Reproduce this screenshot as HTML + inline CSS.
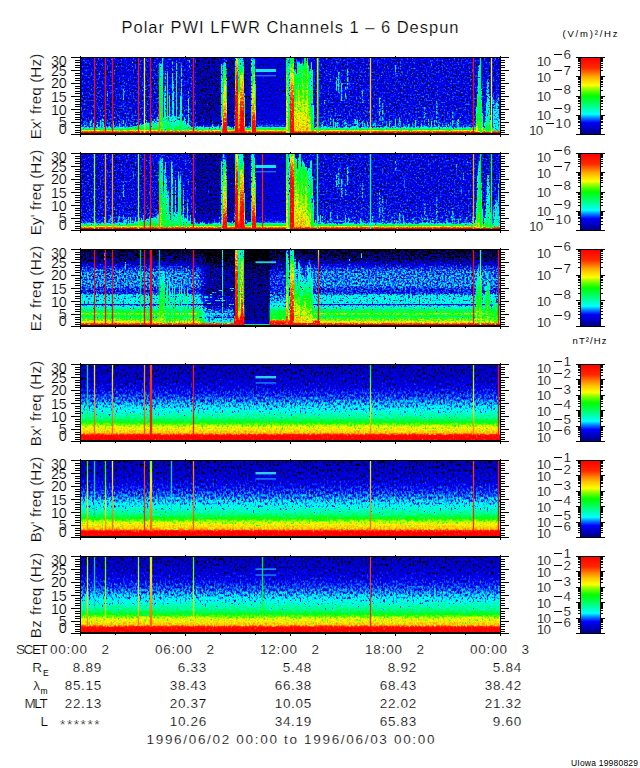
<!DOCTYPE html>
<html><head><meta charset="utf-8"><title>Polar PWI LFWR</title><style>html,body{margin:0;padding:0;background:#fff}text{stroke:#fff;stroke-width:.2px}text.s{stroke:none}</style></head><body>
<svg width="640" height="768" viewBox="0 0 640 768" style="display:block" font-family="'Liberation Sans', sans-serif" fill="#000">
<defs>
<filter id="f0" filterUnits="userSpaceOnUse" x="81" y="58" width="419" height="76" color-interpolation-filters="sRGB"><feTurbulence type="fractalNoise" baseFrequency="0.57 0.53" numOctaves="2" seed="3" result="n"/><feColorMatrix in="n" type="matrix" values="1 0 0 0 0  1 0 0 0 0  1 0 0 0 0  0 0 0 0 1" result="ng0"/><feComponentTransfer in="ng0" result="ng"><feFuncR type="table" tableValues="0.000 0.000 0.000 0.000 0.000 0.000 0.000 0.000 0.000 0.000 0.000 0.000 0.002 0.045 0.095 0.139 0.177 0.210 0.242 0.270 0.294 0.319 0.345 0.365 0.383 0.401 0.417 0.433 0.449 0.464 0.479 0.493 0.508 0.521 0.533 0.544 0.554 0.564 0.574 0.583 0.592 0.600 0.609 0.619 0.627 0.636 0.645 0.653 0.662 0.670 0.678 0.687 0.695 0.702 0.710 0.718 0.725 0.725 0.725 0.725 0.725 0.725 0.725 0.725"/><feFuncG type="table" tableValues="0.000 0.000 0.000 0.000 0.000 0.000 0.000 0.000 0.000 0.000 0.000 0.000 0.002 0.045 0.095 0.139 0.177 0.210 0.242 0.270 0.294 0.319 0.345 0.365 0.383 0.401 0.417 0.433 0.449 0.464 0.479 0.493 0.508 0.521 0.533 0.544 0.554 0.564 0.574 0.583 0.592 0.600 0.609 0.619 0.627 0.636 0.645 0.653 0.662 0.670 0.678 0.687 0.695 0.702 0.710 0.718 0.725 0.725 0.725 0.725 0.725 0.725 0.725 0.725"/><feFuncB type="table" tableValues="0.000 0.000 0.000 0.000 0.000 0.000 0.000 0.000 0.000 0.000 0.000 0.000 0.002 0.045 0.095 0.139 0.177 0.210 0.242 0.270 0.294 0.319 0.345 0.365 0.383 0.401 0.417 0.433 0.449 0.464 0.479 0.493 0.508 0.521 0.533 0.544 0.554 0.564 0.574 0.583 0.592 0.600 0.609 0.619 0.627 0.636 0.645 0.653 0.662 0.670 0.678 0.687 0.695 0.702 0.710 0.718 0.725 0.725 0.725 0.725 0.725 0.725 0.725 0.725"/></feComponentTransfer><feComposite in="SourceGraphic" in2="ng" operator="arithmetic" k1="0" k2="1" k3="0.46" k4="-0.230" result="s"/><feComponentTransfer in="s"><feFuncR type="table" tableValues="0.000 0.000 0.000 0.000 0.000 0.000 0.000 0.000 0.000 0.000 0.000 0.000 0.000 0.000 0.000 0.000 0.000 0.000 0.000 0.000 0.000 0.000 0.000 0.000 0.000 0.000 0.000 0.000 0.000 0.000 0.000 0.000 0.000 0.000 0.063 0.169 0.278 0.384 0.490 0.596 0.737 0.894 1.000 1.000 1.000 1.000 1.000 1.000 1.000 1.000 1.000 1.000 1.000 1.000 1.000 1.000 1.000 1.000 1.000 1.000 1.000 1.000 1.000 1.000"/><feFuncG type="table" tableValues="0.000 0.000 0.000 0.000 0.000 0.000 0.000 0.000 0.000 0.000 0.000 0.000 0.000 0.047 0.192 0.337 0.478 0.639 0.804 0.973 1.000 1.000 1.000 1.000 1.000 1.000 1.000 1.000 1.000 1.000 1.000 1.000 1.000 1.000 1.000 1.000 1.000 1.000 1.000 1.000 1.000 1.000 0.984 0.941 0.894 0.847 0.804 0.745 0.678 0.612 0.545 0.475 0.400 0.325 0.251 0.180 0.141 0.122 0.102 0.082 0.063 0.039 0.020 0.000"/><feFuncB type="table" tableValues="0.000 0.000 0.000 0.000 0.000 0.000 0.635 0.690 0.745 0.800 0.855 0.910 0.965 1.000 1.000 1.000 1.000 1.000 1.000 1.000 0.941 0.871 0.796 0.725 0.651 0.576 0.502 0.427 0.357 0.290 0.224 0.157 0.090 0.027 0.000 0.000 0.000 0.000 0.000 0.000 0.000 0.000 0.000 0.000 0.000 0.000 0.000 0.000 0.000 0.000 0.000 0.000 0.000 0.000 0.000 0.000 0.000 0.000 0.000 0.000 0.000 0.000 0.000 0.000"/></feComponentTransfer></filter>
<filter id="f1" filterUnits="userSpaceOnUse" x="81" y="154" width="419" height="76" color-interpolation-filters="sRGB"><feTurbulence type="fractalNoise" baseFrequency="0.57 0.53" numOctaves="2" seed="8" result="n"/><feColorMatrix in="n" type="matrix" values="1 0 0 0 0  1 0 0 0 0  1 0 0 0 0  0 0 0 0 1" result="ng0"/><feComponentTransfer in="ng0" result="ng"><feFuncR type="table" tableValues="0.000 0.000 0.000 0.000 0.000 0.000 0.000 0.000 0.000 0.000 0.000 0.000 0.002 0.045 0.095 0.139 0.177 0.210 0.242 0.270 0.294 0.319 0.345 0.365 0.383 0.401 0.417 0.433 0.449 0.464 0.479 0.493 0.508 0.521 0.533 0.544 0.554 0.564 0.574 0.583 0.592 0.600 0.609 0.619 0.627 0.636 0.645 0.653 0.662 0.670 0.678 0.687 0.695 0.702 0.710 0.718 0.725 0.725 0.725 0.725 0.725 0.725 0.725 0.725"/><feFuncG type="table" tableValues="0.000 0.000 0.000 0.000 0.000 0.000 0.000 0.000 0.000 0.000 0.000 0.000 0.002 0.045 0.095 0.139 0.177 0.210 0.242 0.270 0.294 0.319 0.345 0.365 0.383 0.401 0.417 0.433 0.449 0.464 0.479 0.493 0.508 0.521 0.533 0.544 0.554 0.564 0.574 0.583 0.592 0.600 0.609 0.619 0.627 0.636 0.645 0.653 0.662 0.670 0.678 0.687 0.695 0.702 0.710 0.718 0.725 0.725 0.725 0.725 0.725 0.725 0.725 0.725"/><feFuncB type="table" tableValues="0.000 0.000 0.000 0.000 0.000 0.000 0.000 0.000 0.000 0.000 0.000 0.000 0.002 0.045 0.095 0.139 0.177 0.210 0.242 0.270 0.294 0.319 0.345 0.365 0.383 0.401 0.417 0.433 0.449 0.464 0.479 0.493 0.508 0.521 0.533 0.544 0.554 0.564 0.574 0.583 0.592 0.600 0.609 0.619 0.627 0.636 0.645 0.653 0.662 0.670 0.678 0.687 0.695 0.702 0.710 0.718 0.725 0.725 0.725 0.725 0.725 0.725 0.725 0.725"/></feComponentTransfer><feComposite in="SourceGraphic" in2="ng" operator="arithmetic" k1="0" k2="1" k3="0.46" k4="-0.230" result="s"/><feComponentTransfer in="s"><feFuncR type="table" tableValues="0.000 0.000 0.000 0.000 0.000 0.000 0.000 0.000 0.000 0.000 0.000 0.000 0.000 0.000 0.000 0.000 0.000 0.000 0.000 0.000 0.000 0.000 0.000 0.000 0.000 0.000 0.000 0.000 0.000 0.000 0.000 0.000 0.000 0.000 0.063 0.169 0.278 0.384 0.490 0.596 0.737 0.894 1.000 1.000 1.000 1.000 1.000 1.000 1.000 1.000 1.000 1.000 1.000 1.000 1.000 1.000 1.000 1.000 1.000 1.000 1.000 1.000 1.000 1.000"/><feFuncG type="table" tableValues="0.000 0.000 0.000 0.000 0.000 0.000 0.000 0.000 0.000 0.000 0.000 0.000 0.000 0.047 0.192 0.337 0.478 0.639 0.804 0.973 1.000 1.000 1.000 1.000 1.000 1.000 1.000 1.000 1.000 1.000 1.000 1.000 1.000 1.000 1.000 1.000 1.000 1.000 1.000 1.000 1.000 1.000 0.984 0.941 0.894 0.847 0.804 0.745 0.678 0.612 0.545 0.475 0.400 0.325 0.251 0.180 0.141 0.122 0.102 0.082 0.063 0.039 0.020 0.000"/><feFuncB type="table" tableValues="0.000 0.000 0.000 0.000 0.000 0.000 0.635 0.690 0.745 0.800 0.855 0.910 0.965 1.000 1.000 1.000 1.000 1.000 1.000 1.000 0.941 0.871 0.796 0.725 0.651 0.576 0.502 0.427 0.357 0.290 0.224 0.157 0.090 0.027 0.000 0.000 0.000 0.000 0.000 0.000 0.000 0.000 0.000 0.000 0.000 0.000 0.000 0.000 0.000 0.000 0.000 0.000 0.000 0.000 0.000 0.000 0.000 0.000 0.000 0.000 0.000 0.000 0.000 0.000"/></feComponentTransfer></filter>
<filter id="f2" filterUnits="userSpaceOnUse" x="81" y="250" width="419" height="76" color-interpolation-filters="sRGB"><feTurbulence type="fractalNoise" baseFrequency="0.57 0.53" numOctaves="2" seed="13" result="n"/><feColorMatrix in="n" type="matrix" values="1 0 0 0 0  1 0 0 0 0  1 0 0 0 0  0 0 0 0 1" result="ng0"/><feComponentTransfer in="ng0" result="ng"><feFuncR type="table" tableValues="0.000 0.000 0.000 0.000 0.000 0.000 0.000 0.000 0.000 0.000 0.000 0.000 0.002 0.045 0.095 0.139 0.177 0.210 0.242 0.270 0.294 0.319 0.345 0.365 0.383 0.401 0.417 0.433 0.449 0.464 0.479 0.493 0.508 0.521 0.533 0.544 0.554 0.564 0.574 0.583 0.592 0.600 0.609 0.619 0.627 0.636 0.645 0.653 0.662 0.670 0.678 0.687 0.695 0.702 0.710 0.718 0.725 0.725 0.725 0.725 0.725 0.725 0.725 0.725"/><feFuncG type="table" tableValues="0.000 0.000 0.000 0.000 0.000 0.000 0.000 0.000 0.000 0.000 0.000 0.000 0.002 0.045 0.095 0.139 0.177 0.210 0.242 0.270 0.294 0.319 0.345 0.365 0.383 0.401 0.417 0.433 0.449 0.464 0.479 0.493 0.508 0.521 0.533 0.544 0.554 0.564 0.574 0.583 0.592 0.600 0.609 0.619 0.627 0.636 0.645 0.653 0.662 0.670 0.678 0.687 0.695 0.702 0.710 0.718 0.725 0.725 0.725 0.725 0.725 0.725 0.725 0.725"/><feFuncB type="table" tableValues="0.000 0.000 0.000 0.000 0.000 0.000 0.000 0.000 0.000 0.000 0.000 0.000 0.002 0.045 0.095 0.139 0.177 0.210 0.242 0.270 0.294 0.319 0.345 0.365 0.383 0.401 0.417 0.433 0.449 0.464 0.479 0.493 0.508 0.521 0.533 0.544 0.554 0.564 0.574 0.583 0.592 0.600 0.609 0.619 0.627 0.636 0.645 0.653 0.662 0.670 0.678 0.687 0.695 0.702 0.710 0.718 0.725 0.725 0.725 0.725 0.725 0.725 0.725 0.725"/></feComponentTransfer><feComposite in="SourceGraphic" in2="ng" operator="arithmetic" k1="0" k2="1" k3="0.48" k4="-0.240" result="s"/><feComponentTransfer in="s"><feFuncR type="table" tableValues="0.000 0.000 0.000 0.000 0.000 0.000 0.000 0.000 0.000 0.000 0.000 0.000 0.000 0.000 0.000 0.000 0.000 0.000 0.000 0.000 0.000 0.000 0.000 0.000 0.000 0.000 0.000 0.000 0.000 0.000 0.000 0.000 0.000 0.000 0.063 0.169 0.278 0.384 0.490 0.596 0.737 0.894 1.000 1.000 1.000 1.000 1.000 1.000 1.000 1.000 1.000 1.000 1.000 1.000 1.000 1.000 1.000 1.000 1.000 1.000 1.000 1.000 1.000 1.000"/><feFuncG type="table" tableValues="0.000 0.000 0.000 0.000 0.000 0.000 0.000 0.000 0.000 0.000 0.000 0.000 0.000 0.047 0.192 0.337 0.478 0.639 0.804 0.973 1.000 1.000 1.000 1.000 1.000 1.000 1.000 1.000 1.000 1.000 1.000 1.000 1.000 1.000 1.000 1.000 1.000 1.000 1.000 1.000 1.000 1.000 0.984 0.941 0.894 0.847 0.804 0.745 0.678 0.612 0.545 0.475 0.400 0.325 0.251 0.180 0.141 0.122 0.102 0.082 0.063 0.039 0.020 0.000"/><feFuncB type="table" tableValues="0.000 0.000 0.000 0.000 0.000 0.000 0.635 0.690 0.745 0.800 0.855 0.910 0.965 1.000 1.000 1.000 1.000 1.000 1.000 1.000 0.941 0.871 0.796 0.725 0.651 0.576 0.502 0.427 0.357 0.290 0.224 0.157 0.090 0.027 0.000 0.000 0.000 0.000 0.000 0.000 0.000 0.000 0.000 0.000 0.000 0.000 0.000 0.000 0.000 0.000 0.000 0.000 0.000 0.000 0.000 0.000 0.000 0.000 0.000 0.000 0.000 0.000 0.000 0.000"/></feComponentTransfer></filter>
<filter id="f3" filterUnits="userSpaceOnUse" x="81" y="365" width="419" height="76" color-interpolation-filters="sRGB"><feTurbulence type="fractalNoise" baseFrequency="0.55 0.36" numOctaves="2" seed="18" result="n"/><feColorMatrix in="n" type="matrix" values="1 0 0 0 0  1 0 0 0 0  1 0 0 0 0  0 0 0 0 1" result="ng0"/><feComponentTransfer in="ng0" result="ng"><feFuncR type="table" tableValues="0.000 0.000 0.000 0.000 0.000 0.000 0.000 0.000 0.000 0.000 0.000 0.000 0.002 0.045 0.095 0.139 0.177 0.210 0.242 0.270 0.294 0.319 0.345 0.365 0.383 0.401 0.417 0.433 0.449 0.464 0.479 0.493 0.508 0.521 0.533 0.544 0.554 0.564 0.574 0.583 0.592 0.600 0.609 0.619 0.627 0.636 0.645 0.653 0.662 0.670 0.678 0.687 0.695 0.702 0.710 0.718 0.725 0.725 0.725 0.725 0.725 0.725 0.725 0.725"/><feFuncG type="table" tableValues="0.000 0.000 0.000 0.000 0.000 0.000 0.000 0.000 0.000 0.000 0.000 0.000 0.002 0.045 0.095 0.139 0.177 0.210 0.242 0.270 0.294 0.319 0.345 0.365 0.383 0.401 0.417 0.433 0.449 0.464 0.479 0.493 0.508 0.521 0.533 0.544 0.554 0.564 0.574 0.583 0.592 0.600 0.609 0.619 0.627 0.636 0.645 0.653 0.662 0.670 0.678 0.687 0.695 0.702 0.710 0.718 0.725 0.725 0.725 0.725 0.725 0.725 0.725 0.725"/><feFuncB type="table" tableValues="0.000 0.000 0.000 0.000 0.000 0.000 0.000 0.000 0.000 0.000 0.000 0.000 0.002 0.045 0.095 0.139 0.177 0.210 0.242 0.270 0.294 0.319 0.345 0.365 0.383 0.401 0.417 0.433 0.449 0.464 0.479 0.493 0.508 0.521 0.533 0.544 0.554 0.564 0.574 0.583 0.592 0.600 0.609 0.619 0.627 0.636 0.645 0.653 0.662 0.670 0.678 0.687 0.695 0.702 0.710 0.718 0.725 0.725 0.725 0.725 0.725 0.725 0.725 0.725"/></feComponentTransfer><feComposite in="SourceGraphic" in2="ng" operator="arithmetic" k1="0" k2="1" k3="0.34" k4="-0.170" result="s"/><feComponentTransfer in="s"><feFuncR type="table" tableValues="0.000 0.000 0.000 0.000 0.000 0.000 0.000 0.000 0.000 0.000 0.000 0.000 0.000 0.000 0.000 0.000 0.000 0.000 0.000 0.000 0.000 0.000 0.000 0.000 0.000 0.000 0.000 0.000 0.000 0.000 0.000 0.000 0.000 0.000 0.063 0.169 0.278 0.384 0.490 0.596 0.737 0.894 1.000 1.000 1.000 1.000 1.000 1.000 1.000 1.000 1.000 1.000 1.000 1.000 1.000 1.000 1.000 1.000 1.000 1.000 1.000 1.000 1.000 1.000"/><feFuncG type="table" tableValues="0.000 0.000 0.000 0.000 0.000 0.000 0.000 0.000 0.000 0.000 0.000 0.000 0.000 0.047 0.192 0.337 0.478 0.639 0.804 0.973 1.000 1.000 1.000 1.000 1.000 1.000 1.000 1.000 1.000 1.000 1.000 1.000 1.000 1.000 1.000 1.000 1.000 1.000 1.000 1.000 1.000 1.000 0.984 0.941 0.894 0.847 0.804 0.745 0.678 0.612 0.545 0.475 0.400 0.325 0.251 0.180 0.141 0.122 0.102 0.082 0.063 0.039 0.020 0.000"/><feFuncB type="table" tableValues="0.000 0.000 0.000 0.000 0.000 0.000 0.635 0.690 0.745 0.800 0.855 0.910 0.965 1.000 1.000 1.000 1.000 1.000 1.000 1.000 0.941 0.871 0.796 0.725 0.651 0.576 0.502 0.427 0.357 0.290 0.224 0.157 0.090 0.027 0.000 0.000 0.000 0.000 0.000 0.000 0.000 0.000 0.000 0.000 0.000 0.000 0.000 0.000 0.000 0.000 0.000 0.000 0.000 0.000 0.000 0.000 0.000 0.000 0.000 0.000 0.000 0.000 0.000 0.000"/></feComponentTransfer></filter>
<filter id="f4" filterUnits="userSpaceOnUse" x="81" y="461" width="419" height="76" color-interpolation-filters="sRGB"><feTurbulence type="fractalNoise" baseFrequency="0.55 0.36" numOctaves="2" seed="23" result="n"/><feColorMatrix in="n" type="matrix" values="1 0 0 0 0  1 0 0 0 0  1 0 0 0 0  0 0 0 0 1" result="ng0"/><feComponentTransfer in="ng0" result="ng"><feFuncR type="table" tableValues="0.000 0.000 0.000 0.000 0.000 0.000 0.000 0.000 0.000 0.000 0.000 0.000 0.002 0.045 0.095 0.139 0.177 0.210 0.242 0.270 0.294 0.319 0.345 0.365 0.383 0.401 0.417 0.433 0.449 0.464 0.479 0.493 0.508 0.521 0.533 0.544 0.554 0.564 0.574 0.583 0.592 0.600 0.609 0.619 0.627 0.636 0.645 0.653 0.662 0.670 0.678 0.687 0.695 0.702 0.710 0.718 0.725 0.725 0.725 0.725 0.725 0.725 0.725 0.725"/><feFuncG type="table" tableValues="0.000 0.000 0.000 0.000 0.000 0.000 0.000 0.000 0.000 0.000 0.000 0.000 0.002 0.045 0.095 0.139 0.177 0.210 0.242 0.270 0.294 0.319 0.345 0.365 0.383 0.401 0.417 0.433 0.449 0.464 0.479 0.493 0.508 0.521 0.533 0.544 0.554 0.564 0.574 0.583 0.592 0.600 0.609 0.619 0.627 0.636 0.645 0.653 0.662 0.670 0.678 0.687 0.695 0.702 0.710 0.718 0.725 0.725 0.725 0.725 0.725 0.725 0.725 0.725"/><feFuncB type="table" tableValues="0.000 0.000 0.000 0.000 0.000 0.000 0.000 0.000 0.000 0.000 0.000 0.000 0.002 0.045 0.095 0.139 0.177 0.210 0.242 0.270 0.294 0.319 0.345 0.365 0.383 0.401 0.417 0.433 0.449 0.464 0.479 0.493 0.508 0.521 0.533 0.544 0.554 0.564 0.574 0.583 0.592 0.600 0.609 0.619 0.627 0.636 0.645 0.653 0.662 0.670 0.678 0.687 0.695 0.702 0.710 0.718 0.725 0.725 0.725 0.725 0.725 0.725 0.725 0.725"/></feComponentTransfer><feComposite in="SourceGraphic" in2="ng" operator="arithmetic" k1="0" k2="1" k3="0.34" k4="-0.170" result="s"/><feComponentTransfer in="s"><feFuncR type="table" tableValues="0.000 0.000 0.000 0.000 0.000 0.000 0.000 0.000 0.000 0.000 0.000 0.000 0.000 0.000 0.000 0.000 0.000 0.000 0.000 0.000 0.000 0.000 0.000 0.000 0.000 0.000 0.000 0.000 0.000 0.000 0.000 0.000 0.000 0.000 0.063 0.169 0.278 0.384 0.490 0.596 0.737 0.894 1.000 1.000 1.000 1.000 1.000 1.000 1.000 1.000 1.000 1.000 1.000 1.000 1.000 1.000 1.000 1.000 1.000 1.000 1.000 1.000 1.000 1.000"/><feFuncG type="table" tableValues="0.000 0.000 0.000 0.000 0.000 0.000 0.000 0.000 0.000 0.000 0.000 0.000 0.000 0.047 0.192 0.337 0.478 0.639 0.804 0.973 1.000 1.000 1.000 1.000 1.000 1.000 1.000 1.000 1.000 1.000 1.000 1.000 1.000 1.000 1.000 1.000 1.000 1.000 1.000 1.000 1.000 1.000 0.984 0.941 0.894 0.847 0.804 0.745 0.678 0.612 0.545 0.475 0.400 0.325 0.251 0.180 0.141 0.122 0.102 0.082 0.063 0.039 0.020 0.000"/><feFuncB type="table" tableValues="0.000 0.000 0.000 0.000 0.000 0.000 0.635 0.690 0.745 0.800 0.855 0.910 0.965 1.000 1.000 1.000 1.000 1.000 1.000 1.000 0.941 0.871 0.796 0.725 0.651 0.576 0.502 0.427 0.357 0.290 0.224 0.157 0.090 0.027 0.000 0.000 0.000 0.000 0.000 0.000 0.000 0.000 0.000 0.000 0.000 0.000 0.000 0.000 0.000 0.000 0.000 0.000 0.000 0.000 0.000 0.000 0.000 0.000 0.000 0.000 0.000 0.000 0.000 0.000"/></feComponentTransfer></filter>
<filter id="f5" filterUnits="userSpaceOnUse" x="81" y="557" width="419" height="76" color-interpolation-filters="sRGB"><feTurbulence type="fractalNoise" baseFrequency="0.55 0.36" numOctaves="2" seed="28" result="n"/><feColorMatrix in="n" type="matrix" values="1 0 0 0 0  1 0 0 0 0  1 0 0 0 0  0 0 0 0 1" result="ng0"/><feComponentTransfer in="ng0" result="ng"><feFuncR type="table" tableValues="0.000 0.000 0.000 0.000 0.000 0.000 0.000 0.000 0.000 0.000 0.000 0.000 0.002 0.045 0.095 0.139 0.177 0.210 0.242 0.270 0.294 0.319 0.345 0.365 0.383 0.401 0.417 0.433 0.449 0.464 0.479 0.493 0.508 0.521 0.533 0.544 0.554 0.564 0.574 0.583 0.592 0.600 0.609 0.619 0.627 0.636 0.645 0.653 0.662 0.670 0.678 0.687 0.695 0.702 0.710 0.718 0.725 0.725 0.725 0.725 0.725 0.725 0.725 0.725"/><feFuncG type="table" tableValues="0.000 0.000 0.000 0.000 0.000 0.000 0.000 0.000 0.000 0.000 0.000 0.000 0.002 0.045 0.095 0.139 0.177 0.210 0.242 0.270 0.294 0.319 0.345 0.365 0.383 0.401 0.417 0.433 0.449 0.464 0.479 0.493 0.508 0.521 0.533 0.544 0.554 0.564 0.574 0.583 0.592 0.600 0.609 0.619 0.627 0.636 0.645 0.653 0.662 0.670 0.678 0.687 0.695 0.702 0.710 0.718 0.725 0.725 0.725 0.725 0.725 0.725 0.725 0.725"/><feFuncB type="table" tableValues="0.000 0.000 0.000 0.000 0.000 0.000 0.000 0.000 0.000 0.000 0.000 0.000 0.002 0.045 0.095 0.139 0.177 0.210 0.242 0.270 0.294 0.319 0.345 0.365 0.383 0.401 0.417 0.433 0.449 0.464 0.479 0.493 0.508 0.521 0.533 0.544 0.554 0.564 0.574 0.583 0.592 0.600 0.609 0.619 0.627 0.636 0.645 0.653 0.662 0.670 0.678 0.687 0.695 0.702 0.710 0.718 0.725 0.725 0.725 0.725 0.725 0.725 0.725 0.725"/></feComponentTransfer><feComposite in="SourceGraphic" in2="ng" operator="arithmetic" k1="0" k2="1" k3="0.34" k4="-0.170" result="s"/><feComponentTransfer in="s"><feFuncR type="table" tableValues="0.000 0.000 0.000 0.000 0.000 0.000 0.000 0.000 0.000 0.000 0.000 0.000 0.000 0.000 0.000 0.000 0.000 0.000 0.000 0.000 0.000 0.000 0.000 0.000 0.000 0.000 0.000 0.000 0.000 0.000 0.000 0.000 0.000 0.000 0.063 0.169 0.278 0.384 0.490 0.596 0.737 0.894 1.000 1.000 1.000 1.000 1.000 1.000 1.000 1.000 1.000 1.000 1.000 1.000 1.000 1.000 1.000 1.000 1.000 1.000 1.000 1.000 1.000 1.000"/><feFuncG type="table" tableValues="0.000 0.000 0.000 0.000 0.000 0.000 0.000 0.000 0.000 0.000 0.000 0.000 0.000 0.047 0.192 0.337 0.478 0.639 0.804 0.973 1.000 1.000 1.000 1.000 1.000 1.000 1.000 1.000 1.000 1.000 1.000 1.000 1.000 1.000 1.000 1.000 1.000 1.000 1.000 1.000 1.000 1.000 0.984 0.941 0.894 0.847 0.804 0.745 0.678 0.612 0.545 0.475 0.400 0.325 0.251 0.180 0.141 0.122 0.102 0.082 0.063 0.039 0.020 0.000"/><feFuncB type="table" tableValues="0.000 0.000 0.000 0.000 0.000 0.000 0.635 0.690 0.745 0.800 0.855 0.910 0.965 1.000 1.000 1.000 1.000 1.000 1.000 1.000 0.941 0.871 0.796 0.725 0.651 0.576 0.502 0.427 0.357 0.290 0.224 0.157 0.090 0.027 0.000 0.000 0.000 0.000 0.000 0.000 0.000 0.000 0.000 0.000 0.000 0.000 0.000 0.000 0.000 0.000 0.000 0.000 0.000 0.000 0.000 0.000 0.000 0.000 0.000 0.000 0.000 0.000 0.000 0.000"/></feComponentTransfer></filter>
<filter id="q0" filterUnits="userSpaceOnUse" x="256" y="58" width="30" height="76" color-interpolation-filters="sRGB"><feTurbulence type="fractalNoise" baseFrequency="0.57 0.53" numOctaves="2" seed="2" result="n"/><feColorMatrix in="n" type="matrix" values="1 0 0 0 0  1 0 0 0 0  1 0 0 0 0  0 0 0 0 1" result="ng0"/><feComponentTransfer in="ng0" result="ng"><feFuncR type="table" tableValues="0.000 0.000 0.000 0.000 0.000 0.000 0.000 0.000 0.000 0.000 0.000 0.000 0.002 0.045 0.095 0.139 0.177 0.210 0.242 0.270 0.294 0.319 0.345 0.365 0.383 0.401 0.417 0.433 0.449 0.464 0.479 0.493 0.508 0.521 0.533 0.544 0.554 0.564 0.574 0.583 0.592 0.600 0.609 0.619 0.627 0.636 0.645 0.653 0.662 0.670 0.678 0.687 0.695 0.702 0.710 0.718 0.725 0.725 0.725 0.725 0.725 0.725 0.725 0.725"/><feFuncG type="table" tableValues="0.000 0.000 0.000 0.000 0.000 0.000 0.000 0.000 0.000 0.000 0.000 0.000 0.002 0.045 0.095 0.139 0.177 0.210 0.242 0.270 0.294 0.319 0.345 0.365 0.383 0.401 0.417 0.433 0.449 0.464 0.479 0.493 0.508 0.521 0.533 0.544 0.554 0.564 0.574 0.583 0.592 0.600 0.609 0.619 0.627 0.636 0.645 0.653 0.662 0.670 0.678 0.687 0.695 0.702 0.710 0.718 0.725 0.725 0.725 0.725 0.725 0.725 0.725 0.725"/><feFuncB type="table" tableValues="0.000 0.000 0.000 0.000 0.000 0.000 0.000 0.000 0.000 0.000 0.000 0.000 0.002 0.045 0.095 0.139 0.177 0.210 0.242 0.270 0.294 0.319 0.345 0.365 0.383 0.401 0.417 0.433 0.449 0.464 0.479 0.493 0.508 0.521 0.533 0.544 0.554 0.564 0.574 0.583 0.592 0.600 0.609 0.619 0.627 0.636 0.645 0.653 0.662 0.670 0.678 0.687 0.695 0.702 0.710 0.718 0.725 0.725 0.725 0.725 0.725 0.725 0.725 0.725"/></feComponentTransfer><feComposite in="SourceGraphic" in2="ng" operator="arithmetic" k1="0" k2="1" k3="0.3" k4="-0.150" result="s"/><feComponentTransfer in="s"><feFuncR type="table" tableValues="0.000 0.000 0.000 0.000 0.000 0.000 0.000 0.000 0.000 0.000 0.000 0.000 0.000 0.000 0.000 0.000 0.000 0.000 0.000 0.000 0.000 0.000 0.000 0.000 0.000 0.000 0.000 0.000 0.000 0.000 0.000 0.000 0.000 0.000 0.063 0.169 0.278 0.384 0.490 0.596 0.737 0.894 1.000 1.000 1.000 1.000 1.000 1.000 1.000 1.000 1.000 1.000 1.000 1.000 1.000 1.000 1.000 1.000 1.000 1.000 1.000 1.000 1.000 1.000"/><feFuncG type="table" tableValues="0.000 0.000 0.000 0.000 0.000 0.000 0.000 0.000 0.000 0.000 0.000 0.000 0.000 0.047 0.192 0.337 0.478 0.639 0.804 0.973 1.000 1.000 1.000 1.000 1.000 1.000 1.000 1.000 1.000 1.000 1.000 1.000 1.000 1.000 1.000 1.000 1.000 1.000 1.000 1.000 1.000 1.000 0.984 0.941 0.894 0.847 0.804 0.745 0.678 0.612 0.545 0.475 0.400 0.325 0.251 0.180 0.141 0.122 0.102 0.082 0.063 0.039 0.020 0.000"/><feFuncB type="table" tableValues="0.000 0.000 0.000 0.000 0.000 0.000 0.635 0.690 0.745 0.800 0.855 0.910 0.965 1.000 1.000 1.000 1.000 1.000 1.000 1.000 0.941 0.871 0.796 0.725 0.651 0.576 0.502 0.427 0.357 0.290 0.224 0.157 0.090 0.027 0.000 0.000 0.000 0.000 0.000 0.000 0.000 0.000 0.000 0.000 0.000 0.000 0.000 0.000 0.000 0.000 0.000 0.000 0.000 0.000 0.000 0.000 0.000 0.000 0.000 0.000 0.000 0.000 0.000 0.000"/></feComponentTransfer></filter>
<filter id="q1" filterUnits="userSpaceOnUse" x="256" y="154" width="30" height="76" color-interpolation-filters="sRGB"><feTurbulence type="fractalNoise" baseFrequency="0.57 0.53" numOctaves="2" seed="9" result="n"/><feColorMatrix in="n" type="matrix" values="1 0 0 0 0  1 0 0 0 0  1 0 0 0 0  0 0 0 0 1" result="ng0"/><feComponentTransfer in="ng0" result="ng"><feFuncR type="table" tableValues="0.000 0.000 0.000 0.000 0.000 0.000 0.000 0.000 0.000 0.000 0.000 0.000 0.002 0.045 0.095 0.139 0.177 0.210 0.242 0.270 0.294 0.319 0.345 0.365 0.383 0.401 0.417 0.433 0.449 0.464 0.479 0.493 0.508 0.521 0.533 0.544 0.554 0.564 0.574 0.583 0.592 0.600 0.609 0.619 0.627 0.636 0.645 0.653 0.662 0.670 0.678 0.687 0.695 0.702 0.710 0.718 0.725 0.725 0.725 0.725 0.725 0.725 0.725 0.725"/><feFuncG type="table" tableValues="0.000 0.000 0.000 0.000 0.000 0.000 0.000 0.000 0.000 0.000 0.000 0.000 0.002 0.045 0.095 0.139 0.177 0.210 0.242 0.270 0.294 0.319 0.345 0.365 0.383 0.401 0.417 0.433 0.449 0.464 0.479 0.493 0.508 0.521 0.533 0.544 0.554 0.564 0.574 0.583 0.592 0.600 0.609 0.619 0.627 0.636 0.645 0.653 0.662 0.670 0.678 0.687 0.695 0.702 0.710 0.718 0.725 0.725 0.725 0.725 0.725 0.725 0.725 0.725"/><feFuncB type="table" tableValues="0.000 0.000 0.000 0.000 0.000 0.000 0.000 0.000 0.000 0.000 0.000 0.000 0.002 0.045 0.095 0.139 0.177 0.210 0.242 0.270 0.294 0.319 0.345 0.365 0.383 0.401 0.417 0.433 0.449 0.464 0.479 0.493 0.508 0.521 0.533 0.544 0.554 0.564 0.574 0.583 0.592 0.600 0.609 0.619 0.627 0.636 0.645 0.653 0.662 0.670 0.678 0.687 0.695 0.702 0.710 0.718 0.725 0.725 0.725 0.725 0.725 0.725 0.725 0.725"/></feComponentTransfer><feComposite in="SourceGraphic" in2="ng" operator="arithmetic" k1="0" k2="1" k3="0.3" k4="-0.150" result="s"/><feComponentTransfer in="s"><feFuncR type="table" tableValues="0.000 0.000 0.000 0.000 0.000 0.000 0.000 0.000 0.000 0.000 0.000 0.000 0.000 0.000 0.000 0.000 0.000 0.000 0.000 0.000 0.000 0.000 0.000 0.000 0.000 0.000 0.000 0.000 0.000 0.000 0.000 0.000 0.000 0.000 0.063 0.169 0.278 0.384 0.490 0.596 0.737 0.894 1.000 1.000 1.000 1.000 1.000 1.000 1.000 1.000 1.000 1.000 1.000 1.000 1.000 1.000 1.000 1.000 1.000 1.000 1.000 1.000 1.000 1.000"/><feFuncG type="table" tableValues="0.000 0.000 0.000 0.000 0.000 0.000 0.000 0.000 0.000 0.000 0.000 0.000 0.000 0.047 0.192 0.337 0.478 0.639 0.804 0.973 1.000 1.000 1.000 1.000 1.000 1.000 1.000 1.000 1.000 1.000 1.000 1.000 1.000 1.000 1.000 1.000 1.000 1.000 1.000 1.000 1.000 1.000 0.984 0.941 0.894 0.847 0.804 0.745 0.678 0.612 0.545 0.475 0.400 0.325 0.251 0.180 0.141 0.122 0.102 0.082 0.063 0.039 0.020 0.000"/><feFuncB type="table" tableValues="0.000 0.000 0.000 0.000 0.000 0.000 0.635 0.690 0.745 0.800 0.855 0.910 0.965 1.000 1.000 1.000 1.000 1.000 1.000 1.000 0.941 0.871 0.796 0.725 0.651 0.576 0.502 0.427 0.357 0.290 0.224 0.157 0.090 0.027 0.000 0.000 0.000 0.000 0.000 0.000 0.000 0.000 0.000 0.000 0.000 0.000 0.000 0.000 0.000 0.000 0.000 0.000 0.000 0.000 0.000 0.000 0.000 0.000 0.000 0.000 0.000 0.000 0.000 0.000"/></feComponentTransfer></filter>
<filter id="q2" filterUnits="userSpaceOnUse" x="244.5" y="250" width="25.0" height="76" color-interpolation-filters="sRGB"><feTurbulence type="fractalNoise" baseFrequency="0.57 0.53" numOctaves="2" seed="16" result="n"/><feColorMatrix in="n" type="matrix" values="1 0 0 0 0  1 0 0 0 0  1 0 0 0 0  0 0 0 0 1" result="ng0"/><feComponentTransfer in="ng0" result="ng"><feFuncR type="table" tableValues="0.000 0.000 0.000 0.000 0.000 0.000 0.000 0.000 0.000 0.000 0.000 0.000 0.002 0.045 0.095 0.139 0.177 0.210 0.242 0.270 0.294 0.319 0.345 0.365 0.383 0.401 0.417 0.433 0.449 0.464 0.479 0.493 0.508 0.521 0.533 0.544 0.554 0.564 0.574 0.583 0.592 0.600 0.609 0.619 0.627 0.636 0.645 0.653 0.662 0.670 0.678 0.687 0.695 0.702 0.710 0.718 0.725 0.725 0.725 0.725 0.725 0.725 0.725 0.725"/><feFuncG type="table" tableValues="0.000 0.000 0.000 0.000 0.000 0.000 0.000 0.000 0.000 0.000 0.000 0.000 0.002 0.045 0.095 0.139 0.177 0.210 0.242 0.270 0.294 0.319 0.345 0.365 0.383 0.401 0.417 0.433 0.449 0.464 0.479 0.493 0.508 0.521 0.533 0.544 0.554 0.564 0.574 0.583 0.592 0.600 0.609 0.619 0.627 0.636 0.645 0.653 0.662 0.670 0.678 0.687 0.695 0.702 0.710 0.718 0.725 0.725 0.725 0.725 0.725 0.725 0.725 0.725"/><feFuncB type="table" tableValues="0.000 0.000 0.000 0.000 0.000 0.000 0.000 0.000 0.000 0.000 0.000 0.000 0.002 0.045 0.095 0.139 0.177 0.210 0.242 0.270 0.294 0.319 0.345 0.365 0.383 0.401 0.417 0.433 0.449 0.464 0.479 0.493 0.508 0.521 0.533 0.544 0.554 0.564 0.574 0.583 0.592 0.600 0.609 0.619 0.627 0.636 0.645 0.653 0.662 0.670 0.678 0.687 0.695 0.702 0.710 0.718 0.725 0.725 0.725 0.725 0.725 0.725 0.725 0.725"/></feComponentTransfer><feComposite in="SourceGraphic" in2="ng" operator="arithmetic" k1="0" k2="1" k3="0.2" k4="-0.100" result="s"/><feComponentTransfer in="s"><feFuncR type="table" tableValues="0.000 0.000 0.000 0.000 0.000 0.000 0.000 0.000 0.000 0.000 0.000 0.000 0.000 0.000 0.000 0.000 0.000 0.000 0.000 0.000 0.000 0.000 0.000 0.000 0.000 0.000 0.000 0.000 0.000 0.000 0.000 0.000 0.000 0.000 0.063 0.169 0.278 0.384 0.490 0.596 0.737 0.894 1.000 1.000 1.000 1.000 1.000 1.000 1.000 1.000 1.000 1.000 1.000 1.000 1.000 1.000 1.000 1.000 1.000 1.000 1.000 1.000 1.000 1.000"/><feFuncG type="table" tableValues="0.000 0.000 0.000 0.000 0.000 0.000 0.000 0.000 0.000 0.000 0.000 0.000 0.000 0.047 0.192 0.337 0.478 0.639 0.804 0.973 1.000 1.000 1.000 1.000 1.000 1.000 1.000 1.000 1.000 1.000 1.000 1.000 1.000 1.000 1.000 1.000 1.000 1.000 1.000 1.000 1.000 1.000 0.984 0.941 0.894 0.847 0.804 0.745 0.678 0.612 0.545 0.475 0.400 0.325 0.251 0.180 0.141 0.122 0.102 0.082 0.063 0.039 0.020 0.000"/><feFuncB type="table" tableValues="0.000 0.000 0.000 0.000 0.000 0.000 0.635 0.690 0.745 0.800 0.855 0.910 0.965 1.000 1.000 1.000 1.000 1.000 1.000 1.000 0.941 0.871 0.796 0.725 0.651 0.576 0.502 0.427 0.357 0.290 0.224 0.157 0.090 0.027 0.000 0.000 0.000 0.000 0.000 0.000 0.000 0.000 0.000 0.000 0.000 0.000 0.000 0.000 0.000 0.000 0.000 0.000 0.000 0.000 0.000 0.000 0.000 0.000 0.000 0.000 0.000 0.000 0.000 0.000"/></feComponentTransfer></filter>
<linearGradient id="ebg" x1="0" y1="0" x2="0" y2="1"><stop offset="0.000" stop-color="#2d2d2d"/><stop offset="0.620" stop-color="#2e2e2e"/><stop offset="0.800" stop-color="#313131"/><stop offset="0.860" stop-color="#343434"/><stop offset="0.891" stop-color="#3a3a3a"/><stop offset="0.904" stop-color="#4e4e4e"/><stop offset="0.917" stop-color="#666666"/><stop offset="0.929" stop-color="#828282"/><stop offset="0.942" stop-color="#a4a4a4"/><stop offset="0.955" stop-color="#d4d4d4"/><stop offset="0.966" stop-color="#ffffff"/><stop offset="1.000" stop-color="#ffffff"/></linearGradient>
<linearGradient id="ezbg" x1="0" y1="0" x2="0" y2="1"><stop offset="0.000" stop-color="#0f0f0f"/><stop offset="0.080" stop-color="#141414"/><stop offset="0.140" stop-color="#1b1b1b"/><stop offset="0.190" stop-color="#272727"/><stop offset="0.240" stop-color="#363636"/><stop offset="0.300" stop-color="#404040"/><stop offset="0.470" stop-color="#424242"/><stop offset="0.510" stop-color="#383838"/><stop offset="0.535" stop-color="#343434"/><stop offset="0.565" stop-color="#343434"/><stop offset="0.595" stop-color="#4f4f4f"/><stop offset="0.700" stop-color="#545454"/><stop offset="0.704" stop-color="#2e2e2e"/><stop offset="0.722" stop-color="#2e2e2e"/><stop offset="0.726" stop-color="#555555"/><stop offset="0.765" stop-color="#5c5c5c"/><stop offset="0.775" stop-color="#747474"/><stop offset="0.815" stop-color="#797979"/><stop offset="0.820" stop-color="#9a9a9a"/><stop offset="0.838" stop-color="#9a9a9a"/><stop offset="0.843" stop-color="#828282"/><stop offset="0.868" stop-color="#828282"/><stop offset="0.872" stop-color="#666666"/><stop offset="0.885" stop-color="#666666"/><stop offset="0.890" stop-color="#919191"/><stop offset="0.920" stop-color="#9a9a9a"/><stop offset="0.930" stop-color="#aeaeae"/><stop offset="0.950" stop-color="#bcbcbc"/><stop offset="0.957" stop-color="#dddddd"/><stop offset="0.972" stop-color="#ffffff"/><stop offset="1.000" stop-color="#ffffff"/></linearGradient>
<linearGradient id="bbg3" x1="0" y1="0" x2="0" y2="1"><stop offset="0.000" stop-color="#202020"/><stop offset="0.150" stop-color="#242424"/><stop offset="0.290" stop-color="#2c2c2c"/><stop offset="0.450" stop-color="#3d3d3d"/><stop offset="0.550" stop-color="#4b4b4b"/><stop offset="0.620" stop-color="#575757"/><stop offset="0.690" stop-color="#686868"/><stop offset="0.744" stop-color="#828282"/><stop offset="0.795" stop-color="#a4a4a4"/><stop offset="0.830" stop-color="#aeaeae"/><stop offset="0.879" stop-color="#bcbcbc"/><stop offset="0.897" stop-color="#cfcfcf"/><stop offset="0.912" stop-color="#f3f3f3"/><stop offset="0.930" stop-color="#ffffff"/><stop offset="1.000" stop-color="#ffffff"/></linearGradient>
<linearGradient id="bbg4" x1="0" y1="0" x2="0" y2="1"><stop offset="0.000" stop-color="#202020"/><stop offset="0.150" stop-color="#242424"/><stop offset="0.290" stop-color="#2c2c2c"/><stop offset="0.450" stop-color="#3d3d3d"/><stop offset="0.550" stop-color="#4b4b4b"/><stop offset="0.620" stop-color="#575757"/><stop offset="0.690" stop-color="#686868"/><stop offset="0.744" stop-color="#828282"/><stop offset="0.795" stop-color="#a4a4a4"/><stop offset="0.830" stop-color="#aeaeae"/><stop offset="0.879" stop-color="#bcbcbc"/><stop offset="0.897" stop-color="#cfcfcf"/><stop offset="0.912" stop-color="#f3f3f3"/><stop offset="0.930" stop-color="#ffffff"/><stop offset="1.000" stop-color="#ffffff"/></linearGradient>
<linearGradient id="bbg5" x1="0" y1="0" x2="0" y2="1"><stop offset="0.000" stop-color="#202020"/><stop offset="0.150" stop-color="#252525"/><stop offset="0.290" stop-color="#2e2e2e"/><stop offset="0.450" stop-color="#3f3f3f"/><stop offset="0.550" stop-color="#4e4e4e"/><stop offset="0.620" stop-color="#5a5a5a"/><stop offset="0.690" stop-color="#6a6a6a"/><stop offset="0.744" stop-color="#828282"/><stop offset="0.795" stop-color="#a4a4a4"/><stop offset="0.830" stop-color="#aeaeae"/><stop offset="0.879" stop-color="#bcbcbc"/><stop offset="0.897" stop-color="#cfcfcf"/><stop offset="0.912" stop-color="#f3f3f3"/><stop offset="0.930" stop-color="#ffffff"/><stop offset="1.000" stop-color="#ffffff"/></linearGradient>
<linearGradient id="cbar" x1="0" y1="0" x2="0" y2="1"><stop offset="0.000" stop-color="#ff0000"/><stop offset="0.130" stop-color="#ff2800"/><stop offset="0.220" stop-color="#ff8c00"/><stop offset="0.280" stop-color="#ffc800"/><stop offset="0.360" stop-color="#ffff00"/><stop offset="0.400" stop-color="#a0ff00"/><stop offset="0.500" stop-color="#00ff00"/><stop offset="0.600" stop-color="#00ff64"/><stop offset="0.680" stop-color="#00ffbe"/><stop offset="0.740" stop-color="#00ffff"/><stop offset="0.790" stop-color="#0082ff"/><stop offset="0.850" stop-color="#0000ff"/><stop offset="1.000" stop-color="#000083"/></linearGradient>
<linearGradient id="fadeT" x1="0" y1="0" x2="0" y2="1"><stop offset="0" stop-color="#000" stop-opacity="0.6"/><stop offset="0.9" stop-color="#000" stop-opacity="0"/></linearGradient>
<linearGradient id="g1" x1="0" y1="0" x2="0" y2="1"><stop offset="0.000" stop-color="#444444" stop-opacity="0"/><stop offset="0.300" stop-color="#444444"/><stop offset="0.700" stop-color="#616161"/><stop offset="1.000" stop-color="#878787"/></linearGradient>
<linearGradient id="g2" x1="0" y1="0" x2="0" y2="1"><stop offset="0.000" stop-color="#6d6d6d" stop-opacity="0"/><stop offset="0.059" stop-color="#6d6d6d" stop-opacity="0"/><stop offset="0.129" stop-color="#6d6d6d"/><stop offset="0.600" stop-color="#8d8d8d"/><stop offset="1.000" stop-color="#acacac"/></linearGradient>
<linearGradient id="g3" x1="0" y1="0" x2="0" y2="1"><stop offset="0.000" stop-color="#5d5d5d" stop-opacity="0"/><stop offset="0.074" stop-color="#5d5d5d" stop-opacity="0"/><stop offset="0.144" stop-color="#5d5d5d"/><stop offset="0.600" stop-color="#7d7d7d"/><stop offset="1.000" stop-color="#9c9c9c"/></linearGradient>
<linearGradient id="g4" x1="0" y1="0" x2="0" y2="1"><stop offset="0.000" stop-color="#656565" stop-opacity="0"/><stop offset="0.052" stop-color="#656565" stop-opacity="0"/><stop offset="0.122" stop-color="#656565"/><stop offset="0.600" stop-color="#7a7a7a"/><stop offset="1.000" stop-color="#8e8e8e"/></linearGradient>
<linearGradient id="g5" x1="0" y1="0" x2="0" y2="1"><stop offset="0.000" stop-color="#5c5c5c"/><stop offset="0.500" stop-color="#767676"/><stop offset="1.000" stop-color="#909090"/></linearGradient>
<linearGradient id="g6" x1="0" y1="0" x2="0" y2="1"><stop offset="0.000" stop-color="#3e3e3e" stop-opacity="0"/><stop offset="0.390" stop-color="#3e3e3e" stop-opacity="0"/><stop offset="0.460" stop-color="#3e3e3e"/><stop offset="0.600" stop-color="#565656"/><stop offset="1.000" stop-color="#6e6e6e"/></linearGradient>
<linearGradient id="g7" x1="0" y1="0" x2="0" y2="1"><stop offset="0.000" stop-color="#383838" stop-opacity="0"/><stop offset="0.090" stop-color="#383838" stop-opacity="0"/><stop offset="0.160" stop-color="#383838"/><stop offset="0.600" stop-color="#515151"/><stop offset="1.000" stop-color="#696969"/></linearGradient>
<linearGradient id="g8" x1="0" y1="0" x2="0" y2="1"><stop offset="0.000" stop-color="#5d5d5d" stop-opacity="0"/><stop offset="0.166" stop-color="#5d5d5d" stop-opacity="0"/><stop offset="0.236" stop-color="#5d5d5d"/><stop offset="0.600" stop-color="#727272"/><stop offset="1.000" stop-color="#878787"/></linearGradient>
<linearGradient id="g9" x1="0" y1="0" x2="0" y2="1"><stop offset="0.000" stop-color="#5b5b5b" stop-opacity="0"/><stop offset="0.484" stop-color="#5b5b5b" stop-opacity="0"/><stop offset="0.554" stop-color="#5b5b5b"/><stop offset="0.634" stop-color="#6e6e6e"/><stop offset="1.000" stop-color="#818181"/></linearGradient>
<linearGradient id="g10" x1="0" y1="0" x2="0" y2="1"><stop offset="0.000" stop-color="#474747" stop-opacity="0"/><stop offset="0.032" stop-color="#474747" stop-opacity="0"/><stop offset="0.102" stop-color="#474747"/><stop offset="0.600" stop-color="#565656"/><stop offset="1.000" stop-color="#666666"/></linearGradient>
<linearGradient id="g11" x1="0" y1="0" x2="0" y2="1"><stop offset="0.000" stop-color="#424242" stop-opacity="0"/><stop offset="0.256" stop-color="#424242" stop-opacity="0"/><stop offset="0.326" stop-color="#424242"/><stop offset="0.600" stop-color="#555555"/><stop offset="1.000" stop-color="#696969"/></linearGradient>
<linearGradient id="g12" x1="0" y1="0" x2="0" y2="1"><stop offset="0.000" stop-color="#545454" stop-opacity="0"/><stop offset="0.038" stop-color="#545454" stop-opacity="0"/><stop offset="0.108" stop-color="#545454"/><stop offset="0.600" stop-color="#676767"/><stop offset="1.000" stop-color="#7a7a7a"/></linearGradient>
<linearGradient id="g13" x1="0" y1="0" x2="0" y2="1"><stop offset="0.000" stop-color="#4e4e4e" stop-opacity="0"/><stop offset="0.473" stop-color="#4e4e4e" stop-opacity="0"/><stop offset="0.543" stop-color="#4e4e4e"/><stop offset="0.623" stop-color="#646464"/><stop offset="1.000" stop-color="#7a7a7a"/></linearGradient>
<linearGradient id="g14" x1="0" y1="0" x2="0" y2="1"><stop offset="0.000" stop-color="#4d4d4d" stop-opacity="0"/><stop offset="0.081" stop-color="#4d4d4d" stop-opacity="0"/><stop offset="0.151" stop-color="#4d4d4d"/><stop offset="0.600" stop-color="#636363"/><stop offset="1.000" stop-color="#787878"/></linearGradient>
<linearGradient id="g15" x1="0" y1="0" x2="0" y2="1"><stop offset="0.000" stop-color="#363636" stop-opacity="0"/><stop offset="0.667" stop-color="#363636" stop-opacity="0"/><stop offset="0.737" stop-color="#363636"/><stop offset="0.817" stop-color="#4a4a4a"/><stop offset="1.000" stop-color="#5e5e5e"/></linearGradient>
<linearGradient id="g16" x1="0" y1="0" x2="0" y2="1"><stop offset="0.000" stop-color="#373737" stop-opacity="0"/><stop offset="0.365" stop-color="#373737" stop-opacity="0"/><stop offset="0.435" stop-color="#373737"/><stop offset="0.600" stop-color="#4f4f4f"/><stop offset="1.000" stop-color="#676767"/></linearGradient>
<linearGradient id="g17" x1="0" y1="0" x2="0" y2="1"><stop offset="0.000" stop-color="#2a2a2a"/><stop offset="0.750" stop-color="#2c2c2c"/><stop offset="0.860" stop-color="#3f3f3f"/><stop offset="0.920" stop-color="#6f6f6f"/><stop offset="0.950" stop-color="#b7b7b7"/><stop offset="0.975" stop-color="#ffffff"/><stop offset="1.000" stop-color="#ffffff"/></linearGradient>
<linearGradient id="g18" x1="0" y1="0" x2="0" y2="1"><stop offset="0.000" stop-color="#6e6e6e" stop-opacity="0"/><stop offset="0.161" stop-color="#6e6e6e" stop-opacity="0"/><stop offset="0.241" stop-color="#6e6e6e"/><stop offset="0.600" stop-color="#8c8c8c"/><stop offset="1.000" stop-color="#bfbfbf"/></linearGradient>
<linearGradient id="g19" x1="0" y1="0" x2="0" y2="1"><stop offset="0.000" stop-color="#797979" stop-opacity="0"/><stop offset="0.193" stop-color="#797979" stop-opacity="0"/><stop offset="0.273" stop-color="#797979"/><stop offset="0.600" stop-color="#a3a3a3"/><stop offset="1.000" stop-color="#c2c2c2"/></linearGradient>
<linearGradient id="g20" x1="0" y1="0" x2="0" y2="1"><stop offset="0.000" stop-color="#707070" stop-opacity="0"/><stop offset="0.045" stop-color="#707070" stop-opacity="0"/><stop offset="0.125" stop-color="#707070"/><stop offset="0.600" stop-color="#8e8e8e"/><stop offset="1.000" stop-color="#bdbdbd"/></linearGradient>
<linearGradient id="g21" x1="0" y1="0" x2="0" y2="1"><stop offset="0.000" stop-color="#838383" stop-opacity="0"/><stop offset="0.051" stop-color="#838383" stop-opacity="0"/><stop offset="0.131" stop-color="#838383"/><stop offset="0.600" stop-color="#aaaaaa"/><stop offset="1.000" stop-color="#bfbfbf"/></linearGradient>
<linearGradient id="g22" x1="0" y1="0" x2="0" y2="1"><stop offset="0.000" stop-color="#6c6c6c" stop-opacity="0"/><stop offset="0.048" stop-color="#6c6c6c" stop-opacity="0"/><stop offset="0.128" stop-color="#6c6c6c"/><stop offset="0.600" stop-color="#9d9d9d"/><stop offset="1.000" stop-color="#b7b7b7"/></linearGradient>
<linearGradient id="g23" x1="0" y1="0" x2="0" y2="1"><stop offset="0.000" stop-color="#646464" stop-opacity="0"/><stop offset="0.057" stop-color="#646464" stop-opacity="0"/><stop offset="0.137" stop-color="#646464"/><stop offset="0.600" stop-color="#939393"/><stop offset="1.000" stop-color="#b5b5b5"/></linearGradient>
<linearGradient id="g24" x1="0" y1="0" x2="0" y2="1"><stop offset="0.000" stop-color="#878787" stop-opacity="0"/><stop offset="0.044" stop-color="#878787" stop-opacity="0"/><stop offset="0.124" stop-color="#878787"/><stop offset="0.600" stop-color="#a7a7a7"/><stop offset="1.000" stop-color="#bdbdbd"/></linearGradient>
<linearGradient id="g25" x1="0" y1="0" x2="0" y2="1"><stop offset="0.000" stop-color="#777777" stop-opacity="0"/><stop offset="0.079" stop-color="#777777" stop-opacity="0"/><stop offset="0.159" stop-color="#777777"/><stop offset="0.600" stop-color="#a0a0a0"/><stop offset="1.000" stop-color="#b8b8b8"/></linearGradient>
<linearGradient id="g26" x1="0" y1="0" x2="0" y2="1"><stop offset="0.000" stop-color="#7c7c7c"/><stop offset="0.550" stop-color="#8d8d8d"/><stop offset="1.000" stop-color="#b4b4b4"/></linearGradient>
<linearGradient id="g27" x1="0" y1="0" x2="0" y2="1"><stop offset="0.000" stop-color="#797979" stop-opacity="0"/><stop offset="0.042" stop-color="#797979" stop-opacity="0"/><stop offset="0.122" stop-color="#797979"/><stop offset="0.600" stop-color="#9f9f9f"/><stop offset="1.000" stop-color="#c6c6c6"/></linearGradient>
<linearGradient id="g28" x1="0" y1="0" x2="0" y2="1"><stop offset="0.000" stop-color="#838383"/><stop offset="0.550" stop-color="#b1b1b1"/><stop offset="1.000" stop-color="#c9c9c9"/></linearGradient>
<linearGradient id="g29" x1="0" y1="0" x2="0" y2="1"><stop offset="0.000" stop-color="#7c7c7c" stop-opacity="0"/><stop offset="0.086" stop-color="#7c7c7c" stop-opacity="0"/><stop offset="0.166" stop-color="#7c7c7c"/><stop offset="0.600" stop-color="#8c8c8c"/><stop offset="1.000" stop-color="#b1b1b1"/></linearGradient>
<linearGradient id="g30" x1="0" y1="0" x2="0" y2="1"><stop offset="0.000" stop-color="#717171" stop-opacity="0"/><stop offset="0.154" stop-color="#717171" stop-opacity="0"/><stop offset="0.234" stop-color="#717171"/><stop offset="0.600" stop-color="#8b8b8b"/><stop offset="1.000" stop-color="#bebebe"/></linearGradient>
<linearGradient id="g31" x1="0" y1="0" x2="0" y2="1"><stop offset="0.000" stop-color="#727272" stop-opacity="0"/><stop offset="0.043" stop-color="#727272" stop-opacity="0"/><stop offset="0.123" stop-color="#727272"/><stop offset="0.600" stop-color="#989898"/><stop offset="1.000" stop-color="#c2c2c2"/></linearGradient>
<linearGradient id="g32" x1="0" y1="0" x2="0" y2="1"><stop offset="0.000" stop-color="#4f4f4f" stop-opacity="0"/><stop offset="0.277" stop-color="#4f4f4f" stop-opacity="0"/><stop offset="0.357" stop-color="#4f4f4f"/><stop offset="0.600" stop-color="#8a8a8a"/><stop offset="1.000" stop-color="#b2b2b2"/></linearGradient>
<linearGradient id="g33" x1="0" y1="0" x2="0" y2="1"><stop offset="0.000" stop-color="#535353" stop-opacity="0"/><stop offset="0.241" stop-color="#535353" stop-opacity="0"/><stop offset="0.321" stop-color="#535353"/><stop offset="0.600" stop-color="#7b7b7b"/><stop offset="1.000" stop-color="#ababab"/></linearGradient>
<linearGradient id="g34" x1="0" y1="0" x2="0" y2="1"><stop offset="0.000" stop-color="#6b6b6b" stop-opacity="0"/><stop offset="0.151" stop-color="#6b6b6b" stop-opacity="0"/><stop offset="0.231" stop-color="#6b6b6b"/><stop offset="0.600" stop-color="#969696"/><stop offset="1.000" stop-color="#b0b0b0"/></linearGradient>
<linearGradient id="g35" x1="0" y1="0" x2="0" y2="1"><stop offset="0.000" stop-color="#393939" stop-opacity="0"/><stop offset="0.562" stop-color="#393939" stop-opacity="0"/><stop offset="0.642" stop-color="#393939"/><stop offset="0.692" stop-color="#676767"/><stop offset="1.000" stop-color="#8c8c8c"/></linearGradient>
<linearGradient id="g36" x1="0" y1="0" x2="0" y2="1"><stop offset="0.000" stop-color="#2f2f2f" stop-opacity="0"/><stop offset="0.542" stop-color="#2f2f2f" stop-opacity="0"/><stop offset="0.622" stop-color="#2f2f2f"/><stop offset="0.672" stop-color="#525252"/><stop offset="1.000" stop-color="#878787"/></linearGradient>
<linearGradient id="g37" x1="0" y1="0" x2="0" y2="1"><stop offset="0.000" stop-color="#575757"/><stop offset="0.300" stop-color="#666666"/><stop offset="0.700" stop-color="#7e7e7e"/><stop offset="0.900" stop-color="#969696"/><stop offset="1.000" stop-color="#b2b2b2"/></linearGradient>
<linearGradient id="g38" x1="0" y1="0" x2="0" y2="1"><stop offset="0.000" stop-color="#5d5d5d" stop-opacity="0"/><stop offset="0.356" stop-color="#5d5d5d" stop-opacity="0"/><stop offset="0.436" stop-color="#5d5d5d"/><stop offset="0.600" stop-color="#747474"/><stop offset="1.000" stop-color="#898989"/></linearGradient>
<linearGradient id="g39" x1="0" y1="0" x2="0" y2="1"><stop offset="0.000" stop-color="#5f5f5f" stop-opacity="0"/><stop offset="0.209" stop-color="#5f5f5f" stop-opacity="0"/><stop offset="0.289" stop-color="#5f5f5f"/><stop offset="0.600" stop-color="#818181"/><stop offset="1.000" stop-color="#8d8d8d"/></linearGradient>
<linearGradient id="g40" x1="0" y1="0" x2="0" y2="1"><stop offset="0.000" stop-color="#4e4e4e" stop-opacity="0"/><stop offset="0.278" stop-color="#4e4e4e" stop-opacity="0"/><stop offset="0.358" stop-color="#4e4e4e"/><stop offset="0.600" stop-color="#5f5f5f"/><stop offset="1.000" stop-color="#858585"/></linearGradient>
<linearGradient id="g41" x1="0" y1="0" x2="0" y2="1"><stop offset="0.000" stop-color="#494949"/><stop offset="0.500" stop-color="#575757"/><stop offset="0.850" stop-color="#6f6f6f"/><stop offset="1.000" stop-color="#939393"/></linearGradient>
<linearGradient id="g42" x1="0" y1="0" x2="0" y2="1"><stop offset="0.000" stop-color="#494949" stop-opacity="0"/><stop offset="0.698" stop-color="#494949" stop-opacity="0"/><stop offset="0.778" stop-color="#494949"/><stop offset="0.828" stop-color="#5d5d5d"/><stop offset="1.000" stop-color="#6e6e6e"/></linearGradient>
<linearGradient id="g43" x1="0" y1="0" x2="0" y2="1"><stop offset="0.000" stop-color="#3d3d3d" stop-opacity="0"/><stop offset="0.366" stop-color="#3d3d3d" stop-opacity="0"/><stop offset="0.446" stop-color="#3d3d3d"/><stop offset="0.600" stop-color="#565656"/><stop offset="1.000" stop-color="#676767"/></linearGradient>
<linearGradient id="g44" x1="0" y1="0" x2="0" y2="1"><stop offset="0.000" stop-color="#404040" stop-opacity="0"/><stop offset="0.498" stop-color="#404040" stop-opacity="0"/><stop offset="0.578" stop-color="#404040"/><stop offset="0.628" stop-color="#4b4b4b"/><stop offset="1.000" stop-color="#595959"/></linearGradient>
<linearGradient id="g45" x1="0" y1="0" x2="0" y2="1"><stop offset="0.000" stop-color="#424242" stop-opacity="0"/><stop offset="0.562" stop-color="#424242" stop-opacity="0"/><stop offset="0.642" stop-color="#424242"/><stop offset="0.692" stop-color="#484848"/><stop offset="1.000" stop-color="#555555"/></linearGradient>
<linearGradient id="g46" x1="0" y1="0" x2="0" y2="1"><stop offset="0.000" stop-color="#464646" stop-opacity="0"/><stop offset="0.534" stop-color="#464646" stop-opacity="0"/><stop offset="0.614" stop-color="#464646"/><stop offset="0.664" stop-color="#4f4f4f"/><stop offset="1.000" stop-color="#4f4f4f"/></linearGradient>
<linearGradient id="g47" x1="0" y1="0" x2="0" y2="1"><stop offset="0.000" stop-color="#454545" stop-opacity="0"/><stop offset="0.459" stop-color="#454545" stop-opacity="0"/><stop offset="0.539" stop-color="#454545"/><stop offset="0.600" stop-color="#474747"/><stop offset="1.000" stop-color="#4f4f4f"/></linearGradient>
<linearGradient id="g48" x1="0" y1="0" x2="0" y2="1"><stop offset="0.000" stop-color="#313131"/><stop offset="0.100" stop-color="#575757"/><stop offset="0.500" stop-color="#6a6a6a"/><stop offset="0.850" stop-color="#939393"/><stop offset="1.000" stop-color="#ffffff"/></linearGradient>
<linearGradient id="g49" x1="0" y1="0" x2="0" y2="1"><stop offset="0.000" stop-color="#313131"/><stop offset="0.080" stop-color="#3f3f3f"/><stop offset="0.120" stop-color="#747474"/><stop offset="0.300" stop-color="#969696"/><stop offset="0.550" stop-color="#b2b2b2"/><stop offset="0.750" stop-color="#cfcfcf"/><stop offset="0.840" stop-color="#f3f3f3"/><stop offset="0.900" stop-color="#ffffff"/><stop offset="1.000" stop-color="#ffffff"/></linearGradient>
<linearGradient id="g50" x1="0" y1="0" x2="0" y2="1"><stop offset="0.000" stop-color="#9f9f9f"/><stop offset="0.100" stop-color="#c5c5c5"/><stop offset="0.250" stop-color="#dddddd"/><stop offset="0.450" stop-color="#f8f8f8"/><stop offset="1.000" stop-color="#ffffff"/></linearGradient>
<linearGradient id="g51" x1="0" y1="0" x2="0" y2="1"><stop offset="0.000" stop-color="#575757"/><stop offset="0.500" stop-color="#878787"/><stop offset="0.850" stop-color="#b7b7b7"/><stop offset="1.000" stop-color="#ffffff"/></linearGradient>
<linearGradient id="g52" x1="0" y1="0" x2="0" y2="1"><stop offset="0.000" stop-color="#575757"/><stop offset="0.120" stop-color="#6f6f6f"/><stop offset="0.250" stop-color="#aeaeae"/><stop offset="0.550" stop-color="#d4d4d4"/><stop offset="0.750" stop-color="#ffffff"/><stop offset="1.000" stop-color="#ffffff"/></linearGradient>
<linearGradient id="g53" x1="0" y1="0" x2="0" y2="1"><stop offset="0.000" stop-color="#575757"/><stop offset="0.500" stop-color="#747474"/><stop offset="1.000" stop-color="#b7b7b7"/></linearGradient>
<linearGradient id="g54" x1="0" y1="0" x2="0" y2="1"><stop offset="0.000" stop-color="#4b4b4b"/><stop offset="0.060" stop-color="#6f6f6f"/><stop offset="0.200" stop-color="#8c8c8c"/><stop offset="0.400" stop-color="#a9a9a9"/><stop offset="0.620" stop-color="#c1c1c1"/><stop offset="0.780" stop-color="#e7e7e7"/><stop offset="0.860" stop-color="#ffffff"/><stop offset="1.000" stop-color="#ffffff"/></linearGradient>
<linearGradient id="g55" x1="0" y1="0" x2="0" y2="1"><stop offset="0.000" stop-color="#747474"/><stop offset="0.300" stop-color="#939393"/><stop offset="1.000" stop-color="#b2b2b2"/></linearGradient>
<linearGradient id="g56" x1="0" y1="0" x2="0" y2="1"><stop offset="0.000" stop-color="#3f3f3f"/><stop offset="0.500" stop-color="#575757"/><stop offset="1.000" stop-color="#878787"/></linearGradient>
<linearGradient id="g57" x1="0" y1="0" x2="0" y2="1"><stop offset="0.000" stop-color="#7b7b7b"/><stop offset="0.250" stop-color="#b2b2b2"/><stop offset="0.500" stop-color="#dbdbdb"/><stop offset="1.000" stop-color="#ffffff"/></linearGradient>
<linearGradient id="g58" x1="0" y1="0" x2="0" y2="1"><stop offset="0.000" stop-color="#272727"/><stop offset="0.780" stop-color="#2a2a2a"/><stop offset="0.860" stop-color="#313131"/><stop offset="0.895" stop-color="#3f3f3f"/><stop offset="0.905" stop-color="#616161"/><stop offset="0.925" stop-color="#828282"/><stop offset="0.942" stop-color="#a4a4a4"/><stop offset="0.955" stop-color="#d4d4d4"/><stop offset="0.966" stop-color="#ffffff"/><stop offset="1.000" stop-color="#ffffff"/></linearGradient>
<linearGradient id="g59" x1="0" y1="0" x2="0" y2="1"><stop offset="0.000" stop-color="#444444" stop-opacity="0"/><stop offset="0.300" stop-color="#444444"/><stop offset="0.700" stop-color="#616161"/><stop offset="1.000" stop-color="#878787"/></linearGradient>
<linearGradient id="g60" x1="0" y1="0" x2="0" y2="1"><stop offset="0.000" stop-color="#686868" stop-opacity="0"/><stop offset="0.066" stop-color="#686868" stop-opacity="0"/><stop offset="0.136" stop-color="#686868"/><stop offset="0.600" stop-color="#848484"/><stop offset="1.000" stop-color="#9f9f9f"/></linearGradient>
<linearGradient id="g61" x1="0" y1="0" x2="0" y2="1"><stop offset="0.000" stop-color="#646464" stop-opacity="0"/><stop offset="0.053" stop-color="#646464" stop-opacity="0"/><stop offset="0.123" stop-color="#646464"/><stop offset="0.600" stop-color="#838383"/><stop offset="1.000" stop-color="#a2a2a2"/></linearGradient>
<linearGradient id="g62" x1="0" y1="0" x2="0" y2="1"><stop offset="0.000" stop-color="#5c5c5c" stop-opacity="0"/><stop offset="0.062" stop-color="#5c5c5c" stop-opacity="0"/><stop offset="0.132" stop-color="#5c5c5c"/><stop offset="0.600" stop-color="#7c7c7c"/><stop offset="1.000" stop-color="#9b9b9b"/></linearGradient>
<linearGradient id="g63" x1="0" y1="0" x2="0" y2="1"><stop offset="0.000" stop-color="#5c5c5c" stop-opacity="0"/><stop offset="0.033" stop-color="#5c5c5c" stop-opacity="0"/><stop offset="0.103" stop-color="#5c5c5c"/><stop offset="0.600" stop-color="#777777"/><stop offset="1.000" stop-color="#929292"/></linearGradient>
<linearGradient id="g64" x1="0" y1="0" x2="0" y2="1"><stop offset="0.000" stop-color="#424242" stop-opacity="0"/><stop offset="0.408" stop-color="#424242" stop-opacity="0"/><stop offset="0.478" stop-color="#424242"/><stop offset="0.600" stop-color="#5a5a5a"/><stop offset="1.000" stop-color="#717171"/></linearGradient>
<linearGradient id="g65" x1="0" y1="0" x2="0" y2="1"><stop offset="0.000" stop-color="#4d4d4d" stop-opacity="0"/><stop offset="0.188" stop-color="#4d4d4d" stop-opacity="0"/><stop offset="0.258" stop-color="#4d4d4d"/><stop offset="0.600" stop-color="#6a6a6a"/><stop offset="1.000" stop-color="#878787"/></linearGradient>
<linearGradient id="g66" x1="0" y1="0" x2="0" y2="1"><stop offset="0.000" stop-color="#525252" stop-opacity="0"/><stop offset="0.074" stop-color="#525252" stop-opacity="0"/><stop offset="0.144" stop-color="#525252"/><stop offset="0.600" stop-color="#6d6d6d"/><stop offset="1.000" stop-color="#898989"/></linearGradient>
<linearGradient id="g67" x1="0" y1="0" x2="0" y2="1"><stop offset="0.000" stop-color="#444444" stop-opacity="0"/><stop offset="0.307" stop-color="#444444" stop-opacity="0"/><stop offset="0.377" stop-color="#444444"/><stop offset="0.600" stop-color="#5b5b5b"/><stop offset="1.000" stop-color="#737373"/></linearGradient>
<linearGradient id="g68" x1="0" y1="0" x2="0" y2="1"><stop offset="0.000" stop-color="#4a4a4a" stop-opacity="0"/><stop offset="0.457" stop-color="#4a4a4a" stop-opacity="0"/><stop offset="0.527" stop-color="#4a4a4a"/><stop offset="0.607" stop-color="#606060"/><stop offset="1.000" stop-color="#767676"/></linearGradient>
<linearGradient id="g69" x1="0" y1="0" x2="0" y2="1"><stop offset="0.000" stop-color="#4c4c4c" stop-opacity="0"/><stop offset="0.489" stop-color="#4c4c4c" stop-opacity="0"/><stop offset="0.559" stop-color="#4c4c4c"/><stop offset="0.639" stop-color="#656565"/><stop offset="1.000" stop-color="#7f7f7f"/></linearGradient>
<linearGradient id="g70" x1="0" y1="0" x2="0" y2="1"><stop offset="0.000" stop-color="#5a5a5a" stop-opacity="0"/><stop offset="0.085" stop-color="#5a5a5a" stop-opacity="0"/><stop offset="0.155" stop-color="#5a5a5a"/><stop offset="0.600" stop-color="#707070"/><stop offset="1.000" stop-color="#868686"/></linearGradient>
<linearGradient id="g71" x1="0" y1="0" x2="0" y2="1"><stop offset="0.000" stop-color="#414141" stop-opacity="0"/><stop offset="0.095" stop-color="#414141" stop-opacity="0"/><stop offset="0.165" stop-color="#414141"/><stop offset="0.600" stop-color="#5a5a5a"/><stop offset="1.000" stop-color="#737373"/></linearGradient>
<linearGradient id="g72" x1="0" y1="0" x2="0" y2="1"><stop offset="0.000" stop-color="#464646" stop-opacity="0"/><stop offset="0.322" stop-color="#464646" stop-opacity="0"/><stop offset="0.392" stop-color="#464646"/><stop offset="0.600" stop-color="#5b5b5b"/><stop offset="1.000" stop-color="#6f6f6f"/></linearGradient>
<linearGradient id="g73" x1="0" y1="0" x2="0" y2="1"><stop offset="0.000" stop-color="#535353" stop-opacity="0"/><stop offset="0.217" stop-color="#535353" stop-opacity="0"/><stop offset="0.287" stop-color="#535353"/><stop offset="0.600" stop-color="#626262"/><stop offset="1.000" stop-color="#717171"/></linearGradient>
<linearGradient id="g74" x1="0" y1="0" x2="0" y2="1"><stop offset="0.000" stop-color="#606060" stop-opacity="0"/><stop offset="0.345" stop-color="#606060" stop-opacity="0"/><stop offset="0.415" stop-color="#606060"/><stop offset="0.600" stop-color="#767676"/><stop offset="1.000" stop-color="#8c8c8c"/></linearGradient>
<linearGradient id="g75" x1="0" y1="0" x2="0" y2="1"><stop offset="0.000" stop-color="#565656" stop-opacity="0"/><stop offset="0.273" stop-color="#565656" stop-opacity="0"/><stop offset="0.343" stop-color="#565656"/><stop offset="0.600" stop-color="#717171"/><stop offset="1.000" stop-color="#8b8b8b"/></linearGradient>
<linearGradient id="g76" x1="0" y1="0" x2="0" y2="1"><stop offset="0.000" stop-color="#383838" stop-opacity="0"/><stop offset="0.369" stop-color="#383838" stop-opacity="0"/><stop offset="0.439" stop-color="#383838"/><stop offset="0.600" stop-color="#494949"/><stop offset="1.000" stop-color="#595959"/></linearGradient>
<linearGradient id="g77" x1="0" y1="0" x2="0" y2="1"><stop offset="0.000" stop-color="#3a3a3a" stop-opacity="0"/><stop offset="0.545" stop-color="#3a3a3a" stop-opacity="0"/><stop offset="0.615" stop-color="#3a3a3a"/><stop offset="0.695" stop-color="#4c4c4c"/><stop offset="1.000" stop-color="#5e5e5e"/></linearGradient>
<linearGradient id="g78" x1="0" y1="0" x2="0" y2="1"><stop offset="0.000" stop-color="#2a2a2a"/><stop offset="0.750" stop-color="#2c2c2c"/><stop offset="0.860" stop-color="#3f3f3f"/><stop offset="0.920" stop-color="#6f6f6f"/><stop offset="0.950" stop-color="#b7b7b7"/><stop offset="0.975" stop-color="#ffffff"/><stop offset="1.000" stop-color="#ffffff"/></linearGradient>
<linearGradient id="g79" x1="0" y1="0" x2="0" y2="1"><stop offset="0.000" stop-color="#737373"/><stop offset="0.550" stop-color="#929292"/><stop offset="1.000" stop-color="#bababa"/></linearGradient>
<linearGradient id="g80" x1="0" y1="0" x2="0" y2="1"><stop offset="0.000" stop-color="#848484" stop-opacity="0"/><stop offset="0.052" stop-color="#848484" stop-opacity="0"/><stop offset="0.132" stop-color="#848484"/><stop offset="0.600" stop-color="#a6a6a6"/><stop offset="1.000" stop-color="#bbbbbb"/></linearGradient>
<linearGradient id="g81" x1="0" y1="0" x2="0" y2="1"><stop offset="0.000" stop-color="#6a6a6a" stop-opacity="0"/><stop offset="0.180" stop-color="#6a6a6a" stop-opacity="0"/><stop offset="0.260" stop-color="#6a6a6a"/><stop offset="0.600" stop-color="#a5a5a5"/><stop offset="1.000" stop-color="#c6c6c6"/></linearGradient>
<linearGradient id="g82" x1="0" y1="0" x2="0" y2="1"><stop offset="0.000" stop-color="#828282" stop-opacity="0"/><stop offset="0.053" stop-color="#828282" stop-opacity="0"/><stop offset="0.133" stop-color="#828282"/><stop offset="0.600" stop-color="#a6a6a6"/><stop offset="1.000" stop-color="#b6b6b6"/></linearGradient>
<linearGradient id="g83" x1="0" y1="0" x2="0" y2="1"><stop offset="0.000" stop-color="#666666"/><stop offset="0.550" stop-color="#878787"/><stop offset="1.000" stop-color="#bdbdbd"/></linearGradient>
<linearGradient id="g84" x1="0" y1="0" x2="0" y2="1"><stop offset="0.000" stop-color="#878787" stop-opacity="0"/><stop offset="0.166" stop-color="#878787" stop-opacity="0"/><stop offset="0.246" stop-color="#878787"/><stop offset="0.600" stop-color="#9e9e9e"/><stop offset="1.000" stop-color="#c9c9c9"/></linearGradient>
<linearGradient id="g85" x1="0" y1="0" x2="0" y2="1"><stop offset="0.000" stop-color="#7a7a7a" stop-opacity="0"/><stop offset="0.091" stop-color="#7a7a7a" stop-opacity="0"/><stop offset="0.171" stop-color="#7a7a7a"/><stop offset="0.600" stop-color="#969696"/><stop offset="1.000" stop-color="#c3c3c3"/></linearGradient>
<linearGradient id="g86" x1="0" y1="0" x2="0" y2="1"><stop offset="0.000" stop-color="#6f6f6f" stop-opacity="0"/><stop offset="0.114" stop-color="#6f6f6f" stop-opacity="0"/><stop offset="0.194" stop-color="#6f6f6f"/><stop offset="0.600" stop-color="#8e8e8e"/><stop offset="1.000" stop-color="#bebebe"/></linearGradient>
<linearGradient id="g87" x1="0" y1="0" x2="0" y2="1"><stop offset="0.000" stop-color="#878787" stop-opacity="0"/><stop offset="0.159" stop-color="#878787" stop-opacity="0"/><stop offset="0.239" stop-color="#878787"/><stop offset="0.600" stop-color="#a3a3a3"/><stop offset="1.000" stop-color="#b0b0b0"/></linearGradient>
<linearGradient id="g88" x1="0" y1="0" x2="0" y2="1"><stop offset="0.000" stop-color="#747474" stop-opacity="0"/><stop offset="0.197" stop-color="#747474" stop-opacity="0"/><stop offset="0.277" stop-color="#747474"/><stop offset="0.600" stop-color="#8f8f8f"/><stop offset="1.000" stop-color="#b2b2b2"/></linearGradient>
<linearGradient id="g89" x1="0" y1="0" x2="0" y2="1"><stop offset="0.000" stop-color="#737373" stop-opacity="0"/><stop offset="0.188" stop-color="#737373" stop-opacity="0"/><stop offset="0.268" stop-color="#737373"/><stop offset="0.600" stop-color="#a7a7a7"/><stop offset="1.000" stop-color="#c9c9c9"/></linearGradient>
<linearGradient id="g90" x1="0" y1="0" x2="0" y2="1"><stop offset="0.000" stop-color="#636363" stop-opacity="0"/><stop offset="0.073" stop-color="#636363" stop-opacity="0"/><stop offset="0.153" stop-color="#636363"/><stop offset="0.600" stop-color="#969696"/><stop offset="1.000" stop-color="#b2b2b2"/></linearGradient>
<linearGradient id="g91" x1="0" y1="0" x2="0" y2="1"><stop offset="0.000" stop-color="#4c4c4c" stop-opacity="0"/><stop offset="0.204" stop-color="#4c4c4c" stop-opacity="0"/><stop offset="0.284" stop-color="#4c4c4c"/><stop offset="0.600" stop-color="#7a7a7a"/><stop offset="1.000" stop-color="#b3b3b3"/></linearGradient>
<linearGradient id="g92" x1="0" y1="0" x2="0" y2="1"><stop offset="0.000" stop-color="#656565" stop-opacity="0"/><stop offset="0.198" stop-color="#656565" stop-opacity="0"/><stop offset="0.278" stop-color="#656565"/><stop offset="0.600" stop-color="#858585"/><stop offset="1.000" stop-color="#afafaf"/></linearGradient>
<linearGradient id="g93" x1="0" y1="0" x2="0" y2="1"><stop offset="0.000" stop-color="#707070" stop-opacity="0"/><stop offset="0.293" stop-color="#707070" stop-opacity="0"/><stop offset="0.373" stop-color="#707070"/><stop offset="0.600" stop-color="#939393"/><stop offset="1.000" stop-color="#a2a2a2"/></linearGradient>
<linearGradient id="g94" x1="0" y1="0" x2="0" y2="1"><stop offset="0.000" stop-color="#343434" stop-opacity="0"/><stop offset="0.558" stop-color="#343434" stop-opacity="0"/><stop offset="0.638" stop-color="#343434"/><stop offset="0.688" stop-color="#585858"/><stop offset="1.000" stop-color="#838383"/></linearGradient>
<linearGradient id="g95" x1="0" y1="0" x2="0" y2="1"><stop offset="0.000" stop-color="#424242" stop-opacity="0"/><stop offset="0.548" stop-color="#424242" stop-opacity="0"/><stop offset="0.628" stop-color="#424242"/><stop offset="0.678" stop-color="#6d6d6d"/><stop offset="1.000" stop-color="#8b8b8b"/></linearGradient>
<linearGradient id="g96" x1="0" y1="0" x2="0" y2="1"><stop offset="0.000" stop-color="#575757"/><stop offset="0.300" stop-color="#666666"/><stop offset="0.700" stop-color="#7e7e7e"/><stop offset="0.900" stop-color="#969696"/><stop offset="1.000" stop-color="#b2b2b2"/></linearGradient>
<linearGradient id="g97" x1="0" y1="0" x2="0" y2="1"><stop offset="0.000" stop-color="#4a4a4a" stop-opacity="0"/><stop offset="0.249" stop-color="#4a4a4a" stop-opacity="0"/><stop offset="0.329" stop-color="#4a4a4a"/><stop offset="0.600" stop-color="#696969"/><stop offset="1.000" stop-color="#8b8b8b"/></linearGradient>
<linearGradient id="g98" x1="0" y1="0" x2="0" y2="1"><stop offset="0.000" stop-color="#454545" stop-opacity="0"/><stop offset="0.380" stop-color="#454545" stop-opacity="0"/><stop offset="0.460" stop-color="#454545"/><stop offset="0.600" stop-color="#616161"/><stop offset="1.000" stop-color="#808080"/></linearGradient>
<linearGradient id="g99" x1="0" y1="0" x2="0" y2="1"><stop offset="0.000" stop-color="#494949"/><stop offset="0.500" stop-color="#575757"/><stop offset="0.850" stop-color="#6f6f6f"/><stop offset="1.000" stop-color="#939393"/></linearGradient>
<linearGradient id="g100" x1="0" y1="0" x2="0" y2="1"><stop offset="0.000" stop-color="#434343" stop-opacity="0"/><stop offset="0.622" stop-color="#434343" stop-opacity="0"/><stop offset="0.702" stop-color="#434343"/><stop offset="0.752" stop-color="#4d4d4d"/><stop offset="1.000" stop-color="#636363"/></linearGradient>
<linearGradient id="g101" x1="0" y1="0" x2="0" y2="1"><stop offset="0.000" stop-color="#404040" stop-opacity="0"/><stop offset="0.371" stop-color="#404040" stop-opacity="0"/><stop offset="0.451" stop-color="#404040"/><stop offset="0.600" stop-color="#595959"/><stop offset="1.000" stop-color="#6c6c6c"/></linearGradient>
<linearGradient id="g102" x1="0" y1="0" x2="0" y2="1"><stop offset="0.000" stop-color="#3b3b3b" stop-opacity="0"/><stop offset="0.652" stop-color="#3b3b3b" stop-opacity="0"/><stop offset="0.732" stop-color="#3b3b3b"/><stop offset="0.782" stop-color="#434343"/><stop offset="1.000" stop-color="#575757"/></linearGradient>
<linearGradient id="g103" x1="0" y1="0" x2="0" y2="1"><stop offset="0.000" stop-color="#383838" stop-opacity="0"/><stop offset="0.560" stop-color="#383838" stop-opacity="0"/><stop offset="0.640" stop-color="#383838"/><stop offset="0.690" stop-color="#545454"/><stop offset="1.000" stop-color="#5f5f5f"/></linearGradient>
<linearGradient id="g104" x1="0" y1="0" x2="0" y2="1"><stop offset="0.000" stop-color="#3a3a3a" stop-opacity="0"/><stop offset="0.585" stop-color="#3a3a3a" stop-opacity="0"/><stop offset="0.665" stop-color="#3a3a3a"/><stop offset="0.715" stop-color="#525252"/><stop offset="1.000" stop-color="#5e5e5e"/></linearGradient>
<linearGradient id="g105" x1="0" y1="0" x2="0" y2="1"><stop offset="0.000" stop-color="#4c4c4c" stop-opacity="0"/><stop offset="0.368" stop-color="#4c4c4c" stop-opacity="0"/><stop offset="0.448" stop-color="#4c4c4c"/><stop offset="0.600" stop-color="#535353"/><stop offset="1.000" stop-color="#5c5c5c"/></linearGradient>
<linearGradient id="g106" x1="0" y1="0" x2="0" y2="1"><stop offset="0.000" stop-color="#313131"/><stop offset="0.100" stop-color="#575757"/><stop offset="0.500" stop-color="#6a6a6a"/><stop offset="0.850" stop-color="#939393"/><stop offset="1.000" stop-color="#ffffff"/></linearGradient>
<linearGradient id="g107" x1="0" y1="0" x2="0" y2="1"><stop offset="0.000" stop-color="#313131"/><stop offset="0.080" stop-color="#3f3f3f"/><stop offset="0.120" stop-color="#747474"/><stop offset="0.300" stop-color="#969696"/><stop offset="0.550" stop-color="#b2b2b2"/><stop offset="0.750" stop-color="#cfcfcf"/><stop offset="0.840" stop-color="#f3f3f3"/><stop offset="0.900" stop-color="#ffffff"/><stop offset="1.000" stop-color="#ffffff"/></linearGradient>
<linearGradient id="g108" x1="0" y1="0" x2="0" y2="1"><stop offset="0.000" stop-color="#9f9f9f"/><stop offset="0.100" stop-color="#c5c5c5"/><stop offset="0.250" stop-color="#dddddd"/><stop offset="0.450" stop-color="#f8f8f8"/><stop offset="1.000" stop-color="#ffffff"/></linearGradient>
<linearGradient id="g109" x1="0" y1="0" x2="0" y2="1"><stop offset="0.000" stop-color="#575757"/><stop offset="0.500" stop-color="#878787"/><stop offset="0.850" stop-color="#b7b7b7"/><stop offset="1.000" stop-color="#ffffff"/></linearGradient>
<linearGradient id="g110" x1="0" y1="0" x2="0" y2="1"><stop offset="0.000" stop-color="#575757"/><stop offset="0.120" stop-color="#6f6f6f"/><stop offset="0.250" stop-color="#aeaeae"/><stop offset="0.550" stop-color="#d4d4d4"/><stop offset="0.750" stop-color="#ffffff"/><stop offset="1.000" stop-color="#ffffff"/></linearGradient>
<linearGradient id="g111" x1="0" y1="0" x2="0" y2="1"><stop offset="0.000" stop-color="#575757"/><stop offset="0.500" stop-color="#747474"/><stop offset="1.000" stop-color="#b7b7b7"/></linearGradient>
<linearGradient id="g112" x1="0" y1="0" x2="0" y2="1"><stop offset="0.000" stop-color="#4b4b4b"/><stop offset="0.060" stop-color="#6f6f6f"/><stop offset="0.200" stop-color="#8c8c8c"/><stop offset="0.400" stop-color="#a9a9a9"/><stop offset="0.620" stop-color="#c1c1c1"/><stop offset="0.780" stop-color="#e7e7e7"/><stop offset="0.860" stop-color="#ffffff"/><stop offset="1.000" stop-color="#ffffff"/></linearGradient>
<linearGradient id="g113" x1="0" y1="0" x2="0" y2="1"><stop offset="0.000" stop-color="#747474"/><stop offset="0.300" stop-color="#939393"/><stop offset="1.000" stop-color="#b2b2b2"/></linearGradient>
<linearGradient id="g114" x1="0" y1="0" x2="0" y2="1"><stop offset="0.000" stop-color="#3f3f3f"/><stop offset="0.500" stop-color="#575757"/><stop offset="1.000" stop-color="#878787"/></linearGradient>
<linearGradient id="g115" x1="0" y1="0" x2="0" y2="1"><stop offset="0.000" stop-color="#878787"/><stop offset="0.150" stop-color="#cfcfcf"/><stop offset="0.400" stop-color="#fafafa"/><stop offset="1.000" stop-color="#ffffff"/></linearGradient>
<linearGradient id="g116" x1="0" y1="0" x2="0" y2="1"><stop offset="0.000" stop-color="#272727"/><stop offset="0.780" stop-color="#2a2a2a"/><stop offset="0.860" stop-color="#313131"/><stop offset="0.895" stop-color="#3f3f3f"/><stop offset="0.905" stop-color="#616161"/><stop offset="0.925" stop-color="#828282"/><stop offset="0.942" stop-color="#a4a4a4"/><stop offset="0.955" stop-color="#d4d4d4"/><stop offset="0.966" stop-color="#ffffff"/><stop offset="1.000" stop-color="#ffffff"/></linearGradient>
<linearGradient id="g117" x1="0" y1="0" x2="0" y2="1"><stop offset="0.000" stop-color="#3c3c3c" stop-opacity="0"/><stop offset="0.196" stop-color="#3c3c3c" stop-opacity="0"/><stop offset="0.276" stop-color="#3c3c3c"/><stop offset="0.600" stop-color="#707070"/><stop offset="1.000" stop-color="#999999"/></linearGradient>
<linearGradient id="g118" x1="0" y1="0" x2="0" y2="1"><stop offset="0.000" stop-color="#3d3d3d" stop-opacity="0"/><stop offset="0.180" stop-color="#3d3d3d" stop-opacity="0"/><stop offset="0.260" stop-color="#3d3d3d"/><stop offset="0.600" stop-color="#787878"/><stop offset="1.000" stop-color="#a1a1a1"/></linearGradient>
<linearGradient id="g119" x1="0" y1="0" x2="0" y2="1"><stop offset="0.000" stop-color="#4e4e4e" stop-opacity="0"/><stop offset="0.271" stop-color="#4e4e4e" stop-opacity="0"/><stop offset="0.351" stop-color="#4e4e4e"/><stop offset="0.600" stop-color="#7c7c7c"/><stop offset="1.000" stop-color="#9a9a9a"/></linearGradient>
<linearGradient id="g120" x1="0" y1="0" x2="0" y2="1"><stop offset="0.000" stop-color="#4e4e4e" stop-opacity="0"/><stop offset="0.501" stop-color="#4e4e4e" stop-opacity="0"/><stop offset="0.581" stop-color="#4e4e4e"/><stop offset="0.631" stop-color="#606060"/><stop offset="1.000" stop-color="#757575"/></linearGradient>
<linearGradient id="g121" x1="0" y1="0" x2="0" y2="1"><stop offset="0.000" stop-color="#4f4f4f" stop-opacity="0"/><stop offset="0.300" stop-color="#4f4f4f" stop-opacity="0"/><stop offset="0.380" stop-color="#4f4f4f"/><stop offset="0.600" stop-color="#636363"/><stop offset="1.000" stop-color="#777777"/></linearGradient>
<linearGradient id="g122" x1="0" y1="0" x2="0" y2="1"><stop offset="0.000" stop-color="#4c4c4c" stop-opacity="0"/><stop offset="0.281" stop-color="#4c4c4c" stop-opacity="0"/><stop offset="0.361" stop-color="#4c4c4c"/><stop offset="0.600" stop-color="#6e6e6e"/><stop offset="1.000" stop-color="#7f7f7f"/></linearGradient>
<linearGradient id="g123" x1="0" y1="0" x2="0" y2="1"><stop offset="0.000" stop-color="#484848" stop-opacity="0"/><stop offset="0.525" stop-color="#484848" stop-opacity="0"/><stop offset="0.605" stop-color="#484848"/><stop offset="0.655" stop-color="#666666"/><stop offset="1.000" stop-color="#858585"/></linearGradient>
<linearGradient id="g124" x1="0" y1="0" x2="0" y2="1"><stop offset="0.000" stop-color="#464646" stop-opacity="0"/><stop offset="0.266" stop-color="#464646" stop-opacity="0"/><stop offset="0.346" stop-color="#464646"/><stop offset="0.600" stop-color="#5f5f5f"/><stop offset="1.000" stop-color="#848484"/></linearGradient>
<linearGradient id="g125" x1="0" y1="0" x2="0" y2="1"><stop offset="0.000" stop-color="#4d4d4d" stop-opacity="0"/><stop offset="0.424" stop-color="#4d4d4d" stop-opacity="0"/><stop offset="0.504" stop-color="#4d4d4d"/><stop offset="0.600" stop-color="#6f6f6f"/><stop offset="1.000" stop-color="#848484"/></linearGradient>
<linearGradient id="g126" x1="0" y1="0" x2="0" y2="1"><stop offset="0.000" stop-color="#565656" stop-opacity="0"/><stop offset="0.470" stop-color="#565656" stop-opacity="0"/><stop offset="0.550" stop-color="#565656"/><stop offset="0.600" stop-color="#6b6b6b"/><stop offset="1.000" stop-color="#757575"/></linearGradient>
<linearGradient id="g127" x1="0" y1="0" x2="0" y2="1"><stop offset="0.000" stop-color="#575757" stop-opacity="0"/><stop offset="0.437" stop-color="#575757" stop-opacity="0"/><stop offset="0.517" stop-color="#575757"/><stop offset="0.600" stop-color="#626262"/><stop offset="1.000" stop-color="#727272"/></linearGradient>
<linearGradient id="g128" x1="0" y1="0" x2="0" y2="1"><stop offset="0.000" stop-color="#4b4b4b" stop-opacity="0"/><stop offset="0.476" stop-color="#4b4b4b" stop-opacity="0"/><stop offset="0.556" stop-color="#4b4b4b"/><stop offset="0.606" stop-color="#727272"/><stop offset="1.000" stop-color="#838383"/></linearGradient>
<linearGradient id="g129" x1="0" y1="0" x2="0" y2="1"><stop offset="0.000" stop-color="#3f3f3f" stop-opacity="0"/><stop offset="0.475" stop-color="#3f3f3f" stop-opacity="0"/><stop offset="0.555" stop-color="#3f3f3f"/><stop offset="0.605" stop-color="#676767"/><stop offset="1.000" stop-color="#7a7a7a"/></linearGradient>
<linearGradient id="dz1" x1="0" y1="0" x2="1" y2="0"><stop offset="0" stop-color="#000" stop-opacity="0"/><stop offset="0.25" stop-color="#000" stop-opacity="0.48"/><stop offset="1" stop-color="#000" stop-opacity="0.52"/></linearGradient>
<linearGradient id="g130" x1="0" y1="0" x2="0" y2="1"><stop offset="0.000" stop-color="#0f0f0f"/><stop offset="0.150" stop-color="#141414"/><stop offset="0.300" stop-color="#1b1b1b"/><stop offset="0.900" stop-color="#202020"/><stop offset="0.960" stop-color="#2c2c2c"/><stop offset="0.970" stop-color="#878787"/><stop offset="1.000" stop-color="#e7e7e7"/></linearGradient>
<linearGradient id="g131" x1="0" y1="0" x2="0" y2="1"><stop offset="0.000" stop-color="#0f0f0f"/><stop offset="0.120" stop-color="#141414"/><stop offset="0.250" stop-color="#272727"/><stop offset="0.350" stop-color="#383838"/><stop offset="0.550" stop-color="#363636"/><stop offset="0.650" stop-color="#444444"/><stop offset="0.740" stop-color="#575757"/><stop offset="0.800" stop-color="#7b7b7b"/><stop offset="0.900" stop-color="#878787"/><stop offset="0.915" stop-color="#cfcfcf"/><stop offset="0.950" stop-color="#f3f3f3"/><stop offset="1.000" stop-color="#ffffff"/></linearGradient>
<linearGradient id="g132" x1="0" y1="0" x2="0" y2="1"><stop offset="0.000" stop-color="#0f0f0f"/><stop offset="0.850" stop-color="#1b1b1b"/><stop offset="0.880" stop-color="#e7e7e7"/><stop offset="1.000" stop-color="#ffffff"/></linearGradient>
<linearGradient id="g133" x1="0" y1="0" x2="0" y2="1"><stop offset="0.000" stop-color="#b7b7b7"/><stop offset="0.300" stop-color="#dbdbdb"/><stop offset="1.000" stop-color="#ffffff"/></linearGradient>
<linearGradient id="g134" x1="0" y1="0" x2="0" y2="1"><stop offset="0.000" stop-color="#525252"/><stop offset="0.400" stop-color="#6f6f6f"/><stop offset="0.750" stop-color="#8c8c8c"/><stop offset="0.880" stop-color="#c3c3c3"/><stop offset="0.920" stop-color="#ffffff"/><stop offset="1.000" stop-color="#ffffff"/></linearGradient>
<linearGradient id="g135" x1="0" y1="0" x2="0" y2="1"><stop offset="0.000" stop-color="#575757"/><stop offset="0.100" stop-color="#747474"/><stop offset="0.200" stop-color="#b2b2b2"/><stop offset="0.500" stop-color="#cacaca"/><stop offset="0.750" stop-color="#e2e2e2"/><stop offset="0.860" stop-color="#ffffff"/><stop offset="1.000" stop-color="#ffffff"/></linearGradient>
<linearGradient id="g136" x1="0" y1="0" x2="0" y2="1"><stop offset="0.000" stop-color="#4e4e4e"/><stop offset="0.300" stop-color="#6f6f6f"/><stop offset="0.700" stop-color="#939393"/><stop offset="0.880" stop-color="#e7e7e7"/><stop offset="1.000" stop-color="#ffffff"/></linearGradient>
<linearGradient id="g137" x1="0" y1="0" x2="0" y2="1"><stop offset="0.000" stop-color="#e7e7e7" stop-opacity="0"/><stop offset="0.900" stop-color="#e7e7e7" stop-opacity="0"/><stop offset="0.930" stop-color="#e7e7e7"/><stop offset="1.000" stop-color="#ffffff"/></linearGradient>
<linearGradient id="g138" x1="0" y1="0" x2="0" y2="1"><stop offset="0.000" stop-color="#444444" stop-opacity="0"/><stop offset="0.071" stop-color="#444444" stop-opacity="0"/><stop offset="0.151" stop-color="#444444"/><stop offset="0.600" stop-color="#888888"/><stop offset="1.000" stop-color="#b4b4b4"/></linearGradient>
<linearGradient id="g139" x1="0" y1="0" x2="0" y2="1"><stop offset="0.000" stop-color="#454545" stop-opacity="0"/><stop offset="0.318" stop-color="#454545" stop-opacity="0"/><stop offset="0.398" stop-color="#454545"/><stop offset="0.600" stop-color="#888888"/><stop offset="1.000" stop-color="#bcbcbc"/></linearGradient>
<linearGradient id="g140" x1="0" y1="0" x2="0" y2="1"><stop offset="0.000" stop-color="#2f2f2f" stop-opacity="0"/><stop offset="0.320" stop-color="#2f2f2f" stop-opacity="0"/><stop offset="0.400" stop-color="#2f2f2f"/><stop offset="0.600" stop-color="#757575"/><stop offset="1.000" stop-color="#c6c6c6"/></linearGradient>
<linearGradient id="g141" x1="0" y1="0" x2="0" y2="1"><stop offset="0.000" stop-color="#4e4e4e" stop-opacity="0"/><stop offset="0.132" stop-color="#4e4e4e" stop-opacity="0"/><stop offset="0.212" stop-color="#4e4e4e"/><stop offset="0.600" stop-color="#848484"/><stop offset="1.000" stop-color="#c8c8c8"/></linearGradient>
<linearGradient id="g142" x1="0" y1="0" x2="0" y2="1"><stop offset="0.000" stop-color="#323232" stop-opacity="0"/><stop offset="0.121" stop-color="#323232" stop-opacity="0"/><stop offset="0.201" stop-color="#323232"/><stop offset="0.600" stop-color="#666666"/><stop offset="1.000" stop-color="#b5b5b5"/></linearGradient>
<linearGradient id="g143" x1="0" y1="0" x2="0" y2="1"><stop offset="0.000" stop-color="#2f2f2f" stop-opacity="0"/><stop offset="0.164" stop-color="#2f2f2f" stop-opacity="0"/><stop offset="0.244" stop-color="#2f2f2f"/><stop offset="0.600" stop-color="#6f6f6f"/><stop offset="1.000" stop-color="#c1c1c1"/></linearGradient>
<linearGradient id="g144" x1="0" y1="0" x2="0" y2="1"><stop offset="0.000" stop-color="#343434" stop-opacity="0"/><stop offset="0.270" stop-color="#343434" stop-opacity="0"/><stop offset="0.350" stop-color="#343434"/><stop offset="0.600" stop-color="#868686"/><stop offset="1.000" stop-color="#bebebe"/></linearGradient>
<linearGradient id="g145" x1="0" y1="0" x2="0" y2="1"><stop offset="0.000" stop-color="#363636" stop-opacity="0"/><stop offset="0.290" stop-color="#363636" stop-opacity="0"/><stop offset="0.370" stop-color="#363636"/><stop offset="0.600" stop-color="#717171"/><stop offset="1.000" stop-color="#b9b9b9"/></linearGradient>
<linearGradient id="g146" x1="0" y1="0" x2="0" y2="1"><stop offset="0.000" stop-color="#4e4e4e" stop-opacity="0"/><stop offset="0.177" stop-color="#4e4e4e" stop-opacity="0"/><stop offset="0.257" stop-color="#4e4e4e"/><stop offset="0.600" stop-color="#747474"/><stop offset="1.000" stop-color="#afafaf"/></linearGradient>
<linearGradient id="g147" x1="0" y1="0" x2="0" y2="1"><stop offset="0.000" stop-color="#393939" stop-opacity="0"/><stop offset="0.094" stop-color="#393939" stop-opacity="0"/><stop offset="0.174" stop-color="#393939"/><stop offset="0.600" stop-color="#777777"/><stop offset="1.000" stop-color="#aeaeae"/></linearGradient>
<linearGradient id="g148" x1="0" y1="0" x2="0" y2="1"><stop offset="0.000" stop-color="#2e2e2e" stop-opacity="0"/><stop offset="0.138" stop-color="#2e2e2e" stop-opacity="0"/><stop offset="0.218" stop-color="#2e2e2e"/><stop offset="0.600" stop-color="#6f6f6f"/><stop offset="1.000" stop-color="#aeaeae"/></linearGradient>
<linearGradient id="g149" x1="0" y1="0" x2="0" y2="1"><stop offset="0.000" stop-color="#333333"/><stop offset="0.200" stop-color="#7b7b7b"/><stop offset="0.600" stop-color="#9f9f9f"/><stop offset="1.000" stop-color="#e7e7e7"/></linearGradient>
<linearGradient id="g150" x1="0" y1="0" x2="0" y2="1"><stop offset="0.000" stop-color="#4b4b4b"/><stop offset="0.200" stop-color="#939393"/><stop offset="0.500" stop-color="#cfcfcf"/><stop offset="1.000" stop-color="#ffffff"/></linearGradient>
<linearGradient id="g151" x1="0" y1="0" x2="0" y2="1"><stop offset="0.000" stop-color="#656565" stop-opacity="0"/><stop offset="0.429" stop-color="#656565" stop-opacity="0"/><stop offset="0.509" stop-color="#656565"/><stop offset="0.600" stop-color="#7e7e7e"/><stop offset="1.000" stop-color="#aaaaaa"/></linearGradient>
<linearGradient id="g152" x1="0" y1="0" x2="0" y2="1"><stop offset="0.000" stop-color="#484848" stop-opacity="0"/><stop offset="0.183" stop-color="#484848" stop-opacity="0"/><stop offset="0.263" stop-color="#484848"/><stop offset="0.600" stop-color="#777777"/><stop offset="1.000" stop-color="#999999"/></linearGradient>
<linearGradient id="g153" x1="0" y1="0" x2="0" y2="1"><stop offset="0.000" stop-color="#696969" stop-opacity="0"/><stop offset="0.349" stop-color="#696969" stop-opacity="0"/><stop offset="0.429" stop-color="#696969"/><stop offset="0.600" stop-color="#828282"/><stop offset="1.000" stop-color="#ababab"/></linearGradient>
<linearGradient id="g154" x1="0" y1="0" x2="0" y2="1"><stop offset="0.000" stop-color="#4f4f4f" stop-opacity="0"/><stop offset="0.367" stop-color="#4f4f4f" stop-opacity="0"/><stop offset="0.447" stop-color="#4f4f4f"/><stop offset="0.600" stop-color="#767676"/><stop offset="1.000" stop-color="#a2a2a2"/></linearGradient>
<linearGradient id="g155" x1="0" y1="0" x2="0" y2="1"><stop offset="0.000" stop-color="#444444" stop-opacity="0"/><stop offset="0.405" stop-color="#444444" stop-opacity="0"/><stop offset="0.485" stop-color="#444444"/><stop offset="0.600" stop-color="#686868"/><stop offset="1.000" stop-color="#9b9b9b"/></linearGradient>
<linearGradient id="g156" x1="0" y1="0" x2="0" y2="1"><stop offset="0.000" stop-color="#606060" stop-opacity="0"/><stop offset="0.324" stop-color="#606060" stop-opacity="0"/><stop offset="0.404" stop-color="#606060"/><stop offset="0.600" stop-color="#8c8c8c"/><stop offset="1.000" stop-color="#a6a6a6"/></linearGradient>
<linearGradient id="g157" x1="0" y1="0" x2="0" y2="1"><stop offset="0.000" stop-color="#545454" stop-opacity="0"/><stop offset="0.365" stop-color="#545454" stop-opacity="0"/><stop offset="0.445" stop-color="#545454"/><stop offset="0.600" stop-color="#777777"/><stop offset="1.000" stop-color="#959595"/></linearGradient>
<linearGradient id="g158" x1="0" y1="0" x2="0" y2="1"><stop offset="0.000" stop-color="#464646" stop-opacity="0"/><stop offset="0.554" stop-color="#464646" stop-opacity="0"/><stop offset="0.634" stop-color="#464646"/><stop offset="0.684" stop-color="#6a6a6a"/><stop offset="1.000" stop-color="#969696"/></linearGradient>
<linearGradient id="g159" x1="0" y1="0" x2="0" y2="1"><stop offset="0.000" stop-color="#3a3a3a" stop-opacity="0"/><stop offset="0.637" stop-color="#3a3a3a" stop-opacity="0"/><stop offset="0.717" stop-color="#3a3a3a"/><stop offset="0.767" stop-color="#6a6a6a"/><stop offset="1.000" stop-color="#909090"/></linearGradient>
<linearGradient id="g160" x1="0" y1="0" x2="0" y2="1"><stop offset="0.000" stop-color="#3d3d3d" stop-opacity="0"/><stop offset="0.632" stop-color="#3d3d3d" stop-opacity="0"/><stop offset="0.712" stop-color="#3d3d3d"/><stop offset="0.762" stop-color="#6c6c6c"/><stop offset="1.000" stop-color="#979797"/></linearGradient>
<linearGradient id="g161" x1="0" y1="0" x2="0" y2="1"><stop offset="0.000" stop-color="#0f0f0f"/><stop offset="0.120" stop-color="#0f0f0f"/><stop offset="0.220" stop-color="#161616"/><stop offset="0.350" stop-color="#191919"/><stop offset="0.900" stop-color="#1c1c1c"/><stop offset="0.955" stop-color="#272727"/><stop offset="0.965" stop-color="#6f6f6f"/><stop offset="0.985" stop-color="#9f9f9f"/><stop offset="1.000" stop-color="#e7e7e7"/></linearGradient>
<linearGradient id="l162" x1="0" y1="0" x2="0" y2="1"><stop offset="0.00" stop-color="#00f" stop-opacity="0"/><stop offset="0.33" stop-color="#00ff00"/><stop offset="0.67" stop-color="#ff7600"/><stop offset="1.00" stop-color="#ff7600"/></linearGradient>
<linearGradient id="l163" x1="0" y1="0" x2="0" y2="1"><stop offset="0.00" stop-color="#ffe300"/><stop offset="0.50" stop-color="#ffc800"/><stop offset="1.00" stop-color="#ffa000"/></linearGradient>
<linearGradient id="l164" x1="0" y1="0" x2="0" y2="1"><stop offset="0.00" stop-color="#00ffd4"/><stop offset="0.33" stop-color="#00ff32"/><stop offset="0.67" stop-color="#00ff00"/><stop offset="1.00" stop-color="#ffd600"/></linearGradient>
<linearGradient id="l165" x1="0" y1="0" x2="0" y2="1"><stop offset="0.00" stop-color="#d0ff00"/><stop offset="0.25" stop-color="#ff1f00"/><stop offset="0.50" stop-color="#ff0900"/><stop offset="0.75" stop-color="#ff0900"/><stop offset="1.00" stop-color="#ff0900"/></linearGradient>
<linearGradient id="l166" x1="0" y1="0" x2="0" y2="1"><stop offset="0.00" stop-color="#00ffd4"/><stop offset="0.33" stop-color="#a0ff00"/><stop offset="0.67" stop-color="#00ff00"/><stop offset="1.00" stop-color="#d0ff00"/></linearGradient>
<linearGradient id="l167" x1="0" y1="0" x2="0" y2="1"><stop offset="0.00" stop-color="#00ffe9"/><stop offset="0.33" stop-color="#00ffa8"/><stop offset="0.67" stop-color="#00ff32"/><stop offset="1.00" stop-color="#50ff00"/></linearGradient>
<linearGradient id="l168" x1="0" y1="0" x2="0" y2="1"><stop offset="0.00" stop-color="#fff100"/><stop offset="0.33" stop-color="#ffc800"/><stop offset="0.67" stop-color="#ff7600"/><stop offset="1.00" stop-color="#ff6000"/></linearGradient>
<linearGradient id="l169" x1="0" y1="0" x2="0" y2="1"><stop offset="0.00" stop-color="#ffff00"/><stop offset="0.33" stop-color="#ffc800"/><stop offset="0.67" stop-color="#ff7600"/><stop offset="1.00" stop-color="#ff6000"/></linearGradient>
<linearGradient id="l170" x1="0" y1="0" x2="0" y2="1"><stop offset="0.00" stop-color="#ffa000"/><stop offset="0.50" stop-color="#ff7600"/><stop offset="1.00" stop-color="#ff4900"/></linearGradient>
<linearGradient id="l171" x1="0" y1="0" x2="0" y2="1"><stop offset="0.00" stop-color="#ff4900"/><stop offset="0.50" stop-color="#ff1f00"/><stop offset="1.00" stop-color="#ff1600"/></linearGradient>
<linearGradient id="l172" x1="0" y1="0" x2="0" y2="1"><stop offset="0.00" stop-color="#ff1f00"/><stop offset="0.50" stop-color="#ff1600"/><stop offset="1.00" stop-color="#ff0f00"/></linearGradient>
<linearGradient id="l173" x1="0" y1="0" x2="0" y2="1"><stop offset="0.00" stop-color="#00ff00"/><stop offset="0.33" stop-color="#80ff00"/><stop offset="0.67" stop-color="#fff100"/><stop offset="1.00" stop-color="#ff7600"/></linearGradient>
<linearGradient id="l174" x1="0" y1="0" x2="0" y2="1"><stop offset="0.00" stop-color="#80ff00"/><stop offset="0.33" stop-color="#d0ff00"/><stop offset="0.67" stop-color="#ffd600"/><stop offset="1.00" stop-color="#ff7600"/></linearGradient>
<linearGradient id="l175" x1="0" y1="0" x2="0" y2="1"><stop offset="0.00" stop-color="#00ff00"/><stop offset="0.33" stop-color="#a0ff00"/><stop offset="0.67" stop-color="#ffd600"/><stop offset="1.00" stop-color="#ff7600"/></linearGradient>
<linearGradient id="l176" x1="0" y1="0" x2="0" y2="1"><stop offset="0.00" stop-color="#00ffd4"/><stop offset="0.33" stop-color="#00ffe9"/><stop offset="0.67" stop-color="#00fff4"/><stop offset="1.00" stop-color="#00f" stop-opacity="0"/></linearGradient>
<linearGradient id="l177" x1="0" y1="0" x2="0" y2="1"><stop offset="0.00" stop-color="#00ff00"/><stop offset="0.33" stop-color="#50ff00"/><stop offset="0.67" stop-color="#fff100"/><stop offset="1.00" stop-color="#ff7600"/></linearGradient>
<linearGradient id="l178" x1="0" y1="0" x2="0" y2="1"><stop offset="0.00" stop-color="#ffff00"/><stop offset="0.33" stop-color="#ffd600"/><stop offset="0.67" stop-color="#ff8c00"/><stop offset="1.00" stop-color="#ff6000"/></linearGradient>
<linearGradient id="l179" x1="0" y1="0" x2="0" y2="1"><stop offset="0.00" stop-color="#ff6000"/><stop offset="0.50" stop-color="#ff3300"/><stop offset="1.00" stop-color="#ff1f00"/></linearGradient>
<linearGradient id="l180" x1="0" y1="0" x2="0" y2="1"><stop offset="0.00" stop-color="#80ff00"/><stop offset="0.33" stop-color="#fff100"/><stop offset="0.67" stop-color="#ff8c00"/><stop offset="1.00" stop-color="#ff6000"/></linearGradient>
<linearGradient id="l181" x1="0" y1="0" x2="0" y2="1"><stop offset="0.00" stop-color="#ff8c00"/><stop offset="0.50" stop-color="#ff7600"/><stop offset="1.00" stop-color="#ff4900"/></linearGradient>
<linearGradient id="l182" x1="0" y1="0" x2="0" y2="1"><stop offset="0.00" stop-color="#d0ff00"/><stop offset="0.33" stop-color="#ffd600"/><stop offset="0.67" stop-color="#ff8c00"/><stop offset="1.00" stop-color="#ff6000"/></linearGradient>
<linearGradient id="l183" x1="0" y1="0" x2="0" y2="1"><stop offset="0.00" stop-color="#ff4900"/><stop offset="0.50" stop-color="#ff3300"/><stop offset="1.00" stop-color="#ff1f00"/></linearGradient>
<linearGradient id="l184" x1="0" y1="0" x2="0" y2="1"><stop offset="0.00" stop-color="#50ff00"/><stop offset="0.33" stop-color="#80ff00"/><stop offset="0.67" stop-color="#a0ff00"/><stop offset="1.00" stop-color="#fff100"/></linearGradient>
<linearGradient id="l185" x1="0" y1="0" x2="0" y2="1"><stop offset="0.00" stop-color="#d0ff00"/><stop offset="0.33" stop-color="#ffe300"/><stop offset="0.67" stop-color="#ff8c00"/><stop offset="1.00" stop-color="#ff6000"/></linearGradient>
<linearGradient id="l186" x1="0" y1="0" x2="0" y2="1"><stop offset="0.00" stop-color="#60ff00"/><stop offset="0.33" stop-color="#80ff00"/><stop offset="0.67" stop-color="#d0ff00"/><stop offset="1.00" stop-color="#ffd600"/></linearGradient>
<linearGradient id="l187" x1="0" y1="0" x2="0" y2="1"><stop offset="0.00" stop-color="#00ff14"/><stop offset="0.33" stop-color="#00ff00"/><stop offset="0.67" stop-color="#00ff00"/><stop offset="1.00" stop-color="#50ff00"/></linearGradient>
</defs>
<rect width="640" height="768" fill="#fff"/>
<g filter="url(#f0)">
<rect x="80" y="57" width="421" height="78" fill="url(#ebg)"/><rect x="312" y="95" width="1" height="10" fill="#3b3b3b"/><rect x="381" y="72" width="1" height="5" fill="#414141"/><rect x="324" y="100" width="1" height="12" fill="#414141"/><rect x="129" y="88" width="1" height="7" fill="#363636"/><rect x="356" y="111" width="1" height="3" fill="#3d3d3d"/><rect x="283" y="88" width="1" height="12" fill="#3e3e3e"/><rect x="400" y="60" width="1" height="11" fill="#343434"/><rect x="99" y="72" width="1" height="6" fill="#3d3d3d"/><rect x="479" y="89" width="1" height="8" fill="#3b3b3b"/><rect x="181" y="93" width="1" height="6" fill="#3e3e3e"/><rect x="336" y="60" width="1" height="4" fill="#3b3b3b"/><rect x="223" y="86" width="1" height="11" fill="#444444"/><rect x="123" y="105" width="1" height="7" fill="#393939"/><rect x="198" y="92" width="1" height="7" fill="#343434"/><rect x="369" y="109" width="1" height="4" fill="#3a3a3a"/><rect x="229" y="84" width="1" height="4" fill="#434343"/><rect x="431" y="60" width="1" height="6" fill="#373737"/><rect x="107" y="90" width="1" height="9" fill="#444444"/><rect x="284" y="86" width="1" height="4" fill="#3d3d3d"/><rect x="182" y="109" width="1" height="7" fill="#393939"/><rect x="240" y="81" width="1" height="3" fill="#434343"/><rect x="469" y="67" width="1" height="5" fill="#373737"/><rect x="132" y="60" width="1" height="3" fill="#3b3b3b"/><rect x="330" y="71" width="1" height="11" fill="#363636"/><rect x="341" y="72" width="1" height="5" fill="#3a3a3a"/><rect x="277" y="67" width="1" height="9" fill="#3a3a3a"/><rect x="189" y="60" width="1" height="7" fill="#424242"/><rect x="492" y="97" width="1" height="7" fill="#444444"/><rect x="91" y="123" width="1" height="5" fill="#424242"/><rect x="389" y="119" width="1" height="9" fill="#4c4c4c"/><rect x="102" y="123" width="1" height="5" fill="#424242"/><rect x="213" y="124" width="1" height="4" fill="#515151"/><rect x="249" y="122" width="1" height="6" fill="#474747"/><rect x="119" y="124" width="1" height="4" fill="#424242"/><rect x="406" y="123" width="1" height="5" fill="#3d3d3d"/><rect x="269" y="122" width="1" height="6" fill="#4d4d4d"/><rect x="146" y="120" width="1" height="8" fill="#4a4a4a"/><rect x="375" y="123" width="1" height="5" fill="#545454"/><rect x="174" y="119" width="1" height="9" fill="#414141"/><rect x="197" y="120" width="1" height="8" fill="#434343"/><rect x="178" y="123" width="1" height="5" fill="#505050"/><rect x="364" y="123" width="1" height="5" fill="#4f4f4f"/><rect x="279" y="121" width="1" height="7" fill="#4d4d4d"/><rect x="296" y="124" width="1" height="4" fill="#404040"/><rect x="100" y="120" width="1" height="8" fill="#565656"/><rect x="203" y="119" width="1" height="9" fill="#4f4f4f"/><rect x="212" y="121" width="1" height="7" fill="#535353"/><rect x="386" y="121" width="1" height="7" fill="#454545"/><rect x="170" y="119" width="1" height="9" fill="#575757"/><rect x="145" y="123" width="1" height="5" fill="#494949"/><rect x="415" y="120" width="1" height="8" fill="#4d4d4d"/><rect x="224" y="123" width="1" height="5" fill="#555555"/><rect x="185" y="119" width="1" height="9" fill="#3d3d3d"/><rect x="218" y="121" width="1" height="7" fill="#494949"/><rect x="111" y="124" width="1" height="4" fill="#414141"/><rect x="269" y="120" width="1" height="8" fill="#4c4c4c"/><rect x="148" y="124" width="1" height="4" fill="#464646"/><rect x="311" y="122" width="1" height="6" fill="#4e4e4e"/><rect x="434" y="120" width="1" height="8" fill="#4c4c4c"/><rect x="152" y="120" width="1" height="8" fill="#3e3e3e"/><rect x="90" y="121" width="1" height="7" fill="#555555"/><rect x="439" y="122" width="1" height="6" fill="#565656"/><rect x="91" y="120" width="1" height="8" fill="#4e4e4e"/><rect x="327" y="124" width="1" height="4" fill="#505050"/><rect x="244" y="123" width="1" height="5" fill="#575757"/><rect x="119" y="121" width="1" height="7" fill="#4b4b4b"/><rect x="458" y="124" width="1" height="4" fill="#555555"/><rect x="458" y="119" width="1" height="9" fill="#4f4f4f"/><rect x="487" y="122" width="1" height="6" fill="#464646"/><rect x="431" y="121" width="1" height="7" fill="#555555"/><rect x="294" y="124" width="1" height="4" fill="#545454"/><rect x="374" y="124" width="1" height="4" fill="#4d4d4d"/><rect x="276" y="121" width="1" height="7" fill="#4c4c4c"/><rect x="392" y="124" width="1" height="4" fill="#3f3f3f"/><rect x="408" y="124" width="1" height="4" fill="#575757"/><rect x="294" y="119" width="1" height="9" fill="#464646"/><rect x="457" y="119" width="1" height="9" fill="#4c4c4c"/><rect x="306" y="121" width="1" height="7" fill="#535353"/><rect x="123" y="120" width="1" height="8" fill="#515151"/><rect x="96" y="122" width="1" height="6" fill="#4d4d4d"/><rect x="327" y="124" width="1" height="4" fill="#434343"/><rect x="438" y="124" width="1" height="4" fill="#4a4a4a"/><rect x="395" y="119" width="1" height="9" fill="#555555"/><rect x="211" y="124" width="1" height="4" fill="#474747"/><rect x="154" y="119" width="1" height="9" fill="#4d4d4d"/><rect x="346" y="123" width="1" height="5" fill="#515151"/><rect x="256" y="119" width="1" height="9" fill="#555555"/><rect x="336" y="123" width="1" height="5" fill="#454545"/><rect x="421" y="122" width="1" height="6" fill="#424242"/><rect x="301" y="123" width="1" height="5" fill="#545454"/><rect x="277" y="123" width="1" height="5" fill="#4c4c4c"/><rect x="243" y="123" width="1" height="5" fill="#404040"/><rect x="335" y="122" width="1" height="6" fill="#535353"/><rect x="101" y="119" width="1" height="9" fill="#3f3f3f"/><rect x="222" y="123" width="1" height="5" fill="#404040"/><rect x="322" y="122" width="1" height="6" fill="#555555"/><rect x="292" y="121" width="1" height="7" fill="#4d4d4d"/><rect x="333" y="119" width="1" height="9" fill="#454545"/><rect x="400" y="121" width="1" height="7" fill="#454545"/><rect x="97" y="122" width="1" height="6" fill="#545454"/><rect x="102" y="119" width="1" height="9" fill="#505050"/><rect x="373" y="122" width="1" height="6" fill="#454545"/><rect x="486" y="120" width="1" height="8" fill="#3d3d3d"/><rect x="150" y="121" width="1" height="7" fill="#494949"/><rect x="93" y="122" width="1" height="6" fill="#434343"/><rect x="153" y="124" width="1" height="4" fill="#575757"/><rect x="140" y="121" width="1" height="7" fill="#404040"/><rect x="355" y="119" width="1" height="9" fill="#4e4e4e"/><rect x="269" y="124" width="1" height="4" fill="#4f4f4f"/><rect x="183" y="121" width="1" height="7" fill="#444444"/><rect x="446" y="124" width="1" height="4" fill="#515151"/><rect x="354" y="119" width="1" height="9" fill="#3e3e3e"/><rect x="196" y="122" width="1" height="6" fill="#515151"/><rect x="357" y="119" width="1" height="9" fill="#565656"/><rect x="337" y="120" width="1" height="8" fill="#575757"/><rect x="162" y="121" width="1" height="7" fill="#535353"/><rect x="439" y="123" width="1" height="5" fill="#3f3f3f"/><rect x="450" y="121" width="1" height="7" fill="#404040"/><rect x="313" y="123" width="1" height="5" fill="#4d4d4d"/><rect x="84" y="121" width="1" height="7" fill="#4b4b4b"/><rect x="415" y="120" width="1" height="8" fill="#525252"/><rect x="256" y="121" width="1" height="7" fill="#454545"/><rect x="185" y="124" width="1" height="4" fill="#505050"/><rect x="499" y="119" width="1" height="9" fill="#555555"/><rect x="144" y="123" width="1" height="5" fill="#434343"/><rect x="280" y="124" width="1" height="4" fill="#575757"/><rect x="355" y="122" width="1" height="6" fill="#444444"/><rect x="448" y="124" width="1" height="4" fill="#464646"/><rect x="123" y="124" width="1" height="4" fill="#484848"/><rect x="362" y="121" width="1" height="7" fill="#515151"/><rect x="330" y="124" width="1" height="4" fill="#434343"/><rect x="113" y="121" width="1" height="7" fill="#525252"/><rect x="169" y="120" width="1" height="8" fill="#464646"/><rect x="484" y="123" width="1" height="5" fill="#494949"/><rect x="345" y="119" width="1" height="9" fill="#4b4b4b"/><rect x="428" y="119" width="1" height="9" fill="#484848"/><rect x="333" y="120" width="1" height="8" fill="#565656"/><rect x="125" y="123" width="1" height="5" fill="#484848"/><rect x="367" y="122" width="1" height="6" fill="#535353"/><rect x="368" y="119" width="1" height="9" fill="#414141"/><rect x="344" y="120" width="1" height="8" fill="#444444"/><rect x="424" y="121" width="1" height="7" fill="#565656"/><rect x="393" y="123" width="1" height="5" fill="#454545"/><rect x="153" y="120" width="1" height="8" fill="#4b4b4b"/><rect x="374" y="121" width="1" height="7" fill="#424242"/><rect x="355" y="124" width="1" height="4" fill="#4a4a4a"/><rect x="390" y="121" width="1" height="7" fill="#3e3e3e"/><rect x="103" y="120" width="1" height="8" fill="#555555"/><rect x="359" y="120" width="1" height="8" fill="#404040"/><rect x="128" y="119" width="1" height="9" fill="#414141"/><rect x="356" y="121" width="1" height="7" fill="#484848"/><rect x="490" y="121" width="1" height="7" fill="#444444"/><rect x="323" y="121" width="1" height="7" fill="#404040"/><rect x="303" y="121" width="1" height="7" fill="#4b4b4b"/><rect x="136" y="123" width="1" height="5" fill="#484848"/><rect x="96" y="122" width="1" height="6" fill="#404040"/><rect x="479" y="124" width="1" height="4" fill="#3e3e3e"/><rect x="160" y="123" width="1" height="5" fill="#3d3d3d"/><rect x="196" y="57" width="26" height="69" fill="#000" opacity="0.3"/><rect x="227" y="57" width="8" height="69" fill="#000" opacity="0.3"/><rect x="244" y="57" width="7" height="69" fill="#000" opacity="0.25"/><rect x="336" y="77" width="1.4" height="14" fill="#505050"/><rect x="338" y="71" width="1.4" height="22" fill="#494949"/><rect x="341" y="83" width="1.4" height="18" fill="#4e4e4e"/><rect x="345" y="87" width="1.4" height="12" fill="#444444"/><rect x="347" y="69" width="1.4" height="20" fill="#4b4b4b"/><rect x="362" y="87" width="1.4" height="16" fill="#444444"/><rect x="379" y="97" width="1.4" height="24" fill="#494949"/><rect x="382" y="103" width="1.4" height="20" fill="#444444"/><rect x="395" y="65" width="1.4" height="10" fill="#494949"/><rect x="123" y="85" width="1.4" height="16" fill="#444444"/><rect x="424" y="107" width="1.4" height="18" fill="#444444"/><rect x="436" y="101" width="1.4" height="22" fill="#444444"/><rect x="452" y="112" width="1.4" height="14" fill="#444444"/><rect x="330" y="115" width="1.4" height="12" fill="#494949"/><rect x="399" y="117" width="1.4" height="10" fill="#494949"/><polygon points="120,130 140,125 156,121 160,110 166,114 178,116 186,122 194,130 " fill="url(#g1)" opacity="0.85"/><rect x="159" y="57" width="1" height="74" fill="url(#g2)"/><rect x="160" y="57" width="1" height="74" fill="url(#g3)"/><rect x="161" y="57" width="1" height="74" fill="url(#g4)"/><rect x="162" y="57" width="1" height="74" fill="url(#g5)"/><rect x="164" y="57" width="1" height="74" fill="url(#g6)"/><rect x="165" y="57" width="1" height="74" fill="url(#g7)"/><rect x="167" y="57" width="1" height="74" fill="url(#g8)"/><rect x="169" y="57" width="1" height="74" fill="url(#g9)"/><rect x="172" y="57" width="1" height="74" fill="url(#g10)"/><rect x="173" y="57" width="1" height="74" fill="url(#g11)"/><rect x="176" y="57" width="1" height="74" fill="url(#g12)"/><rect x="180" y="57" width="1" height="74" fill="url(#g13)"/><rect x="181" y="57" width="1" height="74" fill="url(#g14)"/><rect x="184" y="57" width="1" height="74" fill="url(#g15)"/><rect x="188" y="57" width="1" height="74" fill="url(#g16)"/><rect x="256" y="57" width="30" height="78" fill="url(#g17)"/><rect x="294" y="57" width="2" height="74" fill="url(#g18)"/><rect x="296" y="57" width="1" height="74" fill="url(#g19)"/><rect x="297" y="57" width="1" height="74" fill="url(#g20)"/><rect x="298" y="57" width="1" height="74" fill="url(#g21)"/><rect x="299" y="57" width="2" height="74" fill="url(#g22)"/><rect x="301" y="57" width="1" height="74" fill="url(#g23)"/><rect x="302" y="57" width="1" height="74" fill="url(#g24)"/><rect x="303" y="57" width="1" height="74" fill="url(#g25)"/><rect x="304" y="57" width="2" height="74" fill="url(#g26)"/><rect x="306" y="57" width="1" height="74" fill="url(#g27)"/><rect x="307" y="57" width="1" height="74" fill="url(#g28)"/><rect x="308" y="57" width="1" height="74" fill="url(#g29)"/><rect x="309" y="57" width="2" height="74" fill="url(#g30)"/><rect x="311" y="57" width="1" height="74" fill="url(#g31)"/><rect x="309" y="57" width="1" height="74" fill="url(#g32)"/><rect x="310" y="57" width="2" height="74" fill="url(#g33)"/><rect x="312" y="57" width="1" height="74" fill="url(#g34)"/><rect x="311" y="57" width="2" height="74" fill="url(#g35)"/><rect x="313" y="57" width="1" height="74" fill="url(#g36)"/><polygon points="478.75,65 480.25,65 483,132 475.5,132" fill="url(#g37)"/><rect x="478" y="57" width="1" height="74" fill="url(#g38)"/><rect x="479" y="57" width="1" height="74" fill="url(#g39)"/><rect x="480" y="57" width="1" height="74" fill="url(#g40)"/><polygon points="487.25,79 488.75,79 491,132 485,132" fill="url(#g41)"/><rect x="487" y="57" width="1" height="74" fill="url(#g42)"/><rect x="488" y="57" width="1" height="74" fill="url(#g43)"/><rect x="493" y="57" width="1" height="74" fill="url(#g44)"/><rect x="494" y="57" width="2" height="74" fill="url(#g45)"/><rect x="496" y="57" width="2" height="74" fill="url(#g46)"/><rect x="498" y="57" width="1" height="74" fill="url(#g47)"/><rect x="221" y="64" width="1" height="70" fill="#575757"/><polygon points="222.8,57 224,57 224.05,99.9 223.5,135 222,135 222.10,99.9" fill="url(#g48)"/><polygon points="223.8,57 225.8,57 226.80,99.9 227.2,135 222.8,135 223.00,99.9" fill="url(#g49)"/><polygon points="235.8,57 237.8,57 238.70,99.9 239,135 234.8,135 235.00,99.9" fill="url(#g50)"/><rect x="238.2" y="57" width="1.8" height="78" fill="url(#g51)"/><polygon points="240.4,57 243.2,57 244.30,99.9 244.8,135 239.6,135 239.70,99.9" fill="url(#g52)"/><rect x="251.5" y="57" width="1.3" height="78" fill="url(#g53)"/><polygon points="252.8,57 254.6,57 255.60,99.9 256,135 252,135 252.10,99.9" fill="url(#g54)"/><rect x="286" y="57" width="2.5" height="78" fill="url(#g55)"/><rect x="288.5" y="57" width="1.5" height="78" fill="url(#g56)"/><rect x="290" y="57" width="4" height="78" fill="url(#g57)"/>
</g>
<g filter="url(#q0)">
<rect x="256" y="57" width="30" height="78" fill="url(#g58)"/>
</g>
<g filter="url(#f1)">
<rect x="80" y="153" width="421" height="78" fill="url(#ebg)"/><rect x="378" y="202" width="1" height="8" fill="#343434"/><rect x="195" y="183" width="1" height="10" fill="#373737"/><rect x="467" y="171" width="1" height="3" fill="#3c3c3c"/><rect x="495" y="202" width="1" height="10" fill="#363636"/><rect x="499" y="171" width="1" height="12" fill="#3f3f3f"/><rect x="106" y="195" width="1" height="9" fill="#3b3b3b"/><rect x="185" y="159" width="1" height="8" fill="#3c3c3c"/><rect x="144" y="179" width="1" height="10" fill="#363636"/><rect x="294" y="185" width="1" height="12" fill="#383838"/><rect x="379" y="199" width="1" height="9" fill="#393939"/><rect x="461" y="189" width="1" height="5" fill="#434343"/><rect x="456" y="164" width="1" height="6" fill="#3b3b3b"/><rect x="338" y="175" width="1" height="11" fill="#3e3e3e"/><rect x="264" y="173" width="1" height="7" fill="#3d3d3d"/><rect x="452" y="192" width="1" height="12" fill="#363636"/><rect x="223" y="204" width="1" height="6" fill="#363636"/><rect x="208" y="188" width="1" height="6" fill="#424242"/><rect x="101" y="196" width="1" height="3" fill="#333333"/><rect x="213" y="183" width="1" height="3" fill="#3e3e3e"/><rect x="133" y="170" width="1" height="11" fill="#383838"/><rect x="467" y="161" width="1" height="5" fill="#3c3c3c"/><rect x="404" y="179" width="1" height="10" fill="#3b3b3b"/><rect x="188" y="177" width="1" height="8" fill="#3c3c3c"/><rect x="149" y="160" width="1" height="4" fill="#3b3b3b"/><rect x="400" y="205" width="1" height="6" fill="#3b3b3b"/><rect x="463" y="172" width="1" height="9" fill="#414141"/><rect x="269" y="165" width="1" height="12" fill="#393939"/><rect x="361" y="204" width="1" height="5" fill="#3a3a3a"/><rect x="270" y="216" width="1" height="8" fill="#3f3f3f"/><rect x="246" y="220" width="1" height="4" fill="#4b4b4b"/><rect x="302" y="216" width="1" height="8" fill="#4c4c4c"/><rect x="498" y="215" width="1" height="9" fill="#494949"/><rect x="478" y="220" width="1" height="4" fill="#3f3f3f"/><rect x="190" y="215" width="1" height="9" fill="#4d4d4d"/><rect x="436" y="218" width="1" height="6" fill="#4a4a4a"/><rect x="472" y="215" width="1" height="9" fill="#454545"/><rect x="154" y="219" width="1" height="5" fill="#464646"/><rect x="452" y="218" width="1" height="6" fill="#474747"/><rect x="141" y="218" width="1" height="6" fill="#505050"/><rect x="372" y="216" width="1" height="8" fill="#555555"/><rect x="432" y="218" width="1" height="6" fill="#484848"/><rect x="492" y="218" width="1" height="6" fill="#494949"/><rect x="194" y="217" width="1" height="7" fill="#565656"/><rect x="454" y="216" width="1" height="8" fill="#434343"/><rect x="266" y="218" width="1" height="6" fill="#3d3d3d"/><rect x="427" y="217" width="1" height="7" fill="#4c4c4c"/><rect x="488" y="219" width="1" height="5" fill="#505050"/><rect x="269" y="217" width="1" height="7" fill="#4b4b4b"/><rect x="383" y="216" width="1" height="8" fill="#424242"/><rect x="126" y="217" width="1" height="7" fill="#545454"/><rect x="225" y="220" width="1" height="4" fill="#434343"/><rect x="110" y="216" width="1" height="8" fill="#414141"/><rect x="232" y="220" width="1" height="4" fill="#4e4e4e"/><rect x="492" y="217" width="1" height="7" fill="#3f3f3f"/><rect x="360" y="218" width="1" height="6" fill="#525252"/><rect x="124" y="218" width="1" height="6" fill="#3f3f3f"/><rect x="458" y="220" width="1" height="4" fill="#555555"/><rect x="124" y="220" width="1" height="4" fill="#4e4e4e"/><rect x="154" y="220" width="1" height="4" fill="#515151"/><rect x="413" y="217" width="1" height="7" fill="#434343"/><rect x="193" y="217" width="1" height="7" fill="#515151"/><rect x="348" y="218" width="1" height="6" fill="#515151"/><rect x="282" y="218" width="1" height="6" fill="#464646"/><rect x="251" y="215" width="1" height="9" fill="#404040"/><rect x="330" y="216" width="1" height="8" fill="#525252"/><rect x="118" y="215" width="1" height="9" fill="#4d4d4d"/><rect x="104" y="217" width="1" height="7" fill="#515151"/><rect x="422" y="218" width="1" height="6" fill="#535353"/><rect x="493" y="217" width="1" height="7" fill="#535353"/><rect x="318" y="216" width="1" height="8" fill="#4e4e4e"/><rect x="349" y="218" width="1" height="6" fill="#505050"/><rect x="491" y="220" width="1" height="4" fill="#484848"/><rect x="296" y="219" width="1" height="5" fill="#434343"/><rect x="164" y="215" width="1" height="9" fill="#474747"/><rect x="166" y="218" width="1" height="6" fill="#424242"/><rect x="298" y="216" width="1" height="8" fill="#454545"/><rect x="111" y="217" width="1" height="7" fill="#454545"/><rect x="139" y="218" width="1" height="6" fill="#4e4e4e"/><rect x="478" y="219" width="1" height="5" fill="#555555"/><rect x="466" y="217" width="1" height="7" fill="#3d3d3d"/><rect x="327" y="220" width="1" height="4" fill="#454545"/><rect x="182" y="219" width="1" height="5" fill="#464646"/><rect x="382" y="219" width="1" height="5" fill="#4d4d4d"/><rect x="322" y="216" width="1" height="8" fill="#4a4a4a"/><rect x="307" y="219" width="1" height="5" fill="#545454"/><rect x="287" y="219" width="1" height="5" fill="#555555"/><rect x="240" y="215" width="1" height="9" fill="#4b4b4b"/><rect x="499" y="216" width="1" height="8" fill="#494949"/><rect x="214" y="217" width="1" height="7" fill="#545454"/><rect x="256" y="215" width="1" height="9" fill="#4b4b4b"/><rect x="128" y="217" width="1" height="7" fill="#545454"/><rect x="285" y="220" width="1" height="4" fill="#434343"/><rect x="149" y="217" width="1" height="7" fill="#575757"/><rect x="487" y="216" width="1" height="8" fill="#515151"/><rect x="484" y="220" width="1" height="4" fill="#4e4e4e"/><rect x="202" y="220" width="1" height="4" fill="#545454"/><rect x="271" y="217" width="1" height="7" fill="#525252"/><rect x="446" y="217" width="1" height="7" fill="#4d4d4d"/><rect x="161" y="217" width="1" height="7" fill="#414141"/><rect x="245" y="219" width="1" height="5" fill="#444444"/><rect x="495" y="216" width="1" height="8" fill="#404040"/><rect x="460" y="216" width="1" height="8" fill="#444444"/><rect x="354" y="220" width="1" height="4" fill="#414141"/><rect x="475" y="219" width="1" height="5" fill="#3d3d3d"/><rect x="157" y="219" width="1" height="5" fill="#3f3f3f"/><rect x="219" y="216" width="1" height="8" fill="#505050"/><rect x="130" y="217" width="1" height="7" fill="#4f4f4f"/><rect x="123" y="215" width="1" height="9" fill="#4c4c4c"/><rect x="340" y="218" width="1" height="6" fill="#3d3d3d"/><rect x="177" y="217" width="1" height="7" fill="#424242"/><rect x="430" y="220" width="1" height="4" fill="#515151"/><rect x="306" y="219" width="1" height="5" fill="#3e3e3e"/><rect x="292" y="216" width="1" height="8" fill="#4a4a4a"/><rect x="240" y="218" width="1" height="6" fill="#454545"/><rect x="119" y="216" width="1" height="8" fill="#454545"/><rect x="320" y="215" width="1" height="9" fill="#505050"/><rect x="265" y="220" width="1" height="4" fill="#4f4f4f"/><rect x="135" y="215" width="1" height="9" fill="#474747"/><rect x="317" y="215" width="1" height="9" fill="#565656"/><rect x="143" y="215" width="1" height="9" fill="#494949"/><rect x="274" y="215" width="1" height="9" fill="#505050"/><rect x="202" y="218" width="1" height="6" fill="#4c4c4c"/><rect x="315" y="220" width="1" height="4" fill="#535353"/><rect x="490" y="215" width="1" height="9" fill="#424242"/><rect x="396" y="219" width="1" height="5" fill="#444444"/><rect x="273" y="216" width="1" height="8" fill="#515151"/><rect x="253" y="217" width="1" height="7" fill="#4b4b4b"/><rect x="125" y="218" width="1" height="6" fill="#424242"/><rect x="273" y="215" width="1" height="9" fill="#404040"/><rect x="239" y="218" width="1" height="6" fill="#4c4c4c"/><rect x="451" y="215" width="1" height="9" fill="#464646"/><rect x="276" y="220" width="1" height="4" fill="#404040"/><rect x="399" y="220" width="1" height="4" fill="#404040"/><rect x="403" y="215" width="1" height="9" fill="#424242"/><rect x="179" y="217" width="1" height="7" fill="#3e3e3e"/><rect x="318" y="216" width="1" height="8" fill="#4f4f4f"/><rect x="132" y="219" width="1" height="5" fill="#3e3e3e"/><rect x="144" y="217" width="1" height="7" fill="#484848"/><rect x="118" y="218" width="1" height="6" fill="#555555"/><rect x="299" y="216" width="1" height="8" fill="#414141"/><rect x="186" y="219" width="1" height="5" fill="#525252"/><rect x="278" y="217" width="1" height="7" fill="#464646"/><rect x="292" y="216" width="1" height="8" fill="#3d3d3d"/><rect x="286" y="216" width="1" height="8" fill="#4f4f4f"/><rect x="484" y="219" width="1" height="5" fill="#4e4e4e"/><rect x="392" y="216" width="1" height="8" fill="#3d3d3d"/><rect x="250" y="219" width="1" height="5" fill="#464646"/><rect x="414" y="217" width="1" height="7" fill="#404040"/><rect x="274" y="219" width="1" height="5" fill="#4a4a4a"/><rect x="484" y="218" width="1" height="6" fill="#535353"/><rect x="394" y="215" width="1" height="9" fill="#414141"/><rect x="473" y="216" width="1" height="8" fill="#555555"/><rect x="361" y="219" width="1" height="5" fill="#464646"/><rect x="337" y="216" width="1" height="8" fill="#414141"/><rect x="446" y="219" width="1" height="5" fill="#575757"/><rect x="345" y="215" width="1" height="9" fill="#4f4f4f"/><rect x="181" y="216" width="1" height="8" fill="#565656"/><rect x="402" y="215" width="1" height="9" fill="#424242"/><rect x="196" y="153" width="26" height="69" fill="#000" opacity="0.3"/><rect x="227" y="153" width="8" height="69" fill="#000" opacity="0.3"/><rect x="244" y="153" width="7" height="69" fill="#000" opacity="0.25"/><rect x="336" y="173" width="1.4" height="14" fill="#505050"/><rect x="338" y="167" width="1.4" height="22" fill="#494949"/><rect x="341" y="179" width="1.4" height="18" fill="#4e4e4e"/><rect x="345" y="183" width="1.4" height="12" fill="#444444"/><rect x="347" y="165" width="1.4" height="20" fill="#4b4b4b"/><rect x="362" y="183" width="1.4" height="16" fill="#444444"/><rect x="379" y="193" width="1.4" height="24" fill="#494949"/><rect x="382" y="199" width="1.4" height="20" fill="#444444"/><rect x="395" y="161" width="1.4" height="10" fill="#494949"/><rect x="123" y="181" width="1.4" height="16" fill="#444444"/><rect x="424" y="203" width="1.4" height="18" fill="#444444"/><rect x="436" y="197" width="1.4" height="22" fill="#444444"/><rect x="452" y="208" width="1.4" height="14" fill="#444444"/><rect x="330" y="211" width="1.4" height="12" fill="#494949"/><rect x="399" y="213" width="1.4" height="10" fill="#494949"/><polygon points="120,226 140,221 156,217 160,206 166,210 178,212 186,218 194,226 " fill="url(#g59)" opacity="0.85"/><rect x="159" y="153" width="1" height="74" fill="url(#g60)"/><rect x="160" y="153" width="1" height="74" fill="url(#g61)"/><rect x="161" y="153" width="1" height="74" fill="url(#g62)"/><rect x="162" y="153" width="1" height="74" fill="url(#g63)"/><rect x="163" y="153" width="1" height="74" fill="url(#g64)"/><rect x="164" y="153" width="1" height="74" fill="url(#g65)"/><rect x="165" y="153" width="1" height="74" fill="url(#g66)"/><rect x="166" y="153" width="1" height="74" fill="url(#g67)"/><rect x="167" y="153" width="1" height="74" fill="url(#g68)"/><rect x="168" y="153" width="1" height="74" fill="url(#g69)"/><rect x="171" y="153" width="1" height="74" fill="url(#g70)"/><rect x="172" y="153" width="1" height="74" fill="url(#g71)"/><rect x="175" y="153" width="1" height="74" fill="url(#g72)"/><rect x="178" y="153" width="1" height="74" fill="url(#g73)"/><rect x="179" y="153" width="1" height="74" fill="url(#g74)"/><rect x="180" y="153" width="1" height="74" fill="url(#g75)"/><rect x="183" y="153" width="1" height="74" fill="url(#g76)"/><rect x="187" y="153" width="1" height="74" fill="url(#g77)"/><rect x="256" y="153" width="30" height="78" fill="url(#g78)"/><rect x="294" y="153" width="1" height="74" fill="url(#g79)"/><rect x="295" y="153" width="2" height="74" fill="url(#g80)"/><rect x="297" y="153" width="1" height="74" fill="url(#g81)"/><rect x="298" y="153" width="1" height="74" fill="url(#g82)"/><rect x="299" y="153" width="2" height="74" fill="url(#g83)"/><rect x="301" y="153" width="1" height="74" fill="url(#g84)"/><rect x="302" y="153" width="2" height="74" fill="url(#g85)"/><rect x="304" y="153" width="1" height="74" fill="url(#g86)"/><rect x="305" y="153" width="2" height="74" fill="url(#g87)"/><rect x="307" y="153" width="1" height="74" fill="url(#g88)"/><rect x="308" y="153" width="2" height="74" fill="url(#g89)"/><rect x="310" y="153" width="2" height="74" fill="url(#g90)"/><rect x="308" y="153" width="2" height="74" fill="url(#g91)"/><rect x="310" y="153" width="2" height="74" fill="url(#g92)"/><rect x="312" y="153" width="1" height="74" fill="url(#g93)"/><rect x="311" y="153" width="2" height="74" fill="url(#g94)"/><rect x="313" y="153" width="1" height="74" fill="url(#g95)"/><polygon points="478.75,161 480.25,161 483,228 475.5,228" fill="url(#g96)"/><rect x="477" y="153" width="1" height="74" fill="url(#g97)"/><rect x="481" y="153" width="1" height="74" fill="url(#g98)"/><polygon points="487.25,175 488.75,175 491,228 485,228" fill="url(#g99)"/><rect x="488" y="153" width="1" height="74" fill="url(#g100)"/><rect x="489" y="153" width="1" height="74" fill="url(#g101)"/><rect x="493" y="153" width="2" height="74" fill="url(#g102)"/><rect x="495" y="153" width="1" height="74" fill="url(#g103)"/><rect x="496" y="153" width="2" height="74" fill="url(#g104)"/><rect x="498" y="153" width="1" height="74" fill="url(#g105)"/><rect x="221" y="160" width="1" height="70" fill="#575757"/><polygon points="222.8,153 224,153 224.05,195.9 223.5,231 222,231 222.10,195.9" fill="url(#g106)"/><polygon points="223.8,153 225.8,153 226.80,195.9 227.2,231 222.8,231 223.00,195.9" fill="url(#g107)"/><polygon points="235.8,153 237.8,153 238.70,195.9 239,231 234.8,231 235.00,195.9" fill="url(#g108)"/><rect x="238.2" y="153" width="1.8" height="78" fill="url(#g109)"/><polygon points="240.4,153 243.2,153 244.30,195.9 244.8,231 239.6,231 239.70,195.9" fill="url(#g110)"/><rect x="251.5" y="153" width="1.3" height="78" fill="url(#g111)"/><polygon points="252.8,153 254.6,153 255.60,195.9 256,231 252,231 252.10,195.9" fill="url(#g112)"/><rect x="286" y="153" width="2.5" height="78" fill="url(#g113)"/><rect x="288.5" y="153" width="1.5" height="78" fill="url(#g114)"/><rect x="290" y="153" width="4" height="78" fill="url(#g115)"/>
</g>
<g filter="url(#q1)">
<rect x="256" y="153" width="30" height="78" fill="url(#g116)"/>
</g>
<g filter="url(#f2)">
<rect x="80" y="249" width="421" height="78" fill="url(#ezbg)"/><rect x="238" y="259" width="1" height="6" fill="#3a3a3a"/><rect x="449" y="267" width="1" height="11" fill="#434343"/><rect x="485" y="269" width="1" height="8" fill="#474747"/><rect x="349" y="259" width="1" height="12" fill="#404040"/><rect x="235" y="263" width="1" height="6" fill="#3a3a3a"/><rect x="408" y="294" width="1" height="4" fill="#3e3e3e"/><rect x="120" y="280" width="1" height="11" fill="#353535"/><rect x="104" y="252" width="1" height="12" fill="#414141"/><rect x="356" y="268" width="1" height="9" fill="#474747"/><rect x="125" y="262" width="1" height="7" fill="#4b4b4b"/><rect x="178" y="267" width="1" height="5" fill="#3a3a3a"/><rect x="361" y="253" width="1" height="5" fill="#464646"/><rect x="160" y="249" width="1" height="74" fill="url(#g117)"/><rect x="161" y="249" width="2" height="74" fill="url(#g118)"/><rect x="163" y="249" width="2" height="74" fill="url(#g119)"/><rect x="166" y="249" width="1" height="74" fill="url(#g120)"/><rect x="167" y="249" width="1" height="74" fill="url(#g121)"/><rect x="169" y="249" width="1" height="74" fill="url(#g122)"/><rect x="170" y="249" width="1" height="74" fill="url(#g123)"/><rect x="172" y="249" width="1" height="74" fill="url(#g124)"/><rect x="174" y="249" width="1" height="74" fill="url(#g125)"/><rect x="179" y="249" width="1" height="74" fill="url(#g126)"/><rect x="181" y="249" width="1" height="74" fill="url(#g127)"/><rect x="184" y="249" width="1" height="74" fill="url(#g128)"/><rect x="187" y="249" width="1" height="74" fill="url(#g129)"/><rect x="198" y="249" width="37" height="74" fill="url(#dz1)"/><rect x="244" y="249" width="25.5" height="78" fill="url(#g130)"/><rect x="269.5" y="249" width="16.5" height="78" fill="url(#g131)"/><rect x="204" y="297" width="5" height="1" fill="#4d4d4d"/><rect x="204" y="308" width="3" height="1" fill="#4a4a4a"/><rect x="215" y="300" width="5" height="1" fill="#484848"/><rect x="204" y="300" width="5" height="1" fill="#484848"/><rect x="208" y="297" width="5" height="1" fill="#444444"/><rect x="209" y="316" width="4" height="1" fill="#4b4b4b"/><rect x="218" y="298" width="5" height="1" fill="#444444"/><rect x="215" y="313" width="2" height="1" fill="#404040"/><rect x="211" y="310" width="4" height="1" fill="#4e4e4e"/><rect x="219" y="298" width="4" height="1" fill="#4c4c4c"/><rect x="221" y="300" width="4" height="1" fill="#424242"/><rect x="204" y="296" width="4" height="1" fill="#434343"/><rect x="210" y="294" width="2" height="1" fill="#575757"/><rect x="229" y="311" width="5" height="1" fill="#414141"/><rect x="231" y="311" width="4" height="1" fill="#454545"/><rect x="231" y="290" width="4" height="1" fill="#494949"/><rect x="210" y="318" width="2" height="1" fill="#444444"/><rect x="219" y="295" width="2" height="1" fill="#444444"/><rect x="216" y="314" width="5" height="1" fill="#4c4c4c"/><rect x="207" y="303" width="4" height="1" fill="#515151"/><rect x="224" y="311" width="3" height="1" fill="#545454"/><rect x="229" y="304" width="5" height="1" fill="#494949"/><rect x="215" y="309" width="3" height="1" fill="#424242"/><rect x="214" y="309" width="3" height="1" fill="#434343"/><rect x="230" y="288" width="5" height="1" fill="#4d4d4d"/><rect x="228" y="306" width="2" height="1" fill="#555555"/><rect x="209" y="309" width="2" height="1" fill="#565656"/><rect x="230" y="310" width="3" height="1" fill="#525252"/><rect x="211" y="292" width="5" height="1" fill="#424242"/><rect x="218" y="290" width="5" height="1" fill="#484848"/><rect x="222" y="249" width="1" height="77" fill="#575757"/><rect x="234" y="249" width="12" height="78" fill="url(#g132)"/><rect x="235" y="249" width="3.5" height="78" fill="url(#g133)"/><rect x="238.3" y="249" width="2.0" height="78" fill="url(#g134)"/><rect x="240.3" y="249" width="2.7" height="78" fill="url(#g135)"/><rect x="243" y="249" width="1.3" height="78" fill="url(#g136)"/><rect x="286" y="249" width="34" height="78" fill="url(#g137)"/><rect x="294" y="249" width="2" height="74" fill="url(#g138)"/><rect x="296" y="249" width="1" height="74" fill="url(#g139)"/><rect x="297" y="249" width="1" height="74" fill="url(#g140)"/><rect x="298" y="249" width="2" height="74" fill="url(#g141)"/><rect x="300" y="249" width="2" height="74" fill="url(#g142)"/><rect x="302" y="249" width="2" height="74" fill="url(#g143)"/><rect x="304" y="249" width="2" height="74" fill="url(#g144)"/><rect x="306" y="249" width="1" height="74" fill="url(#g145)"/><rect x="307" y="249" width="2" height="74" fill="url(#g146)"/><rect x="309" y="249" width="2" height="74" fill="url(#g147)"/><rect x="311" y="249" width="2" height="74" fill="url(#g148)"/><rect x="286" y="249" width="2.5" height="78" fill="url(#g149)"/><rect x="290" y="249" width="4" height="78" fill="url(#g150)"/><rect x="476" y="249" width="1" height="74" fill="url(#g151)"/><rect x="477" y="249" width="2" height="74" fill="url(#g152)"/><rect x="479" y="249" width="2" height="74" fill="url(#g153)"/><rect x="481" y="249" width="1" height="74" fill="url(#g154)"/><rect x="485" y="249" width="2" height="74" fill="url(#g155)"/><rect x="487" y="249" width="1" height="74" fill="url(#g156)"/><rect x="488" y="249" width="2" height="74" fill="url(#g157)"/><rect x="493" y="249" width="2" height="74" fill="url(#g158)"/><rect x="495" y="249" width="2" height="74" fill="url(#g159)"/><rect x="497" y="249" width="1" height="74" fill="url(#g160)"/>
</g>
<g filter="url(#q2)">
<rect x="244.5" y="249" width="25.0" height="78" fill="url(#g161)"/>
</g>
<g filter="url(#f3)">
<rect x="80" y="364" width="421" height="78" fill="url(#bbg3)"/>
</g>
<g filter="url(#f4)">
<rect x="80" y="460" width="421" height="78" fill="url(#bbg4)"/>
</g>
<g filter="url(#f5)">
<rect x="80" y="556" width="421" height="78" fill="url(#bbg5)"/>
</g>
<rect x="93.85" y="58" width="1.3" height="76" fill="#ff0900"/>
<rect x="104.85" y="58" width="1.3" height="76" fill="#ff0900"/>
<rect x="111.85" y="58" width="1.3" height="76" fill="#ff0900"/>
<rect x="137.85" y="58" width="1.3" height="76" fill="#ff1600"/>
<rect x="143.85" y="58" width="1.3" height="76" fill="#fff100"/>
<rect x="149.85" y="58" width="1.3" height="76" fill="#ff0900"/>
<rect x="158.85" y="58" width="1.3" height="76" fill="url(#l162)"/>
<rect x="192.85" y="58" width="1.3" height="76" fill="#ff0900"/>
<rect x="316.85" y="58" width="1.3" height="76" fill="url(#l163)"/>
<rect x="317.85" y="58" width="1.3" height="76" fill="#00ff32" opacity="0.6"/>
<rect x="369.85" y="58" width="1.3" height="76" fill="#ffcf00"/>
<rect x="472.85" y="58" width="1.3" height="76" fill="#ff0900"/>
<rect x="479.85" y="58" width="1.3" height="76" fill="#00ff50"/>
<rect x="490.85" y="58" width="1.3" height="76" fill="#fff100"/>
<rect x="93.85" y="154" width="1.3" height="76" fill="#90ff00"/>
<rect x="104.85" y="154" width="1.3" height="76" fill="#ffa000"/>
<rect x="111.85" y="154" width="1.3" height="76" fill="#ffa000"/>
<rect x="137.85" y="154" width="1.3" height="76" fill="#80ff00"/>
<rect x="143.85" y="154" width="1.3" height="76" fill="#ff0900"/>
<rect x="149.85" y="154" width="1.3" height="76" fill="#ff0900"/>
<rect x="158.85" y="154" width="1.3" height="76" fill="url(#l162)"/>
<rect x="192.85" y="154" width="1.3" height="76" fill="#ff0900"/>
<rect x="261.85" y="154" width="1.3" height="76" fill="#ff1f00"/>
<rect x="316.85" y="154" width="1.3" height="76" fill="#00ff64"/>
<rect x="369.85" y="154" width="1.3" height="76" fill="#00ffd4"/>
<rect x="472.85" y="154" width="1.3" height="76" fill="#ffaa00"/>
<rect x="479.85" y="154" width="1.3" height="76" fill="#00ff00"/>
<rect x="490.85" y="154" width="1.3" height="76" fill="#20ff00"/>
<rect x="93.85" y="250" width="1.3" height="76" fill="#ff0900"/>
<rect x="104.85" y="250" width="1.3" height="76" fill="#ff0900"/>
<rect x="111.85" y="250" width="1.3" height="76" fill="#ff0900"/>
<rect x="139.85" y="250" width="1.3" height="76" fill="#00ff14" opacity="0.8"/>
<rect x="143.85" y="250" width="1.3" height="76" fill="#ff0900"/>
<rect x="149.85" y="250" width="2.3" height="76" fill="#ff0900"/>
<rect x="158.85" y="250" width="1.3" height="76" fill="url(#l164)" opacity="0.7"/>
<rect x="192.85" y="250" width="1.3" height="76" fill="#ff0900"/>
<rect x="317.85" y="250" width="1.3" height="76" fill="url(#l165)"/>
<rect x="472.85" y="250" width="1.3" height="76" fill="#ff0900"/>
<rect x="479.85" y="250" width="1.3" height="76" fill="url(#l166)"/>
<rect x="497.85" y="250" width="1.3" height="76" fill="#ff0900"/>
<rect x="86.85" y="365" width="1.3" height="61" fill="url(#l167)" opacity="0.8"/>
<rect x="93.85" y="365" width="1.3" height="70" fill="url(#l168)"/>
<rect x="111.85" y="365" width="1.3" height="70" fill="url(#l169)"/>
<rect x="143.85" y="365" width="1.3" height="70" fill="url(#l170)"/>
<rect x="149.85" y="365" width="2.3" height="71" fill="url(#l171)"/>
<rect x="192.85" y="365" width="1.3" height="71" fill="url(#l172)"/>
<rect x="369.85" y="365" width="1.3" height="69" fill="url(#l173)"/>
<rect x="472.85" y="365" width="1.3" height="69" fill="url(#l174)"/>
<rect x="497.85" y="365" width="1.3" height="72" fill="#ff0900"/>
<rect x="86.85" y="461" width="1.3" height="69" fill="url(#l175)"/>
<rect x="93.85" y="461" width="1.3" height="59" fill="url(#l176)" opacity="0.8"/>
<rect x="104.85" y="461" width="1.3" height="69" fill="url(#l177)"/>
<rect x="111.85" y="461" width="1.3" height="70" fill="url(#l178)"/>
<rect x="143.85" y="461" width="1.3" height="70" fill="url(#l179)"/>
<rect x="149.85" y="461" width="2.3" height="70" fill="url(#l180)"/>
<rect x="170.85" y="461" width="1.3" height="54" fill="url(#l176)" opacity="0.8"/>
<rect x="192.85" y="461" width="1.3" height="70" fill="url(#l181)"/>
<rect x="369.85" y="461" width="1.3" height="69" fill="url(#l182)"/>
<rect x="472.85" y="461" width="1.3" height="70" fill="url(#l183)"/>
<rect x="497.85" y="461" width="1.3" height="72" fill="#ff0900"/>
<rect x="86.85" y="557" width="1.3" height="69" fill="url(#l174)"/>
<rect x="93.85" y="557" width="1.3" height="54" fill="url(#l176)" opacity="0.8"/>
<rect x="104.85" y="557" width="1.3" height="65" fill="url(#l184)"/>
<rect x="137.85" y="557" width="1.3" height="69" fill="url(#l174)"/>
<rect x="149.85" y="557" width="2.3" height="70" fill="url(#l185)"/>
<rect x="192.85" y="557" width="1.3" height="67" fill="url(#l186)"/>
<rect x="261.85" y="557" width="1.3" height="61" fill="url(#l187)" opacity="0.95"/>
<rect x="369.85" y="557" width="1.3" height="70" fill="url(#l183)"/>
<rect x="81" y="133" width="419" height="1" fill="#000"/>
<rect x="81" y="229" width="419" height="1" fill="#000"/>
<rect x="81" y="325" width="419" height="1" fill="#000"/>
<rect x="81" y="440" width="419" height="1" fill="#000"/>
<rect x="81" y="536" width="419" height="1" fill="#000"/>
<rect x="81" y="632" width="419" height="1" fill="#000"/>
<rect x="255.5" y="69" width="20.5" height="3" fill="#18f0f8" opacity="0.95"/>
<rect x="255.5" y="75" width="20.5" height="1.4" fill="#2a8cff" opacity="0.75"/>
<rect x="255.5" y="165" width="20.5" height="3" fill="#18f0f8" opacity="0.95"/>
<rect x="255.5" y="171" width="20.5" height="1.4" fill="#2a8cff" opacity="0.75"/>
<rect x="255.5" y="261.3" width="20.5" height="1.9" fill="#30dcf0" opacity="0.92"/>
<rect x="255.5" y="376" width="20.5" height="2.4" fill="#30e0ff" opacity="0.92"/>
<rect x="255.5" y="382" width="20.5" height="1.8" fill="#1a80ff" opacity="0.8"/>
<rect x="255.5" y="472" width="20.5" height="2.4" fill="#30e0ff" opacity="0.92"/>
<rect x="255.5" y="478" width="20.5" height="1.8" fill="#1a80ff" opacity="0.8"/>
<rect x="255.5" y="568.4" width="20.5" height="1.5" fill="#20a8ff" opacity="0.9"/>
<rect x="255.5" y="574.3" width="20.5" height="1.5" fill="#2090ff" opacity="0.85"/>
<rect x="80.5" y="57.5" width="420" height="77" fill="none" stroke="#000" stroke-width="1"/>
<rect x="80.5" y="153.5" width="420" height="77" fill="none" stroke="#000" stroke-width="1"/>
<rect x="80.5" y="249.5" width="420" height="77" fill="none" stroke="#000" stroke-width="1"/>
<rect x="80.5" y="364.5" width="420" height="77" fill="none" stroke="#000" stroke-width="1"/>
<rect x="80.5" y="460.5" width="420" height="77" fill="none" stroke="#000" stroke-width="1"/>
<rect x="80.5" y="556.5" width="420" height="77" fill="none" stroke="#000" stroke-width="1"/>
<path d="M71 134.5H80M501 134.5H509M75 132.5H80M501 132.5H505M75 130.5H80M501 130.5H505M75 127.5H80M501 127.5H505M75 125.5H80M501 125.5H505M71 122.5H80M501 122.5H509M75 119.5H80M501 119.5H505M75 117.5H80M501 117.5H505M75 114.5H80M501 114.5H505M75 112.5H80M501 112.5H505M71 109.5H80M501 109.5H509M75 106.5H80M501 106.5H505M75 104.5H80M501 104.5H505M75 101.5H80M501 101.5H505M75 99.5H80M501 99.5H505M71 96.5H80M501 96.5H509M75 93.5H80M501 93.5H505M75 91.5H80M501 91.5H505M75 88.5H80M501 88.5H505M75 86.5H80M501 86.5H505M71 83.5H80M501 83.5H509M75 80.5H80M501 80.5H505M75 78.5H80M501 78.5H505M75 75.5H80M501 75.5H505M75 73.5H80M501 73.5H505M71 70.5H80M501 70.5H509M75 67.5H80M501 67.5H505M75 65.5H80M501 65.5H505M75 62.5H80M501 62.5H505M75 60.5H80M501 60.5H505M71 57.5H80M501 57.5H509M80.5 135v2M80.5 57v-1M115.5 135v1M150.5 135v1M185.5 135v2M185.5 57v-1M220.5 135v1M255.5 135v1M290.5 135v2M290.5 57v-1M325.5 135v1M360.5 135v1M395.5 135v2M395.5 57v-1M430.5 135v1M465.5 135v1M500.5 135v2M500.5 57v-1M71 230.5H80M501 230.5H509M75 228.5H80M501 228.5H505M75 226.5H80M501 226.5H505M75 223.5H80M501 223.5H505M75 221.5H80M501 221.5H505M71 218.5H80M501 218.5H509M75 215.5H80M501 215.5H505M75 213.5H80M501 213.5H505M75 210.5H80M501 210.5H505M75 208.5H80M501 208.5H505M71 205.5H80M501 205.5H509M75 202.5H80M501 202.5H505M75 200.5H80M501 200.5H505M75 197.5H80M501 197.5H505M75 195.5H80M501 195.5H505M71 192.5H80M501 192.5H509M75 189.5H80M501 189.5H505M75 187.5H80M501 187.5H505M75 184.5H80M501 184.5H505M75 182.5H80M501 182.5H505M71 179.5H80M501 179.5H509M75 176.5H80M501 176.5H505M75 174.5H80M501 174.5H505M75 171.5H80M501 171.5H505M75 169.5H80M501 169.5H505M71 166.5H80M501 166.5H509M75 163.5H80M501 163.5H505M75 161.5H80M501 161.5H505M75 158.5H80M501 158.5H505M75 156.5H80M501 156.5H505M71 153.5H80M501 153.5H509M80.5 231v2M80.5 153v-1M115.5 231v1M150.5 231v1M185.5 231v2M185.5 153v-1M220.5 231v1M255.5 231v1M290.5 231v2M290.5 153v-1M325.5 231v1M360.5 231v1M395.5 231v2M395.5 153v-1M430.5 231v1M465.5 231v1M500.5 231v2M500.5 153v-1M71 326.5H80M501 326.5H509M75 324.5H80M501 324.5H505M75 322.5H80M501 322.5H505M75 319.5H80M501 319.5H505M75 317.5H80M501 317.5H505M71 314.5H80M501 314.5H509M75 311.5H80M501 311.5H505M75 309.5H80M501 309.5H505M75 306.5H80M501 306.5H505M75 304.5H80M501 304.5H505M71 301.5H80M501 301.5H509M75 298.5H80M501 298.5H505M75 296.5H80M501 296.5H505M75 293.5H80M501 293.5H505M75 291.5H80M501 291.5H505M71 288.5H80M501 288.5H509M75 285.5H80M501 285.5H505M75 283.5H80M501 283.5H505M75 280.5H80M501 280.5H505M75 278.5H80M501 278.5H505M71 275.5H80M501 275.5H509M75 272.5H80M501 272.5H505M75 270.5H80M501 270.5H505M75 267.5H80M501 267.5H505M75 265.5H80M501 265.5H505M71 262.5H80M501 262.5H509M75 259.5H80M501 259.5H505M75 257.5H80M501 257.5H505M75 254.5H80M501 254.5H505M75 252.5H80M501 252.5H505M71 249.5H80M501 249.5H509M80.5 327v2M80.5 249v-1M115.5 327v1M150.5 327v1M185.5 327v2M185.5 249v-1M220.5 327v1M255.5 327v1M290.5 327v2M290.5 249v-1M325.5 327v1M360.5 327v1M395.5 327v2M395.5 249v-1M430.5 327v1M465.5 327v1M500.5 327v2M500.5 249v-1M71 441.5H80M501 441.5H509M75 439.5H80M501 439.5H505M75 437.5H80M501 437.5H505M75 434.5H80M501 434.5H505M75 432.5H80M501 432.5H505M71 429.5H80M501 429.5H509M75 426.5H80M501 426.5H505M75 424.5H80M501 424.5H505M75 421.5H80M501 421.5H505M75 419.5H80M501 419.5H505M71 416.5H80M501 416.5H509M75 413.5H80M501 413.5H505M75 411.5H80M501 411.5H505M75 408.5H80M501 408.5H505M75 406.5H80M501 406.5H505M71 403.5H80M501 403.5H509M75 400.5H80M501 400.5H505M75 398.5H80M501 398.5H505M75 395.5H80M501 395.5H505M75 393.5H80M501 393.5H505M71 390.5H80M501 390.5H509M75 387.5H80M501 387.5H505M75 385.5H80M501 385.5H505M75 382.5H80M501 382.5H505M75 380.5H80M501 380.5H505M71 377.5H80M501 377.5H509M75 374.5H80M501 374.5H505M75 372.5H80M501 372.5H505M75 369.5H80M501 369.5H505M75 367.5H80M501 367.5H505M71 364.5H80M501 364.5H509M80.5 442v2M80.5 364v-1M115.5 442v1M150.5 442v1M185.5 442v2M185.5 364v-1M220.5 442v1M255.5 442v1M290.5 442v2M290.5 364v-1M325.5 442v1M360.5 442v1M395.5 442v2M395.5 364v-1M430.5 442v1M465.5 442v1M500.5 442v2M500.5 364v-1M71 537.5H80M501 537.5H509M75 535.5H80M501 535.5H505M75 533.5H80M501 533.5H505M75 530.5H80M501 530.5H505M75 528.5H80M501 528.5H505M71 525.5H80M501 525.5H509M75 522.5H80M501 522.5H505M75 520.5H80M501 520.5H505M75 517.5H80M501 517.5H505M75 515.5H80M501 515.5H505M71 512.5H80M501 512.5H509M75 509.5H80M501 509.5H505M75 507.5H80M501 507.5H505M75 504.5H80M501 504.5H505M75 502.5H80M501 502.5H505M71 499.5H80M501 499.5H509M75 496.5H80M501 496.5H505M75 494.5H80M501 494.5H505M75 491.5H80M501 491.5H505M75 489.5H80M501 489.5H505M71 486.5H80M501 486.5H509M75 483.5H80M501 483.5H505M75 481.5H80M501 481.5H505M75 478.5H80M501 478.5H505M75 476.5H80M501 476.5H505M71 473.5H80M501 473.5H509M75 470.5H80M501 470.5H505M75 468.5H80M501 468.5H505M75 465.5H80M501 465.5H505M75 463.5H80M501 463.5H505M71 460.5H80M501 460.5H509M80.5 538v2M80.5 460v-1M115.5 538v1M150.5 538v1M185.5 538v2M185.5 460v-1M220.5 538v1M255.5 538v1M290.5 538v2M290.5 460v-1M325.5 538v1M360.5 538v1M395.5 538v2M395.5 460v-1M430.5 538v1M465.5 538v1M500.5 538v2M500.5 460v-1M71 633.5H80M501 633.5H509M75 631.5H80M501 631.5H505M75 629.5H80M501 629.5H505M75 626.5H80M501 626.5H505M75 624.5H80M501 624.5H505M71 621.5H80M501 621.5H509M75 618.5H80M501 618.5H505M75 616.5H80M501 616.5H505M75 613.5H80M501 613.5H505M75 611.5H80M501 611.5H505M71 608.5H80M501 608.5H509M75 605.5H80M501 605.5H505M75 603.5H80M501 603.5H505M75 600.5H80M501 600.5H505M75 598.5H80M501 598.5H505M71 595.5H80M501 595.5H509M75 592.5H80M501 592.5H505M75 590.5H80M501 590.5H505M75 587.5H80M501 587.5H505M75 585.5H80M501 585.5H505M71 582.5H80M501 582.5H509M75 579.5H80M501 579.5H505M75 577.5H80M501 577.5H505M75 574.5H80M501 574.5H505M75 572.5H80M501 572.5H505M71 569.5H80M501 569.5H509M75 566.5H80M501 566.5H505M75 564.5H80M501 564.5H505M75 561.5H80M501 561.5H505M75 559.5H80M501 559.5H505M71 556.5H80M501 556.5H509M80.5 634v2M80.5 556v-1M115.5 634v1M150.5 634v1M185.5 634v2M185.5 556v-1M220.5 634v1M255.5 634v1M290.5 634v2M290.5 556v-1M325.5 634v1M360.5 634v1M395.5 634v2M395.5 556v-1M430.5 634v1M465.5 634v1M500.5 634v2M500.5 556v-1" stroke="#000" stroke-width="1" fill="none" shape-rendering="crispEdges"/>
<text x="290" y="33" font-size="16.5" text-anchor="middle" textLength="337" lengthAdjust="spacing">Polar PWI LFWR Channels 1 – 6 Despun</text>
<text x="66.8" y="66.3" font-size="14.3" text-anchor="end">30</text>
<text x="66.8" y="75.9" font-size="14.3" text-anchor="end">25</text>
<text x="66.8" y="88.4" font-size="14.3" text-anchor="end">20</text>
<text x="66.8" y="101.5" font-size="14.3" text-anchor="end">15</text>
<text x="66.8" y="114.6" font-size="14.3" text-anchor="end">10</text>
<text x="66.8" y="127.0" font-size="14.3" text-anchor="end">5</text>
<text x="66.8" y="134.3" font-size="14.3" text-anchor="end">0</text>
<text transform="translate(40.5,96.5) rotate(-90)" font-size="15.2" text-anchor="middle" textLength="85.5" lengthAdjust="spacing">Ex' freq (Hz)</text>
<text x="66.8" y="162.3" font-size="14.3" text-anchor="end">30</text>
<text x="66.8" y="171.9" font-size="14.3" text-anchor="end">25</text>
<text x="66.8" y="184.4" font-size="14.3" text-anchor="end">20</text>
<text x="66.8" y="197.5" font-size="14.3" text-anchor="end">15</text>
<text x="66.8" y="210.6" font-size="14.3" text-anchor="end">10</text>
<text x="66.8" y="223.1" font-size="14.3" text-anchor="end">5</text>
<text x="66.8" y="230.3" font-size="14.3" text-anchor="end">0</text>
<text transform="translate(40.5,192.5) rotate(-90)" font-size="15.2" text-anchor="middle" textLength="85.5" lengthAdjust="spacing">Ey' freq (Hz)</text>
<text x="66.8" y="258.3" font-size="14.3" text-anchor="end">30</text>
<text x="66.8" y="267.9" font-size="14.3" text-anchor="end">25</text>
<text x="66.8" y="280.4" font-size="14.3" text-anchor="end">20</text>
<text x="66.8" y="293.5" font-size="14.3" text-anchor="end">15</text>
<text x="66.8" y="306.6" font-size="14.3" text-anchor="end">10</text>
<text x="66.8" y="319.1" font-size="14.3" text-anchor="end">5</text>
<text x="66.8" y="326.3" font-size="14.3" text-anchor="end">0</text>
<text transform="translate(40.5,288.5) rotate(-90)" font-size="15.2" text-anchor="middle" textLength="85.5" lengthAdjust="spacing">Ez freq (Hz)</text>
<text x="66.8" y="373.3" font-size="14.3" text-anchor="end">30</text>
<text x="66.8" y="382.9" font-size="14.3" text-anchor="end">25</text>
<text x="66.8" y="395.4" font-size="14.3" text-anchor="end">20</text>
<text x="66.8" y="408.5" font-size="14.3" text-anchor="end">15</text>
<text x="66.8" y="421.6" font-size="14.3" text-anchor="end">10</text>
<text x="66.8" y="434.0" font-size="14.3" text-anchor="end">5</text>
<text x="66.8" y="441.3" font-size="14.3" text-anchor="end">0</text>
<text transform="translate(40.5,403.5) rotate(-90)" font-size="15.2" text-anchor="middle" textLength="85.5" lengthAdjust="spacing">Bx' freq (Hz)</text>
<text x="66.8" y="469.3" font-size="14.3" text-anchor="end">30</text>
<text x="66.8" y="478.9" font-size="14.3" text-anchor="end">25</text>
<text x="66.8" y="491.4" font-size="14.3" text-anchor="end">20</text>
<text x="66.8" y="504.5" font-size="14.3" text-anchor="end">15</text>
<text x="66.8" y="517.6" font-size="14.3" text-anchor="end">10</text>
<text x="66.8" y="530.0" font-size="14.3" text-anchor="end">5</text>
<text x="66.8" y="537.3" font-size="14.3" text-anchor="end">0</text>
<text transform="translate(40.5,499.5) rotate(-90)" font-size="15.2" text-anchor="middle" textLength="85.5" lengthAdjust="spacing">By' freq (Hz)</text>
<text x="66.8" y="565.3" font-size="14.3" text-anchor="end">30</text>
<text x="66.8" y="574.9" font-size="14.3" text-anchor="end">25</text>
<text x="66.8" y="587.4" font-size="14.3" text-anchor="end">20</text>
<text x="66.8" y="600.5" font-size="14.3" text-anchor="end">15</text>
<text x="66.8" y="613.6" font-size="14.3" text-anchor="end">10</text>
<text x="66.8" y="626.0" font-size="14.3" text-anchor="end">5</text>
<text x="66.8" y="633.3" font-size="14.3" text-anchor="end">0</text>
<text transform="translate(40.5,595.5) rotate(-90)" font-size="15.2" text-anchor="middle" textLength="85.5" lengthAdjust="spacing">Bz freq (Hz)</text>
<rect x="581" y="58" width="19" height="76" fill="url(#cbar)"/><rect x="580.5" y="57.5" width="20" height="77" fill="none" stroke="#000"/><path d="M576 57.5H580M601 57.5H605M578 70.5H580M601 70.5H603M578 67.5H580M601 67.5H603M578 65.5H580M601 65.5H603M578 63.5H580M601 63.5H603M578 61.5H580M601 61.5H603M578 60.5H580M601 60.5H603M578 59.5H580M601 59.5H603M578 58.5H580M601 58.5H603M576 76.5H580M601 76.5H605M578 90.5H580M601 90.5H603M578 86.5H580M601 86.5H603M578 84.5H580M601 84.5H603M578 82.5H580M601 82.5H603M578 81.5H580M601 81.5H603M578 79.5H580M601 79.5H603M578 78.5H580M601 78.5H603M578 77.5H580M601 77.5H603M576 96.5H580M601 96.5H605M578 109.5H580M601 109.5H603M578 106.5H580M601 106.5H603M578 103.5H580M601 103.5H603M578 101.5H580M601 101.5H603M578 100.5H580M601 100.5H603M578 98.5H580M601 98.5H603M578 97.5H580M601 97.5H603M578 96.5H580M601 96.5H603M576 115.5H580M601 115.5H605M578 128.5H580M601 128.5H603M578 125.5H580M601 125.5H603M578 122.5H580M601 122.5H603M578 121.5H580M601 121.5H603M578 119.5H580M601 119.5H603M578 118.5H580M601 118.5H603M578 117.5H580M601 117.5H603M578 116.5H580M601 116.5H603M576 134.5H580M601 134.5H605" stroke="#000" fill="none" shape-rendering="crispEdges"/><text x="551.0" y="65.8" font-size="13.5" text-anchor="end" textLength="14.3" lengthAdjust="spacing">10</text><text x="571" y="59.0" font-size="13.5" text-anchor="end">6</text><path d="M553.6 54.5h8.6" stroke="#000" stroke-width="1" shape-rendering="crispEdges"/><text x="551.0" y="81.8" font-size="13.5" text-anchor="end" textLength="14.3" lengthAdjust="spacing">10</text><text x="571" y="75.0" font-size="13.5" text-anchor="end">7</text><path d="M553.6 70.5h8.6" stroke="#000" stroke-width="1" shape-rendering="crispEdges"/><text x="551.0" y="101.0" font-size="13.5" text-anchor="end" textLength="14.3" lengthAdjust="spacing">10</text><text x="571" y="94.2" font-size="13.5" text-anchor="end">8</text><path d="M553.6 89.5h8.6" stroke="#000" stroke-width="1" shape-rendering="crispEdges"/><text x="551.0" y="120.2" font-size="13.5" text-anchor="end" textLength="14.3" lengthAdjust="spacing">10</text><text x="571" y="113.4" font-size="13.5" text-anchor="end">9</text><path d="M553.6 108.5h8.6" stroke="#000" stroke-width="1" shape-rendering="crispEdges"/><text x="543.1999999999999" y="134.5" font-size="13.5" text-anchor="end" textLength="14.3" lengthAdjust="spacing">10</text><text x="571" y="127.7" font-size="13.5" text-anchor="end" textLength="15.8" lengthAdjust="spacing">10</text><path d="M545.8 123.5h8.6" stroke="#000" stroke-width="1" shape-rendering="crispEdges"/>
<rect x="581" y="154" width="19" height="76" fill="url(#cbar)"/><rect x="580.5" y="153.5" width="20" height="77" fill="none" stroke="#000"/><path d="M576 153.5H580M601 153.5H605M578 166.5H580M601 166.5H603M578 163.5H580M601 163.5H603M578 161.5H580M601 161.5H603M578 159.5H580M601 159.5H603M578 157.5H580M601 157.5H603M578 156.5H580M601 156.5H603M578 155.5H580M601 155.5H603M578 154.5H580M601 154.5H603M576 172.5H580M601 172.5H605M578 186.5H580M601 186.5H603M578 182.5H580M601 182.5H603M578 180.5H580M601 180.5H603M578 178.5H580M601 178.5H603M578 177.5H580M601 177.5H603M578 175.5H580M601 175.5H603M578 174.5H580M601 174.5H603M578 173.5H580M601 173.5H603M576 192.5H580M601 192.5H605M578 205.5H580M601 205.5H603M578 202.5H580M601 202.5H603M578 199.5H580M601 199.5H603M578 197.5H580M601 197.5H603M578 196.5H580M601 196.5H603M578 194.5H580M601 194.5H603M578 193.5H580M601 193.5H603M578 192.5H580M601 192.5H603M576 211.5H580M601 211.5H605M578 224.5H580M601 224.5H603M578 221.5H580M601 221.5H603M578 218.5H580M601 218.5H603M578 217.5H580M601 217.5H603M578 215.5H580M601 215.5H603M578 214.5H580M601 214.5H603M578 213.5H580M601 213.5H603M578 212.5H580M601 212.5H603M576 230.5H580M601 230.5H605" stroke="#000" fill="none" shape-rendering="crispEdges"/><text x="551.0" y="161.8" font-size="13.5" text-anchor="end" textLength="14.3" lengthAdjust="spacing">10</text><text x="571" y="155.0" font-size="13.5" text-anchor="end">6</text><path d="M553.6 150.5h8.6" stroke="#000" stroke-width="1" shape-rendering="crispEdges"/><text x="551.0" y="177.8" font-size="13.5" text-anchor="end" textLength="14.3" lengthAdjust="spacing">10</text><text x="571" y="171.0" font-size="13.5" text-anchor="end">7</text><path d="M553.6 166.5h8.6" stroke="#000" stroke-width="1" shape-rendering="crispEdges"/><text x="551.0" y="197.0" font-size="13.5" text-anchor="end" textLength="14.3" lengthAdjust="spacing">10</text><text x="571" y="190.2" font-size="13.5" text-anchor="end">8</text><path d="M553.6 185.5h8.6" stroke="#000" stroke-width="1" shape-rendering="crispEdges"/><text x="551.0" y="216.2" font-size="13.5" text-anchor="end" textLength="14.3" lengthAdjust="spacing">10</text><text x="571" y="209.4" font-size="13.5" text-anchor="end">9</text><path d="M553.6 204.5h8.6" stroke="#000" stroke-width="1" shape-rendering="crispEdges"/><text x="543.1999999999999" y="230.5" font-size="13.5" text-anchor="end" textLength="14.3" lengthAdjust="spacing">10</text><text x="571" y="223.7" font-size="13.5" text-anchor="end" textLength="15.8" lengthAdjust="spacing">10</text><path d="M545.8 219.5h8.6" stroke="#000" stroke-width="1" shape-rendering="crispEdges"/>
<rect x="581" y="250" width="19" height="76" fill="url(#cbar)"/><rect x="580.5" y="249.5" width="20" height="77" fill="none" stroke="#000"/><path d="M576 249.5H580M601 249.5H605M578 267.5H580M601 267.5H603M578 262.5H580M601 262.5H603M578 259.5H580M601 259.5H603M578 257.5H580M601 257.5H603M578 255.5H580M601 255.5H603M578 253.5H580M601 253.5H603M578 251.5H580M601 251.5H603M578 250.5H580M601 250.5H603M576 275.5H580M601 275.5H605M578 293.5H580M601 293.5H603M578 288.5H580M601 288.5H603M578 285.5H580M601 285.5H603M578 282.5H580M601 282.5H603M578 280.5H580M601 280.5H603M578 279.5H580M601 279.5H603M578 277.5H580M601 277.5H603M578 276.5H580M601 276.5H603M576 300.5H580M601 300.5H605M578 318.5H580M601 318.5H603M578 314.5H580M601 314.5H603M578 311.5H580M601 311.5H603M578 308.5H580M601 308.5H603M578 306.5H580M601 306.5H603M578 304.5H580M601 304.5H603M578 303.5H580M601 303.5H603M578 302.5H580M601 302.5H603M576 326.5H580M601 326.5H605" stroke="#000" fill="none" shape-rendering="crispEdges"/><text x="551.0" y="257.8" font-size="13.5" text-anchor="end" textLength="14.3" lengthAdjust="spacing">10</text><text x="571" y="251.0" font-size="13.5" text-anchor="end">6</text><path d="M553.6 246.5h8.6" stroke="#000" stroke-width="1" shape-rendering="crispEdges"/><text x="551.0" y="280.2" font-size="13.5" text-anchor="end" textLength="14.3" lengthAdjust="spacing">10</text><text x="571" y="273.4" font-size="13.5" text-anchor="end">7</text><path d="M553.6 268.5h8.6" stroke="#000" stroke-width="1" shape-rendering="crispEdges"/><text x="551.0" y="305.8" font-size="13.5" text-anchor="end" textLength="14.3" lengthAdjust="spacing">10</text><text x="571" y="299.0" font-size="13.5" text-anchor="end">8</text><path d="M553.6 294.5h8.6" stroke="#000" stroke-width="1" shape-rendering="crispEdges"/><text x="551.0" y="326.5" font-size="13.5" text-anchor="end" textLength="14.3" lengthAdjust="spacing">10</text><text x="571" y="319.7" font-size="13.5" text-anchor="end">9</text><path d="M553.6 315.5h8.6" stroke="#000" stroke-width="1" shape-rendering="crispEdges"/>
<rect x="581" y="365" width="19" height="76" fill="url(#cbar)"/><rect x="580.5" y="364.5" width="20" height="77" fill="none" stroke="#000"/><path d="M576 364.5H580M601 364.5H605M578 375.5H580M601 375.5H603M578 372.5H580M601 372.5H603M578 370.5H580M601 370.5H603M578 369.5H580M601 369.5H603M578 367.5H580M601 367.5H603M578 366.5H580M601 366.5H603M578 365.5H580M601 365.5H603M578 365.5H580M601 365.5H603M576 379.5H580M601 379.5H605M578 390.5H580M601 390.5H603M578 387.5H580M601 387.5H603M578 386.5H580M601 386.5H603M578 384.5H580M601 384.5H603M578 383.5H580M601 383.5H603M578 382.5H580M601 382.5H603M578 381.5H580M601 381.5H603M578 380.5H580M601 380.5H603M576 395.5H580M601 395.5H605M578 406.5H580M601 406.5H603M578 403.5H580M601 403.5H603M578 401.5H580M601 401.5H603M578 399.5H580M601 399.5H603M578 398.5H580M601 398.5H603M578 397.5H580M601 397.5H603M578 396.5H580M601 396.5H603M578 396.5H580M601 396.5H603M576 410.5H580M601 410.5H605M578 421.5H580M601 421.5H603M578 418.5H580M601 418.5H603M578 416.5H580M601 416.5H603M578 415.5H580M601 415.5H603M578 414.5H580M601 414.5H603M578 413.5H580M601 413.5H603M578 412.5H580M601 412.5H603M578 411.5H580M601 411.5H603M576 426.5H580M601 426.5H605M578 436.5H580M601 436.5H603M578 434.5H580M601 434.5H603M578 432.5H580M601 432.5H603M578 430.5H580M601 430.5H603M578 429.5H580M601 429.5H603M578 428.5H580M601 428.5H603M578 427.5H580M601 427.5H603M578 426.5H580M601 426.5H603M576 441.5H580M601 441.5H605" stroke="#000" fill="none" shape-rendering="crispEdges"/><text x="551.0" y="372.8" font-size="13.5" text-anchor="end" textLength="14.3" lengthAdjust="spacing">10</text><text x="571" y="366.0" font-size="13.5" text-anchor="end">1</text><path d="M553.6 361.5h8.6" stroke="#000" stroke-width="1" shape-rendering="crispEdges"/><text x="551.0" y="384.9" font-size="13.5" text-anchor="end" textLength="14.3" lengthAdjust="spacing">10</text><text x="571" y="378.1" font-size="13.5" text-anchor="end">2</text><path d="M553.6 373.5h8.6" stroke="#000" stroke-width="1" shape-rendering="crispEdges"/><text x="551.0" y="400.3" font-size="13.5" text-anchor="end" textLength="14.3" lengthAdjust="spacing">10</text><text x="571" y="393.5" font-size="13.5" text-anchor="end">3</text><path d="M553.6 388.5h8.6" stroke="#000" stroke-width="1" shape-rendering="crispEdges"/><text x="551.0" y="415.7" font-size="13.5" text-anchor="end" textLength="14.3" lengthAdjust="spacing">10</text><text x="571" y="408.9" font-size="13.5" text-anchor="end">4</text><path d="M553.6 404.5h8.6" stroke="#000" stroke-width="1" shape-rendering="crispEdges"/><text x="551.0" y="431.1" font-size="13.5" text-anchor="end" textLength="14.3" lengthAdjust="spacing">10</text><text x="571" y="424.3" font-size="13.5" text-anchor="end">5</text><path d="M553.6 419.5h8.6" stroke="#000" stroke-width="1" shape-rendering="crispEdges"/><text x="551.0" y="442.0" font-size="13.5" text-anchor="end" textLength="14.3" lengthAdjust="spacing">10</text><text x="571" y="435.2" font-size="13.5" text-anchor="end">6</text><path d="M553.6 430.5h8.6" stroke="#000" stroke-width="1" shape-rendering="crispEdges"/>
<rect x="581" y="461" width="19" height="76" fill="url(#cbar)"/><rect x="580.5" y="460.5" width="20" height="77" fill="none" stroke="#000"/><path d="M576 460.5H580M601 460.5H605M578 471.5H580M601 471.5H603M578 468.5H580M601 468.5H603M578 466.5H580M601 466.5H603M578 465.5H580M601 465.5H603M578 463.5H580M601 463.5H603M578 462.5H580M601 462.5H603M578 461.5H580M601 461.5H603M578 461.5H580M601 461.5H603M576 475.5H580M601 475.5H605M578 486.5H580M601 486.5H603M578 483.5H580M601 483.5H603M578 482.5H580M601 482.5H603M578 480.5H580M601 480.5H603M578 479.5H580M601 479.5H603M578 478.5H580M601 478.5H603M578 477.5H580M601 477.5H603M578 476.5H580M601 476.5H603M576 491.5H580M601 491.5H605M578 502.5H580M601 502.5H603M578 499.5H580M601 499.5H603M578 497.5H580M601 497.5H603M578 495.5H580M601 495.5H603M578 494.5H580M601 494.5H603M578 493.5H580M601 493.5H603M578 492.5H580M601 492.5H603M578 492.5H580M601 492.5H603M576 506.5H580M601 506.5H605M578 517.5H580M601 517.5H603M578 514.5H580M601 514.5H603M578 512.5H580M601 512.5H603M578 511.5H580M601 511.5H603M578 510.5H580M601 510.5H603M578 509.5H580M601 509.5H603M578 508.5H580M601 508.5H603M578 507.5H580M601 507.5H603M576 522.5H580M601 522.5H605M578 532.5H580M601 532.5H603M578 530.5H580M601 530.5H603M578 528.5H580M601 528.5H603M578 526.5H580M601 526.5H603M578 525.5H580M601 525.5H603M578 524.5H580M601 524.5H603M578 523.5H580M601 523.5H603M578 522.5H580M601 522.5H603M576 537.5H580M601 537.5H605" stroke="#000" fill="none" shape-rendering="crispEdges"/><text x="551.0" y="468.8" font-size="13.5" text-anchor="end" textLength="14.3" lengthAdjust="spacing">10</text><text x="571" y="462.0" font-size="13.5" text-anchor="end">1</text><path d="M553.6 457.5h8.6" stroke="#000" stroke-width="1" shape-rendering="crispEdges"/><text x="551.0" y="480.9" font-size="13.5" text-anchor="end" textLength="14.3" lengthAdjust="spacing">10</text><text x="571" y="474.1" font-size="13.5" text-anchor="end">2</text><path d="M553.6 469.5h8.6" stroke="#000" stroke-width="1" shape-rendering="crispEdges"/><text x="551.0" y="496.3" font-size="13.5" text-anchor="end" textLength="14.3" lengthAdjust="spacing">10</text><text x="571" y="489.5" font-size="13.5" text-anchor="end">3</text><path d="M553.6 484.5h8.6" stroke="#000" stroke-width="1" shape-rendering="crispEdges"/><text x="551.0" y="511.7" font-size="13.5" text-anchor="end" textLength="14.3" lengthAdjust="spacing">10</text><text x="571" y="504.9" font-size="13.5" text-anchor="end">4</text><path d="M553.6 500.5h8.6" stroke="#000" stroke-width="1" shape-rendering="crispEdges"/><text x="551.0" y="527.1" font-size="13.5" text-anchor="end" textLength="14.3" lengthAdjust="spacing">10</text><text x="571" y="520.3" font-size="13.5" text-anchor="end">5</text><path d="M553.6 515.5h8.6" stroke="#000" stroke-width="1" shape-rendering="crispEdges"/><text x="551.0" y="538.0" font-size="13.5" text-anchor="end" textLength="14.3" lengthAdjust="spacing">10</text><text x="571" y="531.2" font-size="13.5" text-anchor="end">6</text><path d="M553.6 526.5h8.6" stroke="#000" stroke-width="1" shape-rendering="crispEdges"/>
<rect x="581" y="557" width="19" height="76" fill="url(#cbar)"/><rect x="580.5" y="556.5" width="20" height="77" fill="none" stroke="#000"/><path d="M576 556.5H580M601 556.5H605M578 567.5H580M601 567.5H603M578 564.5H580M601 564.5H603M578 562.5H580M601 562.5H603M578 561.5H580M601 561.5H603M578 559.5H580M601 559.5H603M578 558.5H580M601 558.5H603M578 557.5H580M601 557.5H603M578 557.5H580M601 557.5H603M576 571.5H580M601 571.5H605M578 582.5H580M601 582.5H603M578 579.5H580M601 579.5H603M578 578.5H580M601 578.5H603M578 576.5H580M601 576.5H603M578 575.5H580M601 575.5H603M578 574.5H580M601 574.5H603M578 573.5H580M601 573.5H603M578 572.5H580M601 572.5H603M576 587.5H580M601 587.5H605M578 598.5H580M601 598.5H603M578 595.5H580M601 595.5H603M578 593.5H580M601 593.5H603M578 591.5H580M601 591.5H603M578 590.5H580M601 590.5H603M578 589.5H580M601 589.5H603M578 588.5H580M601 588.5H603M578 588.5H580M601 588.5H603M576 602.5H580M601 602.5H605M578 613.5H580M601 613.5H603M578 610.5H580M601 610.5H603M578 608.5H580M601 608.5H603M578 607.5H580M601 607.5H603M578 606.5H580M601 606.5H603M578 605.5H580M601 605.5H603M578 604.5H580M601 604.5H603M578 603.5H580M601 603.5H603M576 618.5H580M601 618.5H605M578 628.5H580M601 628.5H603M578 626.5H580M601 626.5H603M578 624.5H580M601 624.5H603M578 622.5H580M601 622.5H603M578 621.5H580M601 621.5H603M578 620.5H580M601 620.5H603M578 619.5H580M601 619.5H603M578 618.5H580M601 618.5H603M576 633.5H580M601 633.5H605" stroke="#000" fill="none" shape-rendering="crispEdges"/><text x="551.0" y="564.8" font-size="13.5" text-anchor="end" textLength="14.3" lengthAdjust="spacing">10</text><text x="571" y="558.0" font-size="13.5" text-anchor="end">1</text><path d="M553.6 553.5h8.6" stroke="#000" stroke-width="1" shape-rendering="crispEdges"/><text x="551.0" y="576.9" font-size="13.5" text-anchor="end" textLength="14.3" lengthAdjust="spacing">10</text><text x="571" y="570.1" font-size="13.5" text-anchor="end">2</text><path d="M553.6 565.5h8.6" stroke="#000" stroke-width="1" shape-rendering="crispEdges"/><text x="551.0" y="592.3" font-size="13.5" text-anchor="end" textLength="14.3" lengthAdjust="spacing">10</text><text x="571" y="585.5" font-size="13.5" text-anchor="end">3</text><path d="M553.6 580.5h8.6" stroke="#000" stroke-width="1" shape-rendering="crispEdges"/><text x="551.0" y="607.7" font-size="13.5" text-anchor="end" textLength="14.3" lengthAdjust="spacing">10</text><text x="571" y="600.9" font-size="13.5" text-anchor="end">4</text><path d="M553.6 596.5h8.6" stroke="#000" stroke-width="1" shape-rendering="crispEdges"/><text x="551.0" y="623.1" font-size="13.5" text-anchor="end" textLength="14.3" lengthAdjust="spacing">10</text><text x="571" y="616.3" font-size="13.5" text-anchor="end">5</text><path d="M553.6 611.5h8.6" stroke="#000" stroke-width="1" shape-rendering="crispEdges"/><text x="551.0" y="634.0" font-size="13.5" text-anchor="end" textLength="14.3" lengthAdjust="spacing">10</text><text x="571" y="627.2" font-size="13.5" text-anchor="end">6</text><path d="M553.6 622.5h8.6" stroke="#000" stroke-width="1" shape-rendering="crispEdges"/>
<text x="590" y="37.2" font-size="9.5" text-anchor="middle" textLength="55" lengthAdjust="spacing" class="s">(V/m)²/Hz</text>
<text x="589.5" y="343.7" font-size="9.5" text-anchor="middle" textLength="34" lengthAdjust="spacing" class="s">nT²/Hz</text>
<text x="638" y="766" font-size="8.5" text-anchor="end" textLength="67" lengthAdjust="spacing" class="s">UIowa 19980829</text>
<text x="50" y="654" font-size="13.5" text-anchor="start" textLength="37" lengthAdjust="spacing">00:00</text>
<text x="109" y="654" font-size="13.5" text-anchor="end">2</text>
<text x="155" y="654" font-size="13.5" text-anchor="start" textLength="37" lengthAdjust="spacing">06:00</text>
<text x="214" y="654" font-size="13.5" text-anchor="end">2</text>
<text x="260" y="654" font-size="13.5" text-anchor="start" textLength="37" lengthAdjust="spacing">12:00</text>
<text x="319" y="654" font-size="13.5" text-anchor="end">2</text>
<text x="365" y="654" font-size="13.5" text-anchor="start" textLength="37" lengthAdjust="spacing">18:00</text>
<text x="424" y="654" font-size="13.5" text-anchor="end">2</text>
<text x="470" y="654" font-size="13.5" text-anchor="start" textLength="37" lengthAdjust="spacing">00:00</text>
<text x="529" y="654" font-size="13.5" text-anchor="end">3</text>
<text x="47.8" y="654" font-size="13.5" text-anchor="end" textLength="31.8" lengthAdjust="spacing">SCET</text>
<text x="42" y="671.5" font-size="13.5" text-anchor="end">R</text>
<text x="48.6" y="676" font-size="8.5" text-anchor="end" class="s">E</text>
<text x="40" y="690" font-size="13.5" text-anchor="end">λ</text>
<text x="47.5" y="694.3" font-size="8.5" text-anchor="end" class="s">m</text>
<text x="47.8" y="708" font-size="13.5" text-anchor="end" textLength="23.4" lengthAdjust="spacing">MLT</text>
<text x="48" y="726" font-size="13.5" text-anchor="end">L</text>
<text x="101.2" y="672" font-size="13.5" text-anchor="end" textLength="28.4" lengthAdjust="spacing">8.89</text>
<text x="206.2" y="672" font-size="13.5" text-anchor="end" textLength="28.4" lengthAdjust="spacing">6.33</text>
<text x="311.2" y="672" font-size="13.5" text-anchor="end" textLength="28.4" lengthAdjust="spacing">5.48</text>
<text x="416.2" y="672" font-size="13.5" text-anchor="end" textLength="28.4" lengthAdjust="spacing">8.92</text>
<text x="521.2" y="672" font-size="13.5" text-anchor="end" textLength="28.4" lengthAdjust="spacing">5.84</text>
<text x="101.2" y="690" font-size="13.5" text-anchor="end" textLength="36.5" lengthAdjust="spacing">85.15</text>
<text x="206.2" y="690" font-size="13.5" text-anchor="end" textLength="36.5" lengthAdjust="spacing">38.43</text>
<text x="311.2" y="690" font-size="13.5" text-anchor="end" textLength="36.5" lengthAdjust="spacing">66.38</text>
<text x="416.2" y="690" font-size="13.5" text-anchor="end" textLength="36.5" lengthAdjust="spacing">68.43</text>
<text x="521.2" y="690" font-size="13.5" text-anchor="end" textLength="36.5" lengthAdjust="spacing">38.42</text>
<text x="101.2" y="708" font-size="13.5" text-anchor="end" textLength="36.5" lengthAdjust="spacing">22.13</text>
<text x="206.2" y="708" font-size="13.5" text-anchor="end" textLength="36.5" lengthAdjust="spacing">20.37</text>
<text x="311.2" y="708" font-size="13.5" text-anchor="end" textLength="36.5" lengthAdjust="spacing">10.05</text>
<text x="416.2" y="708" font-size="13.5" text-anchor="end" textLength="36.5" lengthAdjust="spacing">22.02</text>
<text x="521.2" y="708" font-size="13.5" text-anchor="end" textLength="36.5" lengthAdjust="spacing">21.32</text>
<text x="99.5" y="728.5" font-size="13.5" text-anchor="end" textLength="39.4" lengthAdjust="spacing">******</text>
<text x="206.2" y="726" font-size="13.5" text-anchor="end" textLength="36.5" lengthAdjust="spacing">10.26</text>
<text x="311.2" y="726" font-size="13.5" text-anchor="end" textLength="36.5" lengthAdjust="spacing">34.19</text>
<text x="416.2" y="726" font-size="13.5" text-anchor="end" textLength="36.5" lengthAdjust="spacing">65.83</text>
<text x="521.2" y="726" font-size="13.5" text-anchor="end" textLength="28.4" lengthAdjust="spacing">9.60</text>
<text x="290.5" y="744.2" font-size="13.5" text-anchor="middle" textLength="288" lengthAdjust="spacing">1996/06/02 00:00 to 1996/06/03 00:00</text>
</svg>
</body></html>
